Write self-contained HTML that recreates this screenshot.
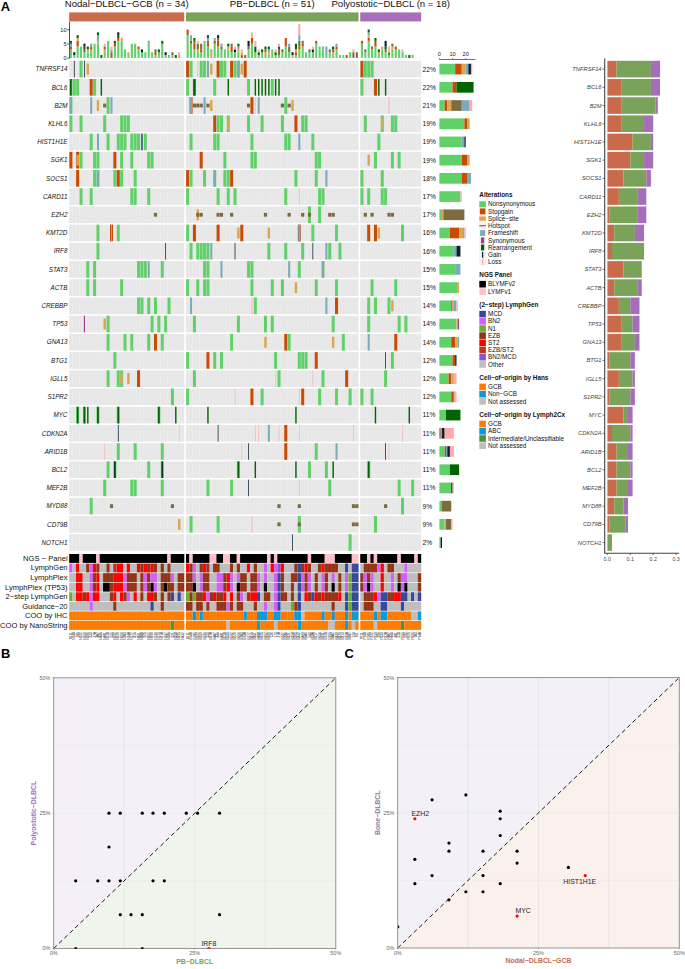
<!DOCTYPE html>
<html><head><meta charset="utf-8"><title>Figure</title>
<style>html,body{margin:0;padding:0;background:#fff}svg{display:block}</style></head>
<body>
<svg width="685" height="969" viewBox="0 0 685 969" font-family="Liberation Sans, sans-serif">
<rect width="685" height="969" fill="#fff"/>
<text x="0.8" y="10.6" font-size="12.9" font-weight="bold" fill="#000">A</text>
<text x="1.0" y="658.3" font-size="12.9" font-weight="bold" fill="#000">B</text>
<text x="344.4" y="658.3" font-size="12.9" font-weight="bold" fill="#000">C</text>
<rect x="69.20" y="12.4" width="115.06" height="9" fill="#c96a4b"/>
<rect x="72.43" y="12.4" width="0.3" height="9" fill="#fff" opacity="0.12"/>
<rect x="75.82" y="12.4" width="0.3" height="9" fill="#fff" opacity="0.12"/>
<rect x="79.20" y="12.4" width="0.3" height="9" fill="#fff" opacity="0.12"/>
<rect x="82.59" y="12.4" width="0.3" height="9" fill="#fff" opacity="0.12"/>
<rect x="85.97" y="12.4" width="0.3" height="9" fill="#fff" opacity="0.12"/>
<rect x="89.35" y="12.4" width="0.3" height="9" fill="#fff" opacity="0.12"/>
<rect x="92.74" y="12.4" width="0.3" height="9" fill="#fff" opacity="0.12"/>
<rect x="96.12" y="12.4" width="0.3" height="9" fill="#fff" opacity="0.12"/>
<rect x="99.51" y="12.4" width="0.3" height="9" fill="#fff" opacity="0.12"/>
<rect x="102.89" y="12.4" width="0.3" height="9" fill="#fff" opacity="0.12"/>
<rect x="106.27" y="12.4" width="0.3" height="9" fill="#fff" opacity="0.12"/>
<rect x="109.66" y="12.4" width="0.3" height="9" fill="#fff" opacity="0.12"/>
<rect x="113.04" y="12.4" width="0.3" height="9" fill="#fff" opacity="0.12"/>
<rect x="116.43" y="12.4" width="0.3" height="9" fill="#fff" opacity="0.12"/>
<rect x="119.81" y="12.4" width="0.3" height="9" fill="#fff" opacity="0.12"/>
<rect x="123.19" y="12.4" width="0.3" height="9" fill="#fff" opacity="0.12"/>
<rect x="126.58" y="12.4" width="0.3" height="9" fill="#fff" opacity="0.12"/>
<rect x="129.96" y="12.4" width="0.3" height="9" fill="#fff" opacity="0.12"/>
<rect x="133.35" y="12.4" width="0.3" height="9" fill="#fff" opacity="0.12"/>
<rect x="136.73" y="12.4" width="0.3" height="9" fill="#fff" opacity="0.12"/>
<rect x="140.11" y="12.4" width="0.3" height="9" fill="#fff" opacity="0.12"/>
<rect x="143.50" y="12.4" width="0.3" height="9" fill="#fff" opacity="0.12"/>
<rect x="146.88" y="12.4" width="0.3" height="9" fill="#fff" opacity="0.12"/>
<rect x="150.27" y="12.4" width="0.3" height="9" fill="#fff" opacity="0.12"/>
<rect x="153.65" y="12.4" width="0.3" height="9" fill="#fff" opacity="0.12"/>
<rect x="157.03" y="12.4" width="0.3" height="9" fill="#fff" opacity="0.12"/>
<rect x="160.42" y="12.4" width="0.3" height="9" fill="#fff" opacity="0.12"/>
<rect x="163.80" y="12.4" width="0.3" height="9" fill="#fff" opacity="0.12"/>
<rect x="167.19" y="12.4" width="0.3" height="9" fill="#fff" opacity="0.12"/>
<rect x="170.57" y="12.4" width="0.3" height="9" fill="#fff" opacity="0.12"/>
<rect x="173.95" y="12.4" width="0.3" height="9" fill="#fff" opacity="0.12"/>
<rect x="177.34" y="12.4" width="0.3" height="9" fill="#fff" opacity="0.12"/>
<rect x="180.72" y="12.4" width="0.3" height="9" fill="#fff" opacity="0.12"/>
<text x="126.73" y="7.0" font-size="9.6" text-anchor="middle" fill="#111">Nodal−DLBCL−GCB (n = 34)</text>
<rect x="185.96" y="12.4" width="172.58" height="9" fill="#78a358"/>
<rect x="189.19" y="12.4" width="0.3" height="9" fill="#fff" opacity="0.12"/>
<rect x="192.57" y="12.4" width="0.3" height="9" fill="#fff" opacity="0.12"/>
<rect x="195.96" y="12.4" width="0.3" height="9" fill="#fff" opacity="0.12"/>
<rect x="199.34" y="12.4" width="0.3" height="9" fill="#fff" opacity="0.12"/>
<rect x="202.73" y="12.4" width="0.3" height="9" fill="#fff" opacity="0.12"/>
<rect x="206.11" y="12.4" width="0.3" height="9" fill="#fff" opacity="0.12"/>
<rect x="209.49" y="12.4" width="0.3" height="9" fill="#fff" opacity="0.12"/>
<rect x="212.88" y="12.4" width="0.3" height="9" fill="#fff" opacity="0.12"/>
<rect x="216.26" y="12.4" width="0.3" height="9" fill="#fff" opacity="0.12"/>
<rect x="219.65" y="12.4" width="0.3" height="9" fill="#fff" opacity="0.12"/>
<rect x="223.03" y="12.4" width="0.3" height="9" fill="#fff" opacity="0.12"/>
<rect x="226.41" y="12.4" width="0.3" height="9" fill="#fff" opacity="0.12"/>
<rect x="229.80" y="12.4" width="0.3" height="9" fill="#fff" opacity="0.12"/>
<rect x="233.18" y="12.4" width="0.3" height="9" fill="#fff" opacity="0.12"/>
<rect x="236.57" y="12.4" width="0.3" height="9" fill="#fff" opacity="0.12"/>
<rect x="239.95" y="12.4" width="0.3" height="9" fill="#fff" opacity="0.12"/>
<rect x="243.33" y="12.4" width="0.3" height="9" fill="#fff" opacity="0.12"/>
<rect x="246.72" y="12.4" width="0.3" height="9" fill="#fff" opacity="0.12"/>
<rect x="250.10" y="12.4" width="0.3" height="9" fill="#fff" opacity="0.12"/>
<rect x="253.49" y="12.4" width="0.3" height="9" fill="#fff" opacity="0.12"/>
<rect x="256.87" y="12.4" width="0.3" height="9" fill="#fff" opacity="0.12"/>
<rect x="260.25" y="12.4" width="0.3" height="9" fill="#fff" opacity="0.12"/>
<rect x="263.64" y="12.4" width="0.3" height="9" fill="#fff" opacity="0.12"/>
<rect x="267.02" y="12.4" width="0.3" height="9" fill="#fff" opacity="0.12"/>
<rect x="270.41" y="12.4" width="0.3" height="9" fill="#fff" opacity="0.12"/>
<rect x="273.79" y="12.4" width="0.3" height="9" fill="#fff" opacity="0.12"/>
<rect x="277.17" y="12.4" width="0.3" height="9" fill="#fff" opacity="0.12"/>
<rect x="280.56" y="12.4" width="0.3" height="9" fill="#fff" opacity="0.12"/>
<rect x="283.94" y="12.4" width="0.3" height="9" fill="#fff" opacity="0.12"/>
<rect x="287.33" y="12.4" width="0.3" height="9" fill="#fff" opacity="0.12"/>
<rect x="290.71" y="12.4" width="0.3" height="9" fill="#fff" opacity="0.12"/>
<rect x="294.09" y="12.4" width="0.3" height="9" fill="#fff" opacity="0.12"/>
<rect x="297.48" y="12.4" width="0.3" height="9" fill="#fff" opacity="0.12"/>
<rect x="300.86" y="12.4" width="0.3" height="9" fill="#fff" opacity="0.12"/>
<rect x="304.25" y="12.4" width="0.3" height="9" fill="#fff" opacity="0.12"/>
<rect x="307.63" y="12.4" width="0.3" height="9" fill="#fff" opacity="0.12"/>
<rect x="311.01" y="12.4" width="0.3" height="9" fill="#fff" opacity="0.12"/>
<rect x="314.40" y="12.4" width="0.3" height="9" fill="#fff" opacity="0.12"/>
<rect x="317.78" y="12.4" width="0.3" height="9" fill="#fff" opacity="0.12"/>
<rect x="321.17" y="12.4" width="0.3" height="9" fill="#fff" opacity="0.12"/>
<rect x="324.55" y="12.4" width="0.3" height="9" fill="#fff" opacity="0.12"/>
<rect x="327.93" y="12.4" width="0.3" height="9" fill="#fff" opacity="0.12"/>
<rect x="331.32" y="12.4" width="0.3" height="9" fill="#fff" opacity="0.12"/>
<rect x="334.70" y="12.4" width="0.3" height="9" fill="#fff" opacity="0.12"/>
<rect x="338.09" y="12.4" width="0.3" height="9" fill="#fff" opacity="0.12"/>
<rect x="341.47" y="12.4" width="0.3" height="9" fill="#fff" opacity="0.12"/>
<rect x="344.85" y="12.4" width="0.3" height="9" fill="#fff" opacity="0.12"/>
<rect x="348.24" y="12.4" width="0.3" height="9" fill="#fff" opacity="0.12"/>
<rect x="351.62" y="12.4" width="0.3" height="9" fill="#fff" opacity="0.12"/>
<rect x="355.01" y="12.4" width="0.3" height="9" fill="#fff" opacity="0.12"/>
<text x="272.25" y="7.0" font-size="9.6" text-anchor="middle" fill="#111">PB−DLBCL (n = 51)</text>
<rect x="360.24" y="12.4" width="60.91" height="9" fill="#a66db9"/>
<rect x="363.47" y="12.4" width="0.3" height="9" fill="#fff" opacity="0.12"/>
<rect x="366.86" y="12.4" width="0.3" height="9" fill="#fff" opacity="0.12"/>
<rect x="370.24" y="12.4" width="0.3" height="9" fill="#fff" opacity="0.12"/>
<rect x="373.63" y="12.4" width="0.3" height="9" fill="#fff" opacity="0.12"/>
<rect x="377.01" y="12.4" width="0.3" height="9" fill="#fff" opacity="0.12"/>
<rect x="380.39" y="12.4" width="0.3" height="9" fill="#fff" opacity="0.12"/>
<rect x="383.78" y="12.4" width="0.3" height="9" fill="#fff" opacity="0.12"/>
<rect x="387.16" y="12.4" width="0.3" height="9" fill="#fff" opacity="0.12"/>
<rect x="390.55" y="12.4" width="0.3" height="9" fill="#fff" opacity="0.12"/>
<rect x="393.93" y="12.4" width="0.3" height="9" fill="#fff" opacity="0.12"/>
<rect x="397.31" y="12.4" width="0.3" height="9" fill="#fff" opacity="0.12"/>
<rect x="400.70" y="12.4" width="0.3" height="9" fill="#fff" opacity="0.12"/>
<rect x="404.08" y="12.4" width="0.3" height="9" fill="#fff" opacity="0.12"/>
<rect x="407.47" y="12.4" width="0.3" height="9" fill="#fff" opacity="0.12"/>
<rect x="410.85" y="12.4" width="0.3" height="9" fill="#fff" opacity="0.12"/>
<rect x="414.23" y="12.4" width="0.3" height="9" fill="#fff" opacity="0.12"/>
<rect x="417.62" y="12.4" width="0.3" height="9" fill="#fff" opacity="0.12"/>
<text x="390.70" y="7.0" font-size="9.6" text-anchor="middle" fill="#111">Polyostotic−DLBCL (n = 18)</text>
<path d="M69.5 21.6V58.3" stroke="#222" stroke-width="0.8" fill="none"/>
<path d="M67.3 58.10H69.5" stroke="#222" stroke-width="0.8"/>
<text x="66.5" y="60.10" font-size="5.6" text-anchor="end" fill="#222">0</text>
<path d="M67.3 43.90H69.5" stroke="#222" stroke-width="0.8"/>
<text x="66.5" y="45.90" font-size="5.6" text-anchor="end" fill="#222">5</text>
<path d="M67.3 29.70H69.5" stroke="#222" stroke-width="0.8"/>
<text x="66.5" y="31.70" font-size="5.6" text-anchor="end" fill="#222">10</text>
<rect x="69.84" y="49.38" width="2.10" height="8.52" fill="#60d068"/>
<rect x="69.84" y="46.54" width="2.10" height="2.84" fill="#c84a03"/>
<rect x="69.84" y="43.70" width="2.10" height="2.84" fill="#7aa9bb"/>
<rect x="69.84" y="40.86" width="2.10" height="2.84" fill="#006400"/>
<rect x="73.23" y="55.06" width="2.10" height="2.84" fill="#60d068"/>
<rect x="73.23" y="52.22" width="2.10" height="2.84" fill="#08202f"/>
<rect x="76.61" y="46.54" width="2.10" height="11.36" fill="#60d068"/>
<rect x="76.61" y="40.86" width="2.10" height="5.68" fill="#c84a03"/>
<rect x="76.61" y="38.02" width="2.10" height="2.84" fill="#dba652"/>
<rect x="76.61" y="35.18" width="2.10" height="2.84" fill="#006400"/>
<rect x="79.99" y="46.54" width="2.10" height="11.36" fill="#60d068"/>
<rect x="83.38" y="52.22" width="2.10" height="5.68" fill="#60d068"/>
<rect x="83.38" y="49.38" width="2.10" height="2.84" fill="#a03c96"/>
<rect x="83.38" y="46.54" width="2.10" height="2.84" fill="#006400"/>
<rect x="83.38" y="43.70" width="2.10" height="2.84" fill="#08202f"/>
<rect x="86.76" y="52.22" width="2.10" height="5.68" fill="#60d068"/>
<rect x="86.76" y="49.38" width="2.10" height="2.84" fill="#dba652"/>
<rect x="86.76" y="46.54" width="2.10" height="2.84" fill="#006400"/>
<rect x="90.15" y="49.38" width="2.10" height="8.52" fill="#60d068"/>
<rect x="90.15" y="46.54" width="2.10" height="2.84" fill="#c84a03"/>
<rect x="90.15" y="43.70" width="2.10" height="2.84" fill="#7aa9bb"/>
<rect x="93.53" y="43.70" width="2.10" height="14.20" fill="#60d068"/>
<rect x="96.91" y="43.70" width="2.10" height="14.20" fill="#60d068"/>
<rect x="96.91" y="40.86" width="2.10" height="2.84" fill="#dba652"/>
<rect x="96.91" y="35.18" width="2.10" height="5.68" fill="#7aa9bb"/>
<rect x="96.91" y="32.34" width="2.10" height="2.84" fill="#006400"/>
<rect x="100.30" y="55.06" width="2.10" height="2.84" fill="#006400"/>
<rect x="103.68" y="52.22" width="2.10" height="5.68" fill="#60d068"/>
<rect x="103.68" y="49.38" width="2.10" height="2.84" fill="#dba652"/>
<rect x="103.68" y="46.54" width="2.10" height="2.84" fill="#7d6b3d"/>
<rect x="103.68" y="43.70" width="2.10" height="2.84" fill="#ffaaaa"/>
<rect x="107.07" y="40.86" width="2.10" height="17.04" fill="#60d068"/>
<rect x="110.45" y="55.06" width="2.10" height="2.84" fill="#c84a03"/>
<rect x="110.45" y="52.22" width="2.10" height="2.84" fill="#7d6b3d"/>
<rect x="110.45" y="49.38" width="2.10" height="2.84" fill="#7aa9bb"/>
<rect x="110.45" y="46.54" width="2.10" height="2.84" fill="#ffaaaa"/>
<rect x="113.83" y="46.54" width="2.10" height="11.36" fill="#60d068"/>
<rect x="113.83" y="43.70" width="2.10" height="2.84" fill="#c84a03"/>
<rect x="113.83" y="40.86" width="2.10" height="2.84" fill="#006400"/>
<rect x="117.22" y="40.86" width="2.10" height="17.04" fill="#60d068"/>
<rect x="117.22" y="38.02" width="2.10" height="2.84" fill="#c84a03"/>
<rect x="117.22" y="35.18" width="2.10" height="2.84" fill="#006400"/>
<rect x="117.22" y="32.34" width="2.10" height="2.84" fill="#08202f"/>
<rect x="120.60" y="40.86" width="2.10" height="17.04" fill="#60d068"/>
<rect x="120.60" y="38.02" width="2.10" height="2.84" fill="#dba652"/>
<rect x="123.99" y="49.38" width="2.10" height="8.52" fill="#60d068"/>
<rect x="127.37" y="55.06" width="2.10" height="2.84" fill="#60d068"/>
<rect x="127.37" y="52.22" width="2.10" height="2.84" fill="#dba652"/>
<rect x="130.75" y="43.70" width="2.10" height="14.20" fill="#60d068"/>
<rect x="134.14" y="43.70" width="2.10" height="14.20" fill="#60d068"/>
<rect x="137.52" y="49.38" width="2.10" height="8.52" fill="#60d068"/>
<rect x="137.52" y="46.54" width="2.10" height="2.84" fill="#c84a03"/>
<rect x="140.91" y="52.22" width="2.10" height="5.68" fill="#60d068"/>
<rect x="140.91" y="49.38" width="2.10" height="2.84" fill="#08202f"/>
<rect x="144.29" y="52.22" width="2.10" height="5.68" fill="#60d068"/>
<rect x="147.67" y="43.70" width="2.10" height="14.20" fill="#60d068"/>
<rect x="147.67" y="40.86" width="2.10" height="2.84" fill="#7aa9bb"/>
<rect x="151.06" y="52.22" width="2.10" height="5.68" fill="#60d068"/>
<rect x="154.44" y="55.06" width="2.10" height="2.84" fill="#60d068"/>
<rect x="154.44" y="52.22" width="2.10" height="2.84" fill="#c84a03"/>
<rect x="154.44" y="49.38" width="2.10" height="2.84" fill="#7d6b3d"/>
<rect x="157.83" y="52.22" width="2.10" height="5.68" fill="#60d068"/>
<rect x="157.83" y="49.38" width="2.10" height="2.84" fill="#006400"/>
<rect x="161.21" y="43.70" width="2.10" height="14.20" fill="#60d068"/>
<rect x="161.21" y="40.86" width="2.10" height="2.84" fill="#006400"/>
<rect x="164.59" y="55.06" width="2.10" height="2.84" fill="#60d068"/>
<rect x="164.59" y="52.22" width="2.10" height="2.84" fill="#08202f"/>
<rect x="167.98" y="55.06" width="2.10" height="2.84" fill="#60d068"/>
<rect x="171.36" y="55.06" width="2.10" height="2.84" fill="#60d068"/>
<rect x="171.36" y="52.22" width="2.10" height="2.84" fill="#7d6b3d"/>
<rect x="174.75" y="55.06" width="2.10" height="2.84" fill="#006400"/>
<rect x="178.13" y="55.06" width="2.10" height="2.84" fill="#dba652"/>
<rect x="178.13" y="52.22" width="2.10" height="2.84" fill="#ffaaaa"/>
<rect x="181.51" y="57.55" width="2.10" height="0.35" fill="#ddd"/>
<rect x="186.60" y="35.18" width="2.10" height="22.72" fill="#60d068"/>
<rect x="186.60" y="29.50" width="2.10" height="5.68" fill="#c84a03"/>
<rect x="189.98" y="43.70" width="2.10" height="14.20" fill="#60d068"/>
<rect x="189.98" y="40.86" width="2.10" height="2.84" fill="#c84a03"/>
<rect x="189.98" y="35.18" width="2.10" height="5.68" fill="#7aa9bb"/>
<rect x="193.37" y="49.38" width="2.10" height="8.52" fill="#60d068"/>
<rect x="193.37" y="43.70" width="2.10" height="5.68" fill="#c84a03"/>
<rect x="193.37" y="40.86" width="2.10" height="2.84" fill="#7d6b3d"/>
<rect x="193.37" y="38.02" width="2.10" height="2.84" fill="#006400"/>
<rect x="196.75" y="52.22" width="2.10" height="5.68" fill="#60d068"/>
<rect x="196.75" y="49.38" width="2.10" height="2.84" fill="#dba652"/>
<rect x="196.75" y="43.70" width="2.10" height="5.68" fill="#7d6b3d"/>
<rect x="196.75" y="40.86" width="2.10" height="2.84" fill="#ffaaaa"/>
<rect x="200.13" y="52.22" width="2.10" height="5.68" fill="#60d068"/>
<rect x="200.13" y="49.38" width="2.10" height="2.84" fill="#c84a03"/>
<rect x="200.13" y="43.70" width="2.10" height="5.68" fill="#7d6b3d"/>
<rect x="203.52" y="43.70" width="2.10" height="14.20" fill="#60d068"/>
<rect x="203.52" y="40.86" width="2.10" height="2.84" fill="#7aa9bb"/>
<rect x="206.90" y="46.54" width="2.10" height="11.36" fill="#60d068"/>
<rect x="206.90" y="43.70" width="2.10" height="2.84" fill="#c84a03"/>
<rect x="206.90" y="40.86" width="2.10" height="2.84" fill="#7d6b3d"/>
<rect x="206.90" y="38.02" width="2.10" height="2.84" fill="#7aa9bb"/>
<rect x="206.90" y="35.18" width="2.10" height="2.84" fill="#006400"/>
<rect x="210.29" y="52.22" width="2.10" height="5.68" fill="#dba652"/>
<rect x="210.29" y="49.38" width="2.10" height="2.84" fill="#7aa9bb"/>
<rect x="213.67" y="43.70" width="2.10" height="14.20" fill="#60d068"/>
<rect x="213.67" y="40.86" width="2.10" height="2.84" fill="#c84a03"/>
<rect x="213.67" y="38.02" width="2.10" height="2.84" fill="#7aa9bb"/>
<rect x="217.05" y="46.54" width="2.10" height="11.36" fill="#60d068"/>
<rect x="217.05" y="40.86" width="2.10" height="5.68" fill="#c84a03"/>
<rect x="217.05" y="38.02" width="2.10" height="2.84" fill="#7d6b3d"/>
<rect x="217.05" y="35.18" width="2.10" height="2.84" fill="#08202f"/>
<rect x="220.44" y="49.38" width="2.10" height="8.52" fill="#60d068"/>
<rect x="220.44" y="46.54" width="2.10" height="2.84" fill="#7d6b3d"/>
<rect x="220.44" y="43.70" width="2.10" height="2.84" fill="#7aa9bb"/>
<rect x="223.82" y="49.38" width="2.10" height="8.52" fill="#60d068"/>
<rect x="227.21" y="49.38" width="2.10" height="8.52" fill="#60d068"/>
<rect x="227.21" y="46.54" width="2.10" height="2.84" fill="#dba652"/>
<rect x="227.21" y="43.70" width="2.10" height="2.84" fill="#006400"/>
<rect x="230.59" y="52.22" width="2.10" height="5.68" fill="#60d068"/>
<rect x="230.59" y="46.54" width="2.10" height="5.68" fill="#c84a03"/>
<rect x="230.59" y="43.70" width="2.10" height="2.84" fill="#7d6b3d"/>
<rect x="233.97" y="52.22" width="2.10" height="5.68" fill="#60d068"/>
<rect x="233.97" y="49.38" width="2.10" height="2.84" fill="#08202f"/>
<rect x="233.97" y="46.54" width="2.10" height="2.84" fill="#ffaaaa"/>
<rect x="237.36" y="52.22" width="2.10" height="5.68" fill="#60d068"/>
<rect x="237.36" y="49.38" width="2.10" height="2.84" fill="#dba652"/>
<rect x="237.36" y="46.54" width="2.10" height="2.84" fill="#7aa9bb"/>
<rect x="237.36" y="43.70" width="2.10" height="2.84" fill="#006400"/>
<rect x="240.74" y="55.06" width="2.10" height="2.84" fill="#c84a03"/>
<rect x="240.74" y="52.22" width="2.10" height="2.84" fill="#dba652"/>
<rect x="240.74" y="49.38" width="2.10" height="2.84" fill="#ffaaaa"/>
<rect x="244.13" y="55.06" width="2.10" height="2.84" fill="#c84a03"/>
<rect x="247.51" y="49.38" width="2.10" height="8.52" fill="#60d068"/>
<rect x="247.51" y="46.54" width="2.10" height="2.84" fill="#7d6b3d"/>
<rect x="247.51" y="40.86" width="2.10" height="5.68" fill="#08202f"/>
<rect x="250.89" y="43.70" width="2.10" height="14.20" fill="#60d068"/>
<rect x="250.89" y="38.02" width="2.10" height="5.68" fill="#c84a03"/>
<rect x="250.89" y="32.34" width="2.10" height="5.68" fill="#ffaaaa"/>
<rect x="254.28" y="52.22" width="2.10" height="5.68" fill="#60d068"/>
<rect x="254.28" y="46.54" width="2.10" height="5.68" fill="#006400"/>
<rect x="254.28" y="40.86" width="2.10" height="5.68" fill="#ffaaaa"/>
<rect x="257.66" y="55.06" width="2.10" height="2.84" fill="#7aa9bb"/>
<rect x="257.66" y="52.22" width="2.10" height="2.84" fill="#006400"/>
<rect x="257.66" y="49.38" width="2.10" height="2.84" fill="#ffaaaa"/>
<rect x="261.05" y="52.22" width="2.10" height="5.68" fill="#60d068"/>
<rect x="261.05" y="49.38" width="2.10" height="2.84" fill="#006400"/>
<rect x="264.43" y="55.06" width="2.10" height="2.84" fill="#60d068"/>
<rect x="264.43" y="52.22" width="2.10" height="2.84" fill="#dba652"/>
<rect x="264.43" y="49.38" width="2.10" height="2.84" fill="#7d6b3d"/>
<rect x="264.43" y="46.54" width="2.10" height="2.84" fill="#006400"/>
<rect x="267.81" y="55.06" width="2.10" height="2.84" fill="#60d068"/>
<rect x="267.81" y="52.22" width="2.10" height="2.84" fill="#dba652"/>
<rect x="267.81" y="49.38" width="2.10" height="2.84" fill="#7aa9bb"/>
<rect x="267.81" y="46.54" width="2.10" height="2.84" fill="#006400"/>
<rect x="271.20" y="49.38" width="2.10" height="8.52" fill="#60d068"/>
<rect x="274.58" y="55.06" width="2.10" height="2.84" fill="#60d068"/>
<rect x="274.58" y="52.22" width="2.10" height="2.84" fill="#006400"/>
<rect x="274.58" y="49.38" width="2.10" height="2.84" fill="#ffaaaa"/>
<rect x="277.97" y="55.06" width="2.10" height="2.84" fill="#60d068"/>
<rect x="277.97" y="49.38" width="2.10" height="5.68" fill="#7d6b3d"/>
<rect x="277.97" y="46.54" width="2.10" height="2.84" fill="#006400"/>
<rect x="277.97" y="43.70" width="2.10" height="2.84" fill="#ffaaaa"/>
<rect x="281.35" y="52.22" width="2.10" height="5.68" fill="#60d068"/>
<rect x="281.35" y="49.38" width="2.10" height="2.84" fill="#7d6b3d"/>
<rect x="284.73" y="46.54" width="2.10" height="11.36" fill="#60d068"/>
<rect x="284.73" y="38.02" width="2.10" height="8.52" fill="#c84a03"/>
<rect x="288.12" y="52.22" width="2.10" height="5.68" fill="#60d068"/>
<rect x="288.12" y="46.54" width="2.10" height="5.68" fill="#7d6b3d"/>
<rect x="288.12" y="43.70" width="2.10" height="2.84" fill="#7aa9bb"/>
<rect x="291.50" y="55.06" width="2.10" height="2.84" fill="#dba652"/>
<rect x="291.50" y="52.22" width="2.10" height="2.84" fill="#08202f"/>
<rect x="294.89" y="55.06" width="2.10" height="2.84" fill="#60d068"/>
<rect x="294.89" y="52.22" width="2.10" height="2.84" fill="#c84a03"/>
<rect x="294.89" y="49.38" width="2.10" height="2.84" fill="#dba652"/>
<rect x="294.89" y="43.70" width="2.10" height="5.68" fill="#006400"/>
<rect x="298.27" y="49.38" width="2.10" height="8.52" fill="#60d068"/>
<rect x="298.27" y="46.54" width="2.10" height="2.84" fill="#c84a03"/>
<rect x="298.27" y="40.86" width="2.10" height="5.68" fill="#7d6b3d"/>
<rect x="298.27" y="35.18" width="2.10" height="5.68" fill="#7aa9bb"/>
<rect x="298.27" y="23.82" width="2.10" height="11.36" fill="#ffaaaa"/>
<rect x="301.65" y="46.54" width="2.10" height="11.36" fill="#60d068"/>
<rect x="301.65" y="43.70" width="2.10" height="2.84" fill="#c84a03"/>
<rect x="301.65" y="40.86" width="2.10" height="2.84" fill="#7d6b3d"/>
<rect x="305.04" y="52.22" width="2.10" height="5.68" fill="#60d068"/>
<rect x="308.42" y="52.22" width="2.10" height="5.68" fill="#60d068"/>
<rect x="308.42" y="49.38" width="2.10" height="2.84" fill="#7d6b3d"/>
<rect x="311.81" y="52.22" width="2.10" height="5.68" fill="#60d068"/>
<rect x="311.81" y="49.38" width="2.10" height="2.84" fill="#08202f"/>
<rect x="311.81" y="46.54" width="2.10" height="2.84" fill="#ffaaaa"/>
<rect x="315.19" y="43.70" width="2.10" height="14.20" fill="#60d068"/>
<rect x="315.19" y="40.86" width="2.10" height="2.84" fill="#c84a03"/>
<rect x="318.57" y="46.54" width="2.10" height="11.36" fill="#60d068"/>
<rect x="321.96" y="49.38" width="2.10" height="8.52" fill="#60d068"/>
<rect x="321.96" y="46.54" width="2.10" height="2.84" fill="#7aa9bb"/>
<rect x="325.34" y="55.06" width="2.10" height="2.84" fill="#60d068"/>
<rect x="325.34" y="46.54" width="2.10" height="8.52" fill="#7aa9bb"/>
<rect x="328.73" y="52.22" width="2.10" height="5.68" fill="#60d068"/>
<rect x="328.73" y="49.38" width="2.10" height="2.84" fill="#7d6b3d"/>
<rect x="332.11" y="55.06" width="2.10" height="2.84" fill="#60d068"/>
<rect x="332.11" y="52.22" width="2.10" height="2.84" fill="#dba652"/>
<rect x="332.11" y="49.38" width="2.10" height="2.84" fill="#7d6b3d"/>
<rect x="332.11" y="46.54" width="2.10" height="2.84" fill="#006400"/>
<rect x="335.49" y="49.38" width="2.10" height="8.52" fill="#60d068"/>
<rect x="335.49" y="46.54" width="2.10" height="2.84" fill="#c84a03"/>
<rect x="335.49" y="43.70" width="2.10" height="2.84" fill="#7aa9bb"/>
<rect x="338.88" y="55.06" width="2.10" height="2.84" fill="#60d068"/>
<rect x="342.26" y="55.06" width="2.10" height="2.84" fill="#60d068"/>
<rect x="345.65" y="55.06" width="2.10" height="2.84" fill="#c84a03"/>
<rect x="349.03" y="52.22" width="2.10" height="5.68" fill="#60d068"/>
<rect x="352.41" y="52.22" width="2.10" height="5.68" fill="#7d6b3d"/>
<rect x="352.41" y="49.38" width="2.10" height="2.84" fill="#ffaaaa"/>
<rect x="355.80" y="52.22" width="2.10" height="5.68" fill="#7d6b3d"/>
<rect x="360.88" y="43.70" width="2.10" height="14.20" fill="#60d068"/>
<rect x="360.88" y="40.86" width="2.10" height="2.84" fill="#c84a03"/>
<rect x="364.27" y="52.22" width="2.10" height="5.68" fill="#60d068"/>
<rect x="364.27" y="49.38" width="2.10" height="2.84" fill="#7d6b3d"/>
<rect x="367.65" y="40.86" width="2.10" height="17.04" fill="#60d068"/>
<rect x="367.65" y="38.02" width="2.10" height="2.84" fill="#c84a03"/>
<rect x="367.65" y="35.18" width="2.10" height="2.84" fill="#dba652"/>
<rect x="367.65" y="32.34" width="2.10" height="2.84" fill="#7aa9bb"/>
<rect x="367.65" y="29.50" width="2.10" height="2.84" fill="#006400"/>
<rect x="371.03" y="49.38" width="2.10" height="8.52" fill="#60d068"/>
<rect x="371.03" y="46.54" width="2.10" height="2.84" fill="#7d6b3d"/>
<rect x="374.42" y="46.54" width="2.10" height="11.36" fill="#60d068"/>
<rect x="374.42" y="40.86" width="2.10" height="5.68" fill="#c84a03"/>
<rect x="374.42" y="38.02" width="2.10" height="2.84" fill="#006400"/>
<rect x="377.80" y="55.06" width="2.10" height="2.84" fill="#60d068"/>
<rect x="377.80" y="52.22" width="2.10" height="2.84" fill="#dba652"/>
<rect x="377.80" y="49.38" width="2.10" height="2.84" fill="#006400"/>
<rect x="381.19" y="49.38" width="2.10" height="8.52" fill="#60d068"/>
<rect x="381.19" y="46.54" width="2.10" height="2.84" fill="#dba652"/>
<rect x="384.57" y="52.22" width="2.10" height="5.68" fill="#60d068"/>
<rect x="384.57" y="49.38" width="2.10" height="2.84" fill="#7d6b3d"/>
<rect x="384.57" y="46.54" width="2.10" height="2.84" fill="#006400"/>
<rect x="384.57" y="40.86" width="2.10" height="5.68" fill="#08202f"/>
<rect x="387.95" y="55.06" width="2.10" height="2.84" fill="#60d068"/>
<rect x="387.95" y="52.22" width="2.10" height="2.84" fill="#7d6b3d"/>
<rect x="387.95" y="46.54" width="2.10" height="5.68" fill="#ffaaaa"/>
<rect x="391.34" y="49.38" width="2.10" height="8.52" fill="#60d068"/>
<rect x="391.34" y="46.54" width="2.10" height="2.84" fill="#dba652"/>
<rect x="391.34" y="43.70" width="2.10" height="2.84" fill="#7d6b3d"/>
<rect x="394.72" y="49.38" width="2.10" height="8.52" fill="#60d068"/>
<rect x="394.72" y="46.54" width="2.10" height="2.84" fill="#c84a03"/>
<rect x="398.11" y="49.38" width="2.10" height="8.52" fill="#60d068"/>
<rect x="401.49" y="52.22" width="2.10" height="5.68" fill="#60d068"/>
<rect x="401.49" y="49.38" width="2.10" height="2.84" fill="#ffaaaa"/>
<rect x="404.87" y="55.06" width="2.10" height="2.84" fill="#60d068"/>
<rect x="408.26" y="55.06" width="2.10" height="2.84" fill="#006400"/>
<rect x="411.64" y="55.06" width="2.10" height="2.84" fill="#60d068"/>
<rect x="415.03" y="57.55" width="2.10" height="0.35" fill="#ddd"/>
<rect x="418.41" y="57.55" width="2.10" height="0.35" fill="#ddd"/>
<rect x="69.20" y="60.80" width="115.06" height="16.6" fill="#e7e7e7"/>
<path d="M72.58 60.80v16.6M75.97 60.80v16.6M79.35 60.80v16.6M82.74 60.80v16.6M86.12 60.80v16.6M89.50 60.80v16.6M92.89 60.80v16.6M96.27 60.80v16.6M99.66 60.80v16.6M103.04 60.80v16.6M106.42 60.80v16.6M109.81 60.80v16.6M113.19 60.80v16.6M116.58 60.80v16.6M119.96 60.80v16.6M123.34 60.80v16.6M126.73 60.80v16.6M130.11 60.80v16.6M133.50 60.80v16.6M136.88 60.80v16.6M140.26 60.80v16.6M143.65 60.80v16.6M147.03 60.80v16.6M150.42 60.80v16.6M153.80 60.80v16.6M157.18 60.80v16.6M160.57 60.80v16.6M163.95 60.80v16.6M167.34 60.80v16.6M170.72 60.80v16.6M174.10 60.80v16.6M177.49 60.80v16.6M180.87 60.80v16.6" stroke="#f4f4f4" stroke-width="0.35" fill="none"/>
<rect x="73.90" y="60.80" width="0.74" height="16.6" fill="#08202f"/>
<rect x="79.53" y="60.80" width="3.02" height="16.6" fill="#60d068"/>
<rect x="84.06" y="60.80" width="0.74" height="16.6" fill="#08202f"/>
<rect x="86.57" y="63.62" width="2.48" height="10.96" fill="#dba652"/>
<rect x="185.96" y="60.80" width="172.58" height="16.6" fill="#e7e7e7"/>
<path d="M189.34 60.80v16.6M192.72 60.80v16.6M196.11 60.80v16.6M199.49 60.80v16.6M202.88 60.80v16.6M206.26 60.80v16.6M209.64 60.80v16.6M213.03 60.80v16.6M216.41 60.80v16.6M219.80 60.80v16.6M223.18 60.80v16.6M226.56 60.80v16.6M229.95 60.80v16.6M233.33 60.80v16.6M236.72 60.80v16.6M240.10 60.80v16.6M243.48 60.80v16.6M246.87 60.80v16.6M250.25 60.80v16.6M253.64 60.80v16.6M257.02 60.80v16.6M260.40 60.80v16.6M263.79 60.80v16.6M267.17 60.80v16.6M270.56 60.80v16.6M273.94 60.80v16.6M277.32 60.80v16.6M280.71 60.80v16.6M284.09 60.80v16.6M287.48 60.80v16.6M290.86 60.80v16.6M294.24 60.80v16.6M297.63 60.80v16.6M301.01 60.80v16.6M304.40 60.80v16.6M307.78 60.80v16.6M311.16 60.80v16.6M314.55 60.80v16.6M317.93 60.80v16.6M321.32 60.80v16.6M324.70 60.80v16.6M328.08 60.80v16.6M331.47 60.80v16.6M334.85 60.80v16.6M338.24 60.80v16.6M341.62 60.80v16.6M345.00 60.80v16.6M348.39 60.80v16.6M351.77 60.80v16.6M355.16 60.80v16.6" stroke="#f4f4f4" stroke-width="0.35" fill="none"/>
<rect x="186.14" y="60.80" width="3.02" height="16.6" fill="#c84a03"/>
<rect x="189.52" y="60.80" width="3.02" height="16.6" fill="#60d068"/>
<rect x="197.50" y="60.80" width="0.61" height="16.6" fill="#ffaaaa"/>
<rect x="199.67" y="60.80" width="3.02" height="16.6" fill="#60d068"/>
<rect x="203.06" y="60.80" width="3.02" height="16.6" fill="#60d068"/>
<rect x="206.94" y="60.80" width="2.03" height="16.6" fill="#7aa9bb"/>
<rect x="210.09" y="63.62" width="2.48" height="10.96" fill="#dba652"/>
<rect x="216.59" y="60.80" width="3.02" height="16.6" fill="#c84a03"/>
<rect x="219.98" y="60.80" width="3.02" height="16.6" fill="#60d068"/>
<rect x="223.36" y="60.80" width="3.02" height="16.6" fill="#60d068"/>
<rect x="230.13" y="60.80" width="3.02" height="16.6" fill="#c84a03"/>
<rect x="233.51" y="60.80" width="3.02" height="16.6" fill="#60d068"/>
<rect x="236.90" y="60.80" width="3.02" height="16.6" fill="#60d068"/><rect x="237.39" y="60.80" width="2.03" height="16.6" fill="#7aa9bb"/>
<rect x="240.55" y="63.62" width="2.48" height="10.96" fill="#dba652"/>
<rect x="243.66" y="60.80" width="3.02" height="16.6" fill="#c84a03"/>
<rect x="360.24" y="60.80" width="60.91" height="16.6" fill="#e7e7e7"/>
<path d="M363.62 60.80v16.6M367.01 60.80v16.6M370.39 60.80v16.6M373.78 60.80v16.6M377.16 60.80v16.6M380.54 60.80v16.6M383.93 60.80v16.6M387.31 60.80v16.6M390.70 60.80v16.6M394.08 60.80v16.6M397.46 60.80v16.6M400.85 60.80v16.6M404.23 60.80v16.6M407.62 60.80v16.6M411.00 60.80v16.6M414.38 60.80v16.6M417.77 60.80v16.6" stroke="#f4f4f4" stroke-width="0.35" fill="none"/>
<rect x="360.42" y="60.80" width="3.02" height="16.6" fill="#c84a03"/>
<rect x="363.80" y="60.80" width="3.02" height="16.6" fill="#60d068"/>
<rect x="367.19" y="60.80" width="3.02" height="16.6" fill="#60d068"/>
<rect x="370.57" y="60.80" width="3.02" height="16.6" fill="#60d068"/>
<text x="67.4" y="71.30" font-size="6.3" font-style="italic" text-anchor="end" fill="#111">TNFRSF14</text>
<text x="422.6" y="71.50" font-size="6.7" fill="#111">22%</text>
<rect x="69.20" y="79.01" width="115.06" height="16.6" fill="#e7e7e7"/>
<path d="M72.58 79.01v16.6M75.97 79.01v16.6M79.35 79.01v16.6M82.74 79.01v16.6M86.12 79.01v16.6M89.50 79.01v16.6M92.89 79.01v16.6M96.27 79.01v16.6M99.66 79.01v16.6M103.04 79.01v16.6M106.42 79.01v16.6M109.81 79.01v16.6M113.19 79.01v16.6M116.58 79.01v16.6M119.96 79.01v16.6M123.34 79.01v16.6M126.73 79.01v16.6M130.11 79.01v16.6M133.50 79.01v16.6M136.88 79.01v16.6M140.26 79.01v16.6M143.65 79.01v16.6M147.03 79.01v16.6M150.42 79.01v16.6M153.80 79.01v16.6M157.18 79.01v16.6M160.57 79.01v16.6M163.95 79.01v16.6M167.34 79.01v16.6M170.72 79.01v16.6M174.10 79.01v16.6M177.49 79.01v16.6M180.87 79.01v16.6" stroke="#f4f4f4" stroke-width="0.35" fill="none"/>
<rect x="69.38" y="79.01" width="3.02" height="16.6" fill="#60d068"/><rect x="70.05" y="79.01" width="1.69" height="16.6" fill="#006400"/>
<rect x="72.76" y="79.01" width="3.02" height="16.6" fill="#60d068"/>
<rect x="76.15" y="79.01" width="3.02" height="16.6" fill="#60d068"/>
<rect x="89.68" y="79.01" width="3.02" height="16.6" fill="#c84a03"/>
<rect x="93.07" y="79.01" width="3.02" height="16.6" fill="#60d068"/>
<rect x="100.64" y="79.01" width="1.42" height="16.6" fill="#006400"/>
<rect x="185.96" y="79.01" width="172.58" height="16.6" fill="#e7e7e7"/>
<path d="M189.34 79.01v16.6M192.72 79.01v16.6M196.11 79.01v16.6M199.49 79.01v16.6M202.88 79.01v16.6M206.26 79.01v16.6M209.64 79.01v16.6M213.03 79.01v16.6M216.41 79.01v16.6M219.80 79.01v16.6M223.18 79.01v16.6M226.56 79.01v16.6M229.95 79.01v16.6M233.33 79.01v16.6M236.72 79.01v16.6M240.10 79.01v16.6M243.48 79.01v16.6M246.87 79.01v16.6M250.25 79.01v16.6M253.64 79.01v16.6M257.02 79.01v16.6M260.40 79.01v16.6M263.79 79.01v16.6M267.17 79.01v16.6M270.56 79.01v16.6M273.94 79.01v16.6M277.32 79.01v16.6M280.71 79.01v16.6M284.09 79.01v16.6M287.48 79.01v16.6M290.86 79.01v16.6M294.24 79.01v16.6M297.63 79.01v16.6M301.01 79.01v16.6M304.40 79.01v16.6M307.78 79.01v16.6M311.16 79.01v16.6M314.55 79.01v16.6M317.93 79.01v16.6M321.32 79.01v16.6M324.70 79.01v16.6M328.08 79.01v16.6M331.47 79.01v16.6M334.85 79.01v16.6M338.24 79.01v16.6M341.62 79.01v16.6M345.00 79.01v16.6M348.39 79.01v16.6M351.77 79.01v16.6M355.16 79.01v16.6" stroke="#f4f4f4" stroke-width="0.35" fill="none"/>
<rect x="186.14" y="79.01" width="3.02" height="16.6" fill="#60d068"/>
<rect x="192.90" y="79.01" width="3.02" height="16.6" fill="#c84a03"/><rect x="193.57" y="79.01" width="1.69" height="16.6" fill="#006400"/>
<rect x="213.21" y="79.01" width="3.02" height="16.6" fill="#60d068"/>
<rect x="227.55" y="79.01" width="1.42" height="16.6" fill="#006400"/>
<rect x="247.05" y="79.01" width="3.02" height="16.6" fill="#60d068"/>
<rect x="254.62" y="79.01" width="1.42" height="16.6" fill="#006400"/>
<rect x="258.00" y="79.01" width="1.42" height="16.6" fill="#006400"/>
<rect x="261.39" y="79.01" width="1.42" height="16.6" fill="#006400"/>
<rect x="264.77" y="79.01" width="1.42" height="16.6" fill="#006400"/>
<rect x="268.15" y="79.01" width="1.42" height="16.6" fill="#006400"/>
<rect x="270.74" y="79.01" width="3.02" height="16.6" fill="#60d068"/>
<rect x="274.92" y="79.01" width="1.42" height="16.6" fill="#006400"/>
<rect x="278.31" y="79.01" width="1.42" height="16.6" fill="#006400"/>
<rect x="360.24" y="79.01" width="60.91" height="16.6" fill="#e7e7e7"/>
<path d="M363.62 79.01v16.6M367.01 79.01v16.6M370.39 79.01v16.6M373.78 79.01v16.6M377.16 79.01v16.6M380.54 79.01v16.6M383.93 79.01v16.6M387.31 79.01v16.6M390.70 79.01v16.6M394.08 79.01v16.6M397.46 79.01v16.6M400.85 79.01v16.6M404.23 79.01v16.6M407.62 79.01v16.6M411.00 79.01v16.6M414.38 79.01v16.6M417.77 79.01v16.6" stroke="#f4f4f4" stroke-width="0.35" fill="none"/>
<rect x="360.42" y="79.01" width="3.02" height="16.6" fill="#60d068"/>
<rect x="373.96" y="79.01" width="3.02" height="16.6" fill="#c84a03"/>
<rect x="378.14" y="79.01" width="1.42" height="16.6" fill="#006400"/>
<rect x="384.91" y="79.01" width="1.42" height="16.6" fill="#006400"/>
<text x="67.4" y="89.51" font-size="6.3" font-style="italic" text-anchor="end" fill="#111">BCL6</text>
<text x="422.6" y="89.71" font-size="6.7" fill="#111">22%</text>
<rect x="69.20" y="97.22" width="115.06" height="16.6" fill="#e7e7e7"/>
<path d="M72.58 97.22v16.6M75.97 97.22v16.6M79.35 97.22v16.6M82.74 97.22v16.6M86.12 97.22v16.6M89.50 97.22v16.6M92.89 97.22v16.6M96.27 97.22v16.6M99.66 97.22v16.6M103.04 97.22v16.6M106.42 97.22v16.6M109.81 97.22v16.6M113.19 97.22v16.6M116.58 97.22v16.6M119.96 97.22v16.6M123.34 97.22v16.6M126.73 97.22v16.6M130.11 97.22v16.6M133.50 97.22v16.6M136.88 97.22v16.6M140.26 97.22v16.6M143.65 97.22v16.6M147.03 97.22v16.6M150.42 97.22v16.6M153.80 97.22v16.6M157.18 97.22v16.6M160.57 97.22v16.6M163.95 97.22v16.6M167.34 97.22v16.6M170.72 97.22v16.6M174.10 97.22v16.6M177.49 97.22v16.6M180.87 97.22v16.6" stroke="#f4f4f4" stroke-width="0.35" fill="none"/>
<rect x="69.38" y="97.22" width="3.02" height="16.6" fill="#60d068"/><rect x="69.88" y="97.22" width="2.03" height="16.6" fill="#7aa9bb"/>
<rect x="90.18" y="97.22" width="2.03" height="16.6" fill="#7aa9bb"/>
<rect x="96.72" y="100.04" width="2.48" height="10.96" fill="#dba652"/>
<rect x="103.12" y="103.61" width="3.22" height="3.82" fill="#7d6b3d"/>
<rect x="106.60" y="97.22" width="3.02" height="16.6" fill="#60d068"/>
<rect x="110.48" y="97.22" width="2.03" height="16.6" fill="#7aa9bb"/>
<rect x="185.96" y="97.22" width="172.58" height="16.6" fill="#e7e7e7"/>
<path d="M189.34 97.22v16.6M192.72 97.22v16.6M196.11 97.22v16.6M199.49 97.22v16.6M202.88 97.22v16.6M206.26 97.22v16.6M209.64 97.22v16.6M213.03 97.22v16.6M216.41 97.22v16.6M219.80 97.22v16.6M223.18 97.22v16.6M226.56 97.22v16.6M229.95 97.22v16.6M233.33 97.22v16.6M236.72 97.22v16.6M240.10 97.22v16.6M243.48 97.22v16.6M246.87 97.22v16.6M250.25 97.22v16.6M253.64 97.22v16.6M257.02 97.22v16.6M260.40 97.22v16.6M263.79 97.22v16.6M267.17 97.22v16.6M270.56 97.22v16.6M273.94 97.22v16.6M277.32 97.22v16.6M280.71 97.22v16.6M284.09 97.22v16.6M287.48 97.22v16.6M290.86 97.22v16.6M294.24 97.22v16.6M297.63 97.22v16.6M301.01 97.22v16.6M304.40 97.22v16.6M307.78 97.22v16.6M311.16 97.22v16.6M314.55 97.22v16.6M317.93 97.22v16.6M321.32 97.22v16.6M324.70 97.22v16.6M328.08 97.22v16.6M331.47 97.22v16.6M334.85 97.22v16.6M338.24 97.22v16.6M341.62 97.22v16.6M345.00 97.22v16.6M348.39 97.22v16.6M351.77 97.22v16.6M355.16 97.22v16.6" stroke="#f4f4f4" stroke-width="0.35" fill="none"/>
<rect x="189.52" y="97.22" width="3.02" height="16.6" fill="#c84a03"/><rect x="190.02" y="97.22" width="2.03" height="16.6" fill="#7aa9bb"/>
<rect x="192.80" y="103.61" width="3.22" height="3.82" fill="#7d6b3d"/>
<rect x="196.19" y="103.61" width="3.22" height="3.82" fill="#7d6b3d"/>
<rect x="199.57" y="103.61" width="3.22" height="3.82" fill="#7d6b3d"/>
<rect x="203.55" y="97.22" width="2.03" height="16.6" fill="#7aa9bb"/>
<rect x="206.34" y="103.61" width="3.22" height="3.82" fill="#7d6b3d"/>
<rect x="210.09" y="100.04" width="2.48" height="10.96" fill="#dba652"/>
<rect x="246.95" y="103.61" width="3.22" height="3.82" fill="#7d6b3d"/>
<rect x="250.43" y="97.22" width="3.02" height="16.6" fill="#c84a03"/>
<rect x="255.02" y="97.22" width="0.61" height="16.6" fill="#ffaaaa"/>
<rect x="257.70" y="97.22" width="2.03" height="16.6" fill="#7aa9bb"/>
<rect x="280.79" y="103.61" width="3.22" height="3.82" fill="#7d6b3d"/>
<rect x="284.27" y="97.22" width="3.02" height="16.6" fill="#60d068"/>
<rect x="287.56" y="103.61" width="3.22" height="3.82" fill="#7d6b3d"/>
<rect x="291.31" y="100.04" width="2.48" height="10.96" fill="#dba652"/>
<rect x="360.24" y="97.22" width="60.91" height="16.6" fill="#e7e7e7"/>
<path d="M363.62 97.22v16.6M367.01 97.22v16.6M370.39 97.22v16.6M373.78 97.22v16.6M377.16 97.22v16.6M380.54 97.22v16.6M383.93 97.22v16.6M387.31 97.22v16.6M390.70 97.22v16.6M394.08 97.22v16.6M397.46 97.22v16.6M400.85 97.22v16.6M404.23 97.22v16.6M407.62 97.22v16.6M411.00 97.22v16.6M414.38 97.22v16.6M417.77 97.22v16.6" stroke="#f4f4f4" stroke-width="0.35" fill="none"/>
<rect x="388.16" y="97.22" width="1.69" height="16.6" fill="#f6c6c6"/>
<text x="67.4" y="107.72" font-size="6.3" font-style="italic" text-anchor="end" fill="#111">B2M</text>
<text x="422.6" y="107.92" font-size="6.7" fill="#111">21%</text>
<rect x="69.20" y="115.43" width="115.06" height="16.6" fill="#e7e7e7"/>
<path d="M72.58 115.43v16.6M75.97 115.43v16.6M79.35 115.43v16.6M82.74 115.43v16.6M86.12 115.43v16.6M89.50 115.43v16.6M92.89 115.43v16.6M96.27 115.43v16.6M99.66 115.43v16.6M103.04 115.43v16.6M106.42 115.43v16.6M109.81 115.43v16.6M113.19 115.43v16.6M116.58 115.43v16.6M119.96 115.43v16.6M123.34 115.43v16.6M126.73 115.43v16.6M130.11 115.43v16.6M133.50 115.43v16.6M136.88 115.43v16.6M140.26 115.43v16.6M143.65 115.43v16.6M147.03 115.43v16.6M150.42 115.43v16.6M153.80 115.43v16.6M157.18 115.43v16.6M160.57 115.43v16.6M163.95 115.43v16.6M167.34 115.43v16.6M170.72 115.43v16.6M174.10 115.43v16.6M177.49 115.43v16.6M180.87 115.43v16.6" stroke="#f4f4f4" stroke-width="0.35" fill="none"/>
<rect x="69.38" y="115.43" width="3.02" height="16.6" fill="#60d068"/>
<rect x="79.53" y="115.43" width="3.02" height="16.6" fill="#60d068"/>
<rect x="103.22" y="115.43" width="3.02" height="16.6" fill="#60d068"/>
<rect x="120.14" y="115.43" width="3.02" height="16.6" fill="#60d068"/>
<rect x="123.52" y="115.43" width="3.02" height="16.6" fill="#60d068"/>
<rect x="126.91" y="115.43" width="3.02" height="16.6" fill="#60d068"/>
<rect x="185.96" y="115.43" width="172.58" height="16.6" fill="#e7e7e7"/>
<path d="M189.34 115.43v16.6M192.72 115.43v16.6M196.11 115.43v16.6M199.49 115.43v16.6M202.88 115.43v16.6M206.26 115.43v16.6M209.64 115.43v16.6M213.03 115.43v16.6M216.41 115.43v16.6M219.80 115.43v16.6M223.18 115.43v16.6M226.56 115.43v16.6M229.95 115.43v16.6M233.33 115.43v16.6M236.72 115.43v16.6M240.10 115.43v16.6M243.48 115.43v16.6M246.87 115.43v16.6M250.25 115.43v16.6M253.64 115.43v16.6M257.02 115.43v16.6M260.40 115.43v16.6M263.79 115.43v16.6M267.17 115.43v16.6M270.56 115.43v16.6M273.94 115.43v16.6M277.32 115.43v16.6M280.71 115.43v16.6M284.09 115.43v16.6M287.48 115.43v16.6M290.86 115.43v16.6M294.24 115.43v16.6M297.63 115.43v16.6M301.01 115.43v16.6M304.40 115.43v16.6M307.78 115.43v16.6M311.16 115.43v16.6M314.55 115.43v16.6M317.93 115.43v16.6M321.32 115.43v16.6M324.70 115.43v16.6M328.08 115.43v16.6M331.47 115.43v16.6M334.85 115.43v16.6M338.24 115.43v16.6M341.62 115.43v16.6M345.00 115.43v16.6M348.39 115.43v16.6M351.77 115.43v16.6M355.16 115.43v16.6" stroke="#f4f4f4" stroke-width="0.35" fill="none"/>
<rect x="213.21" y="115.43" width="3.02" height="16.6" fill="#c84a03"/>
<rect x="216.59" y="115.43" width="3.02" height="16.6" fill="#60d068"/>
<rect x="219.98" y="115.43" width="3.02" height="16.6" fill="#60d068"/>
<rect x="226.74" y="115.43" width="3.02" height="16.6" fill="#60d068"/><rect x="227.01" y="118.25" width="2.48" height="10.96" fill="#dba652"/>
<rect x="247.05" y="115.43" width="3.02" height="16.6" fill="#60d068"/>
<rect x="260.58" y="115.43" width="3.02" height="16.6" fill="#60d068"/>
<rect x="280.89" y="115.43" width="3.02" height="16.6" fill="#60d068"/>
<rect x="294.42" y="115.43" width="3.02" height="16.6" fill="#c84a03"/>
<rect x="301.19" y="115.43" width="3.02" height="16.6" fill="#60d068"/>
<rect x="304.58" y="115.43" width="3.02" height="16.6" fill="#60d068"/>
<rect x="360.24" y="115.43" width="60.91" height="16.6" fill="#e7e7e7"/>
<path d="M363.62 115.43v16.6M367.01 115.43v16.6M370.39 115.43v16.6M373.78 115.43v16.6M377.16 115.43v16.6M380.54 115.43v16.6M383.93 115.43v16.6M387.31 115.43v16.6M390.70 115.43v16.6M394.08 115.43v16.6M397.46 115.43v16.6M400.85 115.43v16.6M404.23 115.43v16.6M407.62 115.43v16.6M411.00 115.43v16.6M414.38 115.43v16.6M417.77 115.43v16.6" stroke="#f4f4f4" stroke-width="0.35" fill="none"/>
<rect x="363.80" y="115.43" width="3.02" height="16.6" fill="#60d068"/>
<rect x="380.72" y="115.43" width="3.02" height="16.6" fill="#60d068"/><rect x="380.99" y="118.25" width="2.48" height="10.96" fill="#dba652"/>
<rect x="390.88" y="115.43" width="3.02" height="16.6" fill="#60d068"/>
<rect x="394.26" y="115.43" width="3.02" height="16.6" fill="#60d068"/>
<text x="67.4" y="125.93" font-size="6.3" font-style="italic" text-anchor="end" fill="#111">KLHL6</text>
<text x="422.6" y="126.13" font-size="6.7" fill="#111">19%</text>
<rect x="69.20" y="133.64" width="115.06" height="16.6" fill="#e7e7e7"/>
<path d="M72.58 133.64v16.6M75.97 133.64v16.6M79.35 133.64v16.6M82.74 133.64v16.6M86.12 133.64v16.6M89.50 133.64v16.6M92.89 133.64v16.6M96.27 133.64v16.6M99.66 133.64v16.6M103.04 133.64v16.6M106.42 133.64v16.6M109.81 133.64v16.6M113.19 133.64v16.6M116.58 133.64v16.6M119.96 133.64v16.6M123.34 133.64v16.6M126.73 133.64v16.6M130.11 133.64v16.6M133.50 133.64v16.6M136.88 133.64v16.6M140.26 133.64v16.6M143.65 133.64v16.6M147.03 133.64v16.6M150.42 133.64v16.6M153.80 133.64v16.6M157.18 133.64v16.6M160.57 133.64v16.6M163.95 133.64v16.6M167.34 133.64v16.6M170.72 133.64v16.6M174.10 133.64v16.6M177.49 133.64v16.6M180.87 133.64v16.6" stroke="#f4f4f4" stroke-width="0.35" fill="none"/>
<rect x="89.68" y="133.64" width="3.02" height="16.6" fill="#60d068"/>
<rect x="96.95" y="133.64" width="2.03" height="16.6" fill="#7aa9bb"/>
<rect x="106.60" y="133.64" width="3.02" height="16.6" fill="#60d068"/>
<rect x="116.76" y="133.64" width="3.02" height="16.6" fill="#60d068"/>
<rect x="120.14" y="133.64" width="3.02" height="16.6" fill="#60d068"/>
<rect x="123.52" y="133.64" width="3.02" height="16.6" fill="#60d068"/>
<rect x="130.29" y="133.64" width="3.02" height="16.6" fill="#60d068"/>
<rect x="133.68" y="133.64" width="3.02" height="16.6" fill="#60d068"/>
<rect x="137.06" y="133.64" width="3.02" height="16.6" fill="#60d068"/>
<rect x="140.94" y="133.64" width="2.03" height="16.6" fill="#7aa9bb"/><rect x="141.58" y="133.64" width="0.74" height="16.6" fill="#08202f"/>
<rect x="143.83" y="133.64" width="3.02" height="16.6" fill="#60d068"/>
<rect x="185.96" y="133.64" width="172.58" height="16.6" fill="#e7e7e7"/>
<path d="M189.34 133.64v16.6M192.72 133.64v16.6M196.11 133.64v16.6M199.49 133.64v16.6M202.88 133.64v16.6M206.26 133.64v16.6M209.64 133.64v16.6M213.03 133.64v16.6M216.41 133.64v16.6M219.80 133.64v16.6M223.18 133.64v16.6M226.56 133.64v16.6M229.95 133.64v16.6M233.33 133.64v16.6M236.72 133.64v16.6M240.10 133.64v16.6M243.48 133.64v16.6M246.87 133.64v16.6M250.25 133.64v16.6M253.64 133.64v16.6M257.02 133.64v16.6M260.40 133.64v16.6M263.79 133.64v16.6M267.17 133.64v16.6M270.56 133.64v16.6M273.94 133.64v16.6M277.32 133.64v16.6M280.71 133.64v16.6M284.09 133.64v16.6M287.48 133.64v16.6M290.86 133.64v16.6M294.24 133.64v16.6M297.63 133.64v16.6M301.01 133.64v16.6M304.40 133.64v16.6M307.78 133.64v16.6M311.16 133.64v16.6M314.55 133.64v16.6M317.93 133.64v16.6M321.32 133.64v16.6M324.70 133.64v16.6M328.08 133.64v16.6M331.47 133.64v16.6M334.85 133.64v16.6M338.24 133.64v16.6M341.62 133.64v16.6M345.00 133.64v16.6M348.39 133.64v16.6M351.77 133.64v16.6M355.16 133.64v16.6" stroke="#f4f4f4" stroke-width="0.35" fill="none"/>
<rect x="189.52" y="133.64" width="3.02" height="16.6" fill="#60d068"/>
<rect x="213.21" y="133.64" width="3.02" height="16.6" fill="#60d068"/>
<rect x="216.59" y="133.64" width="3.02" height="16.6" fill="#60d068"/>
<rect x="250.43" y="133.64" width="3.02" height="16.6" fill="#60d068"/>
<rect x="284.27" y="133.64" width="3.02" height="16.6" fill="#60d068"/>
<rect x="287.66" y="133.64" width="3.02" height="16.6" fill="#60d068"/>
<rect x="298.30" y="133.64" width="2.03" height="16.6" fill="#7aa9bb"/>
<rect x="311.34" y="133.64" width="3.02" height="16.6" fill="#60d068"/>
<rect x="360.24" y="133.64" width="60.91" height="16.6" fill="#e7e7e7"/>
<path d="M363.62 133.64v16.6M367.01 133.64v16.6M370.39 133.64v16.6M373.78 133.64v16.6M377.16 133.64v16.6M380.54 133.64v16.6M383.93 133.64v16.6M387.31 133.64v16.6M390.70 133.64v16.6M394.08 133.64v16.6M397.46 133.64v16.6M400.85 133.64v16.6M404.23 133.64v16.6M407.62 133.64v16.6M411.00 133.64v16.6M414.38 133.64v16.6M417.77 133.64v16.6" stroke="#f4f4f4" stroke-width="0.35" fill="none"/>
<rect x="377.34" y="133.64" width="3.02" height="16.6" fill="#60d068"/>
<text x="67.4" y="144.14" font-size="6.3" font-style="italic" text-anchor="end" fill="#111">HIST1H1E</text>
<text x="422.6" y="144.34" font-size="6.7" fill="#111">19%</text>
<rect x="69.20" y="151.85" width="115.06" height="16.6" fill="#e7e7e7"/>
<path d="M72.58 151.85v16.6M75.97 151.85v16.6M79.35 151.85v16.6M82.74 151.85v16.6M86.12 151.85v16.6M89.50 151.85v16.6M92.89 151.85v16.6M96.27 151.85v16.6M99.66 151.85v16.6M103.04 151.85v16.6M106.42 151.85v16.6M109.81 151.85v16.6M113.19 151.85v16.6M116.58 151.85v16.6M119.96 151.85v16.6M123.34 151.85v16.6M126.73 151.85v16.6M130.11 151.85v16.6M133.50 151.85v16.6M136.88 151.85v16.6M140.26 151.85v16.6M143.65 151.85v16.6M147.03 151.85v16.6M150.42 151.85v16.6M153.80 151.85v16.6M157.18 151.85v16.6M160.57 151.85v16.6M163.95 151.85v16.6M167.34 151.85v16.6M170.72 151.85v16.6M174.10 151.85v16.6M177.49 151.85v16.6M180.87 151.85v16.6" stroke="#f4f4f4" stroke-width="0.35" fill="none"/>
<rect x="69.38" y="151.85" width="3.02" height="16.6" fill="#c84a03"/>
<rect x="76.15" y="151.85" width="3.02" height="16.6" fill="#c84a03"/><rect x="76.42" y="154.67" width="2.48" height="10.96" fill="#dba652"/>
<rect x="79.53" y="151.85" width="3.02" height="16.6" fill="#60d068"/>
<rect x="93.07" y="151.85" width="3.02" height="16.6" fill="#60d068"/>
<rect x="96.45" y="151.85" width="3.02" height="16.6" fill="#60d068"/>
<rect x="113.37" y="151.85" width="3.02" height="16.6" fill="#c84a03"/>
<rect x="120.14" y="151.85" width="3.02" height="16.6" fill="#60d068"/>
<rect x="130.29" y="151.85" width="3.02" height="16.6" fill="#60d068"/>
<rect x="147.21" y="151.85" width="3.02" height="16.6" fill="#60d068"/>
<rect x="150.60" y="151.85" width="3.02" height="16.6" fill="#60d068"/>
<rect x="185.96" y="151.85" width="172.58" height="16.6" fill="#e7e7e7"/>
<path d="M189.34 151.85v16.6M192.72 151.85v16.6M196.11 151.85v16.6M199.49 151.85v16.6M202.88 151.85v16.6M206.26 151.85v16.6M209.64 151.85v16.6M213.03 151.85v16.6M216.41 151.85v16.6M219.80 151.85v16.6M223.18 151.85v16.6M226.56 151.85v16.6M229.95 151.85v16.6M233.33 151.85v16.6M236.72 151.85v16.6M240.10 151.85v16.6M243.48 151.85v16.6M246.87 151.85v16.6M250.25 151.85v16.6M253.64 151.85v16.6M257.02 151.85v16.6M260.40 151.85v16.6M263.79 151.85v16.6M267.17 151.85v16.6M270.56 151.85v16.6M273.94 151.85v16.6M277.32 151.85v16.6M280.71 151.85v16.6M284.09 151.85v16.6M287.48 151.85v16.6M290.86 151.85v16.6M294.24 151.85v16.6M297.63 151.85v16.6M301.01 151.85v16.6M304.40 151.85v16.6M307.78 151.85v16.6M311.16 151.85v16.6M314.55 151.85v16.6M317.93 151.85v16.6M321.32 151.85v16.6M324.70 151.85v16.6M328.08 151.85v16.6M331.47 151.85v16.6M334.85 151.85v16.6M338.24 151.85v16.6M341.62 151.85v16.6M345.00 151.85v16.6M348.39 151.85v16.6M351.77 151.85v16.6M355.16 151.85v16.6" stroke="#f4f4f4" stroke-width="0.35" fill="none"/>
<rect x="199.67" y="151.85" width="3.02" height="16.6" fill="#c84a03"/>
<rect x="223.36" y="151.85" width="3.02" height="16.6" fill="#60d068"/>
<rect x="250.43" y="151.85" width="3.02" height="16.6" fill="#60d068"/>
<rect x="253.82" y="151.85" width="3.02" height="16.6" fill="#60d068"/>
<rect x="314.73" y="151.85" width="3.02" height="16.6" fill="#60d068"/>
<rect x="318.11" y="151.85" width="3.02" height="16.6" fill="#60d068"/>
<rect x="360.24" y="151.85" width="60.91" height="16.6" fill="#e7e7e7"/>
<path d="M363.62 151.85v16.6M367.01 151.85v16.6M370.39 151.85v16.6M373.78 151.85v16.6M377.16 151.85v16.6M380.54 151.85v16.6M383.93 151.85v16.6M387.31 151.85v16.6M390.70 151.85v16.6M394.08 151.85v16.6M397.46 151.85v16.6M400.85 151.85v16.6M404.23 151.85v16.6M407.62 151.85v16.6M411.00 151.85v16.6M414.38 151.85v16.6M417.77 151.85v16.6" stroke="#f4f4f4" stroke-width="0.35" fill="none"/>
<rect x="367.46" y="154.67" width="2.48" height="10.96" fill="#dba652"/>
<rect x="373.96" y="151.85" width="3.02" height="16.6" fill="#60d068"/>
<rect x="390.88" y="151.85" width="3.02" height="16.6" fill="#60d068"/>
<rect x="397.64" y="151.85" width="3.02" height="16.6" fill="#60d068"/>
<text x="67.4" y="162.35" font-size="6.3" font-style="italic" text-anchor="end" fill="#111">SGK1</text>
<text x="422.6" y="162.55" font-size="6.7" fill="#111">19%</text>
<rect x="69.20" y="170.06" width="115.06" height="16.6" fill="#e7e7e7"/>
<path d="M72.58 170.06v16.6M75.97 170.06v16.6M79.35 170.06v16.6M82.74 170.06v16.6M86.12 170.06v16.6M89.50 170.06v16.6M92.89 170.06v16.6M96.27 170.06v16.6M99.66 170.06v16.6M103.04 170.06v16.6M106.42 170.06v16.6M109.81 170.06v16.6M113.19 170.06v16.6M116.58 170.06v16.6M119.96 170.06v16.6M123.34 170.06v16.6M126.73 170.06v16.6M130.11 170.06v16.6M133.50 170.06v16.6M136.88 170.06v16.6M140.26 170.06v16.6M143.65 170.06v16.6M147.03 170.06v16.6M150.42 170.06v16.6M153.80 170.06v16.6M157.18 170.06v16.6M160.57 170.06v16.6M163.95 170.06v16.6M167.34 170.06v16.6M170.72 170.06v16.6M174.10 170.06v16.6M177.49 170.06v16.6M180.87 170.06v16.6" stroke="#f4f4f4" stroke-width="0.35" fill="none"/>
<rect x="76.15" y="170.06" width="3.02" height="16.6" fill="#c84a03"/>
<rect x="93.07" y="170.06" width="3.02" height="16.6" fill="#60d068"/>
<rect x="96.45" y="170.06" width="3.02" height="16.6" fill="#60d068"/><rect x="96.95" y="170.06" width="2.03" height="16.6" fill="#7aa9bb"/>
<rect x="113.37" y="170.06" width="3.02" height="16.6" fill="#60d068"/>
<rect x="116.76" y="170.06" width="3.02" height="16.6" fill="#c84a03"/>
<rect x="120.14" y="170.06" width="3.02" height="16.6" fill="#60d068"/>
<rect x="133.68" y="170.06" width="3.02" height="16.6" fill="#60d068"/>
<rect x="185.96" y="170.06" width="172.58" height="16.6" fill="#e7e7e7"/>
<path d="M189.34 170.06v16.6M192.72 170.06v16.6M196.11 170.06v16.6M199.49 170.06v16.6M202.88 170.06v16.6M206.26 170.06v16.6M209.64 170.06v16.6M213.03 170.06v16.6M216.41 170.06v16.6M219.80 170.06v16.6M223.18 170.06v16.6M226.56 170.06v16.6M229.95 170.06v16.6M233.33 170.06v16.6M236.72 170.06v16.6M240.10 170.06v16.6M243.48 170.06v16.6M246.87 170.06v16.6M250.25 170.06v16.6M253.64 170.06v16.6M257.02 170.06v16.6M260.40 170.06v16.6M263.79 170.06v16.6M267.17 170.06v16.6M270.56 170.06v16.6M273.94 170.06v16.6M277.32 170.06v16.6M280.71 170.06v16.6M284.09 170.06v16.6M287.48 170.06v16.6M290.86 170.06v16.6M294.24 170.06v16.6M297.63 170.06v16.6M301.01 170.06v16.6M304.40 170.06v16.6M307.78 170.06v16.6M311.16 170.06v16.6M314.55 170.06v16.6M317.93 170.06v16.6M321.32 170.06v16.6M324.70 170.06v16.6M328.08 170.06v16.6M331.47 170.06v16.6M334.85 170.06v16.6M338.24 170.06v16.6M341.62 170.06v16.6M345.00 170.06v16.6M348.39 170.06v16.6M351.77 170.06v16.6M355.16 170.06v16.6" stroke="#f4f4f4" stroke-width="0.35" fill="none"/>
<rect x="186.14" y="170.06" width="3.02" height="16.6" fill="#c84a03"/>
<rect x="189.52" y="170.06" width="3.02" height="16.6" fill="#60d068"/>
<rect x="203.06" y="170.06" width="3.02" height="16.6" fill="#60d068"/>
<rect x="213.21" y="170.06" width="3.02" height="16.6" fill="#60d068"/><rect x="213.70" y="170.06" width="2.03" height="16.6" fill="#7aa9bb"/>
<rect x="223.36" y="170.06" width="3.02" height="16.6" fill="#60d068"/>
<rect x="226.74" y="170.06" width="3.02" height="16.6" fill="#60d068"/>
<rect x="230.13" y="170.06" width="3.02" height="16.6" fill="#c84a03"/>
<rect x="294.42" y="170.06" width="3.02" height="16.6" fill="#60d068"/>
<rect x="314.73" y="170.06" width="3.02" height="16.6" fill="#60d068"/>
<rect x="325.38" y="170.06" width="2.03" height="16.6" fill="#7aa9bb"/>
<rect x="360.24" y="170.06" width="60.91" height="16.6" fill="#e7e7e7"/>
<path d="M363.62 170.06v16.6M367.01 170.06v16.6M370.39 170.06v16.6M373.78 170.06v16.6M377.16 170.06v16.6M380.54 170.06v16.6M383.93 170.06v16.6M387.31 170.06v16.6M390.70 170.06v16.6M394.08 170.06v16.6M397.46 170.06v16.6M400.85 170.06v16.6M404.23 170.06v16.6M407.62 170.06v16.6M411.00 170.06v16.6M414.38 170.06v16.6M417.77 170.06v16.6" stroke="#f4f4f4" stroke-width="0.35" fill="none"/>
<rect x="360.42" y="170.06" width="3.02" height="16.6" fill="#60d068"/>
<rect x="380.72" y="170.06" width="3.02" height="16.6" fill="#60d068"/>
<text x="67.4" y="180.56" font-size="6.3" font-style="italic" text-anchor="end" fill="#111">SOCS1</text>
<text x="422.6" y="180.76" font-size="6.7" fill="#111">18%</text>
<rect x="69.20" y="188.27" width="115.06" height="16.6" fill="#e7e7e7"/>
<path d="M72.58 188.27v16.6M75.97 188.27v16.6M79.35 188.27v16.6M82.74 188.27v16.6M86.12 188.27v16.6M89.50 188.27v16.6M92.89 188.27v16.6M96.27 188.27v16.6M99.66 188.27v16.6M103.04 188.27v16.6M106.42 188.27v16.6M109.81 188.27v16.6M113.19 188.27v16.6M116.58 188.27v16.6M119.96 188.27v16.6M123.34 188.27v16.6M126.73 188.27v16.6M130.11 188.27v16.6M133.50 188.27v16.6M136.88 188.27v16.6M140.26 188.27v16.6M143.65 188.27v16.6M147.03 188.27v16.6M150.42 188.27v16.6M153.80 188.27v16.6M157.18 188.27v16.6M160.57 188.27v16.6M163.95 188.27v16.6M167.34 188.27v16.6M170.72 188.27v16.6M174.10 188.27v16.6M177.49 188.27v16.6M180.87 188.27v16.6" stroke="#f4f4f4" stroke-width="0.35" fill="none"/>
<rect x="79.53" y="188.27" width="3.02" height="16.6" fill="#60d068"/>
<rect x="89.68" y="188.27" width="3.02" height="16.6" fill="#60d068"/>
<rect x="130.29" y="188.27" width="3.02" height="16.6" fill="#60d068"/>
<rect x="133.68" y="188.27" width="3.02" height="16.6" fill="#60d068"/>
<rect x="147.21" y="188.27" width="3.02" height="16.6" fill="#60d068"/>
<rect x="185.96" y="188.27" width="172.58" height="16.6" fill="#e7e7e7"/>
<path d="M189.34 188.27v16.6M192.72 188.27v16.6M196.11 188.27v16.6M199.49 188.27v16.6M202.88 188.27v16.6M206.26 188.27v16.6M209.64 188.27v16.6M213.03 188.27v16.6M216.41 188.27v16.6M219.80 188.27v16.6M223.18 188.27v16.6M226.56 188.27v16.6M229.95 188.27v16.6M233.33 188.27v16.6M236.72 188.27v16.6M240.10 188.27v16.6M243.48 188.27v16.6M246.87 188.27v16.6M250.25 188.27v16.6M253.64 188.27v16.6M257.02 188.27v16.6M260.40 188.27v16.6M263.79 188.27v16.6M267.17 188.27v16.6M270.56 188.27v16.6M273.94 188.27v16.6M277.32 188.27v16.6M280.71 188.27v16.6M284.09 188.27v16.6M287.48 188.27v16.6M290.86 188.27v16.6M294.24 188.27v16.6M297.63 188.27v16.6M301.01 188.27v16.6M304.40 188.27v16.6M307.78 188.27v16.6M311.16 188.27v16.6M314.55 188.27v16.6M317.93 188.27v16.6M321.32 188.27v16.6M324.70 188.27v16.6M328.08 188.27v16.6M331.47 188.27v16.6M334.85 188.27v16.6M338.24 188.27v16.6M341.62 188.27v16.6M345.00 188.27v16.6M348.39 188.27v16.6M351.77 188.27v16.6M355.16 188.27v16.6" stroke="#f4f4f4" stroke-width="0.35" fill="none"/>
<rect x="186.14" y="188.27" width="3.02" height="16.6" fill="#60d068"/>
<rect x="216.59" y="188.27" width="3.02" height="16.6" fill="#60d068"/>
<rect x="226.74" y="188.27" width="3.02" height="16.6" fill="#60d068"/>
<rect x="233.51" y="188.27" width="3.02" height="16.6" fill="#60d068"/>
<rect x="284.27" y="188.27" width="3.02" height="16.6" fill="#60d068"/>
<rect x="299.02" y="188.27" width="0.61" height="16.6" fill="#ffaaaa"/>
<rect x="318.11" y="188.27" width="3.02" height="16.6" fill="#60d068"/>
<rect x="321.50" y="188.27" width="3.02" height="16.6" fill="#60d068"/>
<rect x="360.24" y="188.27" width="60.91" height="16.6" fill="#e7e7e7"/>
<path d="M363.62 188.27v16.6M367.01 188.27v16.6M370.39 188.27v16.6M373.78 188.27v16.6M377.16 188.27v16.6M380.54 188.27v16.6M383.93 188.27v16.6M387.31 188.27v16.6M390.70 188.27v16.6M394.08 188.27v16.6M397.46 188.27v16.6M400.85 188.27v16.6M404.23 188.27v16.6M407.62 188.27v16.6M411.00 188.27v16.6M414.38 188.27v16.6M417.77 188.27v16.6" stroke="#f4f4f4" stroke-width="0.35" fill="none"/>
<rect x="360.42" y="188.27" width="3.02" height="16.6" fill="#60d068"/>
<rect x="367.19" y="188.27" width="3.02" height="16.6" fill="#60d068"/>
<rect x="380.72" y="188.27" width="3.02" height="16.6" fill="#60d068"/>
<rect x="384.11" y="188.27" width="3.02" height="16.6" fill="#60d068"/>
<text x="67.4" y="198.77" font-size="6.3" font-style="italic" text-anchor="end" fill="#111">CARD11</text>
<text x="422.6" y="198.97" font-size="6.7" fill="#111">17%</text>
<rect x="69.20" y="206.48" width="115.06" height="16.6" fill="#e7e7e7"/>
<path d="M72.58 206.48v16.6M75.97 206.48v16.6M79.35 206.48v16.6M82.74 206.48v16.6M86.12 206.48v16.6M89.50 206.48v16.6M92.89 206.48v16.6M96.27 206.48v16.6M99.66 206.48v16.6M103.04 206.48v16.6M106.42 206.48v16.6M109.81 206.48v16.6M113.19 206.48v16.6M116.58 206.48v16.6M119.96 206.48v16.6M123.34 206.48v16.6M126.73 206.48v16.6M130.11 206.48v16.6M133.50 206.48v16.6M136.88 206.48v16.6M140.26 206.48v16.6M143.65 206.48v16.6M147.03 206.48v16.6M150.42 206.48v16.6M153.80 206.48v16.6M157.18 206.48v16.6M160.57 206.48v16.6M163.95 206.48v16.6M167.34 206.48v16.6M170.72 206.48v16.6M174.10 206.48v16.6M177.49 206.48v16.6M180.87 206.48v16.6" stroke="#f4f4f4" stroke-width="0.35" fill="none"/>
<rect x="153.88" y="212.87" width="3.22" height="3.82" fill="#7d6b3d"/>
<rect x="185.96" y="206.48" width="172.58" height="16.6" fill="#e7e7e7"/>
<path d="M189.34 206.48v16.6M192.72 206.48v16.6M196.11 206.48v16.6M199.49 206.48v16.6M202.88 206.48v16.6M206.26 206.48v16.6M209.64 206.48v16.6M213.03 206.48v16.6M216.41 206.48v16.6M219.80 206.48v16.6M223.18 206.48v16.6M226.56 206.48v16.6M229.95 206.48v16.6M233.33 206.48v16.6M236.72 206.48v16.6M240.10 206.48v16.6M243.48 206.48v16.6M246.87 206.48v16.6M250.25 206.48v16.6M253.64 206.48v16.6M257.02 206.48v16.6M260.40 206.48v16.6M263.79 206.48v16.6M267.17 206.48v16.6M270.56 206.48v16.6M273.94 206.48v16.6M277.32 206.48v16.6M280.71 206.48v16.6M284.09 206.48v16.6M287.48 206.48v16.6M290.86 206.48v16.6M294.24 206.48v16.6M297.63 206.48v16.6M301.01 206.48v16.6M304.40 206.48v16.6M307.78 206.48v16.6M311.16 206.48v16.6M314.55 206.48v16.6M317.93 206.48v16.6M321.32 206.48v16.6M324.70 206.48v16.6M328.08 206.48v16.6M331.47 206.48v16.6M334.85 206.48v16.6M338.24 206.48v16.6M341.62 206.48v16.6M345.00 206.48v16.6M348.39 206.48v16.6M351.77 206.48v16.6M355.16 206.48v16.6" stroke="#f4f4f4" stroke-width="0.35" fill="none"/>
<rect x="196.56" y="209.30" width="2.48" height="10.96" fill="#dba652"/><rect x="196.19" y="212.87" width="3.22" height="3.82" fill="#7d6b3d"/>
<rect x="199.57" y="212.87" width="3.22" height="3.82" fill="#7d6b3d"/>
<rect x="216.49" y="212.87" width="3.22" height="3.82" fill="#7d6b3d"/>
<rect x="219.88" y="212.87" width="3.22" height="3.82" fill="#7d6b3d"/>
<rect x="230.03" y="212.87" width="3.22" height="3.82" fill="#7d6b3d"/>
<rect x="263.87" y="212.87" width="3.22" height="3.82" fill="#7d6b3d"/>
<rect x="287.56" y="212.87" width="3.22" height="3.82" fill="#7d6b3d"/>
<rect x="301.09" y="212.87" width="3.22" height="3.82" fill="#7d6b3d"/>
<rect x="307.96" y="206.48" width="3.02" height="16.6" fill="#60d068"/><rect x="307.86" y="212.87" width="3.22" height="3.82" fill="#7d6b3d"/>
<rect x="318.11" y="206.48" width="3.02" height="16.6" fill="#60d068"/>
<rect x="328.16" y="212.87" width="3.22" height="3.82" fill="#7d6b3d"/>
<rect x="331.55" y="212.87" width="3.22" height="3.82" fill="#7d6b3d"/>
<rect x="360.24" y="206.48" width="60.91" height="16.6" fill="#e7e7e7"/>
<path d="M363.62 206.48v16.6M367.01 206.48v16.6M370.39 206.48v16.6M373.78 206.48v16.6M377.16 206.48v16.6M380.54 206.48v16.6M383.93 206.48v16.6M387.31 206.48v16.6M390.70 206.48v16.6M394.08 206.48v16.6M397.46 206.48v16.6M400.85 206.48v16.6M404.23 206.48v16.6M407.62 206.48v16.6M411.00 206.48v16.6M414.38 206.48v16.6M417.77 206.48v16.6" stroke="#f4f4f4" stroke-width="0.35" fill="none"/>
<rect x="363.70" y="212.87" width="3.22" height="3.82" fill="#7d6b3d"/>
<rect x="370.47" y="212.87" width="3.22" height="3.82" fill="#7d6b3d"/>
<rect x="387.39" y="212.87" width="3.22" height="3.82" fill="#7d6b3d"/>
<rect x="390.78" y="212.87" width="3.22" height="3.82" fill="#7d6b3d"/>
<text x="67.4" y="216.98" font-size="6.3" font-style="italic" text-anchor="end" fill="#111">EZH2</text>
<text x="422.6" y="217.18" font-size="6.7" fill="#111">17%</text>
<rect x="69.20" y="224.69" width="115.06" height="16.6" fill="#e7e7e7"/>
<path d="M72.58 224.69v16.6M75.97 224.69v16.6M79.35 224.69v16.6M82.74 224.69v16.6M86.12 224.69v16.6M89.50 224.69v16.6M92.89 224.69v16.6M96.27 224.69v16.6M99.66 224.69v16.6M103.04 224.69v16.6M106.42 224.69v16.6M109.81 224.69v16.6M113.19 224.69v16.6M116.58 224.69v16.6M119.96 224.69v16.6M123.34 224.69v16.6M126.73 224.69v16.6M130.11 224.69v16.6M133.50 224.69v16.6M136.88 224.69v16.6M140.26 224.69v16.6M143.65 224.69v16.6M147.03 224.69v16.6M150.42 224.69v16.6M153.80 224.69v16.6M157.18 224.69v16.6M160.57 224.69v16.6M163.95 224.69v16.6M167.34 224.69v16.6M170.72 224.69v16.6M174.10 224.69v16.6M177.49 224.69v16.6M180.87 224.69v16.6" stroke="#f4f4f4" stroke-width="0.35" fill="none"/>
<rect x="96.45" y="224.69" width="3.02" height="16.6" fill="#60d068"/>
<rect x="109.99" y="224.69" width="3.02" height="16.6" fill="#c84a03"/><rect x="111.20" y="224.69" width="0.61" height="16.6" fill="#ffaaaa"/>
<rect x="116.76" y="224.69" width="3.02" height="16.6" fill="#60d068"/>
<rect x="185.96" y="224.69" width="172.58" height="16.6" fill="#e7e7e7"/>
<path d="M189.34 224.69v16.6M192.72 224.69v16.6M196.11 224.69v16.6M199.49 224.69v16.6M202.88 224.69v16.6M206.26 224.69v16.6M209.64 224.69v16.6M213.03 224.69v16.6M216.41 224.69v16.6M219.80 224.69v16.6M223.18 224.69v16.6M226.56 224.69v16.6M229.95 224.69v16.6M233.33 224.69v16.6M236.72 224.69v16.6M240.10 224.69v16.6M243.48 224.69v16.6M246.87 224.69v16.6M250.25 224.69v16.6M253.64 224.69v16.6M257.02 224.69v16.6M260.40 224.69v16.6M263.79 224.69v16.6M267.17 224.69v16.6M270.56 224.69v16.6M273.94 224.69v16.6M277.32 224.69v16.6M280.71 224.69v16.6M284.09 224.69v16.6M287.48 224.69v16.6M290.86 224.69v16.6M294.24 224.69v16.6M297.63 224.69v16.6M301.01 224.69v16.6M304.40 224.69v16.6M307.78 224.69v16.6M311.16 224.69v16.6M314.55 224.69v16.6M317.93 224.69v16.6M321.32 224.69v16.6M324.70 224.69v16.6M328.08 224.69v16.6M331.47 224.69v16.6M334.85 224.69v16.6M338.24 224.69v16.6M341.62 224.69v16.6M345.00 224.69v16.6M348.39 224.69v16.6M351.77 224.69v16.6M355.16 224.69v16.6" stroke="#f4f4f4" stroke-width="0.35" fill="none"/>
<rect x="186.14" y="224.69" width="3.02" height="16.6" fill="#60d068"/>
<rect x="192.90" y="224.69" width="3.02" height="16.6" fill="#c84a03"/>
<rect x="216.59" y="224.69" width="3.02" height="16.6" fill="#c84a03"/>
<rect x="237.17" y="227.51" width="2.48" height="10.96" fill="#dba652"/>
<rect x="240.28" y="224.69" width="3.02" height="16.6" fill="#c84a03"/>
<rect x="267.62" y="227.51" width="2.48" height="10.96" fill="#dba652"/>
<rect x="297.81" y="224.69" width="3.02" height="16.6" fill="#c84a03"/><rect x="298.30" y="224.69" width="2.03" height="16.6" fill="#7aa9bb"/>
<rect x="311.34" y="224.69" width="3.02" height="16.6" fill="#60d068"/>
<rect x="335.03" y="224.69" width="3.02" height="16.6" fill="#60d068"/>
<rect x="360.24" y="224.69" width="60.91" height="16.6" fill="#e7e7e7"/>
<path d="M363.62 224.69v16.6M367.01 224.69v16.6M370.39 224.69v16.6M373.78 224.69v16.6M377.16 224.69v16.6M380.54 224.69v16.6M383.93 224.69v16.6M387.31 224.69v16.6M390.70 224.69v16.6M394.08 224.69v16.6M397.46 224.69v16.6M400.85 224.69v16.6M404.23 224.69v16.6M407.62 224.69v16.6M411.00 224.69v16.6M414.38 224.69v16.6M417.77 224.69v16.6" stroke="#f4f4f4" stroke-width="0.35" fill="none"/>
<rect x="367.19" y="224.69" width="3.02" height="16.6" fill="#c84a03"/>
<rect x="373.96" y="224.69" width="3.02" height="16.6" fill="#c84a03"/>
<rect x="377.61" y="227.51" width="2.48" height="10.96" fill="#dba652"/>
<rect x="401.03" y="224.69" width="3.02" height="16.6" fill="#60d068"/>
<text x="67.4" y="235.19" font-size="6.3" font-style="italic" text-anchor="end" fill="#111">KMT2D</text>
<text x="422.6" y="235.39" font-size="6.7" fill="#111">16%</text>
<rect x="69.20" y="242.90" width="115.06" height="16.6" fill="#e7e7e7"/>
<path d="M72.58 242.90v16.6M75.97 242.90v16.6M79.35 242.90v16.6M82.74 242.90v16.6M86.12 242.90v16.6M89.50 242.90v16.6M92.89 242.90v16.6M96.27 242.90v16.6M99.66 242.90v16.6M103.04 242.90v16.6M106.42 242.90v16.6M109.81 242.90v16.6M113.19 242.90v16.6M116.58 242.90v16.6M119.96 242.90v16.6M123.34 242.90v16.6M126.73 242.90v16.6M130.11 242.90v16.6M133.50 242.90v16.6M136.88 242.90v16.6M140.26 242.90v16.6M143.65 242.90v16.6M147.03 242.90v16.6M150.42 242.90v16.6M153.80 242.90v16.6M157.18 242.90v16.6M160.57 242.90v16.6M163.95 242.90v16.6M167.34 242.90v16.6M170.72 242.90v16.6M174.10 242.90v16.6M177.49 242.90v16.6M180.87 242.90v16.6" stroke="#f4f4f4" stroke-width="0.35" fill="none"/>
<rect x="96.45" y="242.90" width="3.02" height="16.6" fill="#60d068"/>
<rect x="165.27" y="242.90" width="0.74" height="16.6" fill="#08202f"/>
<rect x="185.96" y="242.90" width="172.58" height="16.6" fill="#e7e7e7"/>
<path d="M189.34 242.90v16.6M192.72 242.90v16.6M196.11 242.90v16.6M199.49 242.90v16.6M202.88 242.90v16.6M206.26 242.90v16.6M209.64 242.90v16.6M213.03 242.90v16.6M216.41 242.90v16.6M219.80 242.90v16.6M223.18 242.90v16.6M226.56 242.90v16.6M229.95 242.90v16.6M233.33 242.90v16.6M236.72 242.90v16.6M240.10 242.90v16.6M243.48 242.90v16.6M246.87 242.90v16.6M250.25 242.90v16.6M253.64 242.90v16.6M257.02 242.90v16.6M260.40 242.90v16.6M263.79 242.90v16.6M267.17 242.90v16.6M270.56 242.90v16.6M273.94 242.90v16.6M277.32 242.90v16.6M280.71 242.90v16.6M284.09 242.90v16.6M287.48 242.90v16.6M290.86 242.90v16.6M294.24 242.90v16.6M297.63 242.90v16.6M301.01 242.90v16.6M304.40 242.90v16.6M307.78 242.90v16.6M311.16 242.90v16.6M314.55 242.90v16.6M317.93 242.90v16.6M321.32 242.90v16.6M324.70 242.90v16.6M328.08 242.90v16.6M331.47 242.90v16.6M334.85 242.90v16.6M338.24 242.90v16.6M341.62 242.90v16.6M345.00 242.90v16.6M348.39 242.90v16.6M351.77 242.90v16.6M355.16 242.90v16.6" stroke="#f4f4f4" stroke-width="0.35" fill="none"/>
<rect x="189.52" y="242.90" width="3.02" height="16.6" fill="#60d068"/>
<rect x="196.29" y="242.90" width="3.02" height="16.6" fill="#60d068"/>
<rect x="199.67" y="242.90" width="3.02" height="16.6" fill="#60d068"/>
<rect x="203.06" y="242.90" width="3.02" height="16.6" fill="#60d068"/>
<rect x="206.44" y="242.90" width="3.02" height="16.6" fill="#60d068"/>
<rect x="210.32" y="242.90" width="2.03" height="16.6" fill="#7aa9bb"/>
<rect x="234.65" y="242.90" width="0.74" height="16.6" fill="#08202f"/>
<rect x="267.35" y="242.90" width="3.02" height="16.6" fill="#60d068"/>
<rect x="284.27" y="242.90" width="3.02" height="16.6" fill="#60d068"/>
<rect x="301.19" y="242.90" width="3.02" height="16.6" fill="#60d068"/>
<rect x="312.48" y="242.90" width="0.74" height="16.6" fill="#08202f"/>
<rect x="325.38" y="242.90" width="2.03" height="16.6" fill="#7aa9bb"/>
<rect x="328.26" y="242.90" width="3.02" height="16.6" fill="#60d068"/>
<rect x="338.42" y="242.90" width="3.02" height="16.6" fill="#60d068"/>
<rect x="360.24" y="242.90" width="60.91" height="16.6" fill="#e7e7e7"/>
<path d="M363.62 242.90v16.6M367.01 242.90v16.6M370.39 242.90v16.6M373.78 242.90v16.6M377.16 242.90v16.6M380.54 242.90v16.6M383.93 242.90v16.6M387.31 242.90v16.6M390.70 242.90v16.6M394.08 242.90v16.6M397.46 242.90v16.6M400.85 242.90v16.6M404.23 242.90v16.6M407.62 242.90v16.6M411.00 242.90v16.6M414.38 242.90v16.6M417.77 242.90v16.6" stroke="#f4f4f4" stroke-width="0.35" fill="none"/>
<text x="67.4" y="253.40" font-size="6.3" font-style="italic" text-anchor="end" fill="#111">IRF8</text>
<text x="422.6" y="253.60" font-size="6.7" fill="#111">16%</text>
<rect x="69.20" y="261.11" width="115.06" height="16.6" fill="#e7e7e7"/>
<path d="M72.58 261.11v16.6M75.97 261.11v16.6M79.35 261.11v16.6M82.74 261.11v16.6M86.12 261.11v16.6M89.50 261.11v16.6M92.89 261.11v16.6M96.27 261.11v16.6M99.66 261.11v16.6M103.04 261.11v16.6M106.42 261.11v16.6M109.81 261.11v16.6M113.19 261.11v16.6M116.58 261.11v16.6M119.96 261.11v16.6M123.34 261.11v16.6M126.73 261.11v16.6M130.11 261.11v16.6M133.50 261.11v16.6M136.88 261.11v16.6M140.26 261.11v16.6M143.65 261.11v16.6M147.03 261.11v16.6M150.42 261.11v16.6M153.80 261.11v16.6M157.18 261.11v16.6M160.57 261.11v16.6M163.95 261.11v16.6M167.34 261.11v16.6M170.72 261.11v16.6M174.10 261.11v16.6M177.49 261.11v16.6M180.87 261.11v16.6" stroke="#f4f4f4" stroke-width="0.35" fill="none"/>
<rect x="86.30" y="261.11" width="3.02" height="16.6" fill="#60d068"/>
<rect x="93.07" y="261.11" width="3.02" height="16.6" fill="#60d068"/>
<rect x="137.06" y="261.11" width="3.02" height="16.6" fill="#60d068"/>
<rect x="140.44" y="261.11" width="3.02" height="16.6" fill="#60d068"/>
<rect x="143.83" y="261.11" width="3.02" height="16.6" fill="#60d068"/>
<rect x="147.71" y="261.11" width="2.03" height="16.6" fill="#7aa9bb"/>
<rect x="160.75" y="261.11" width="3.02" height="16.6" fill="#60d068"/>
<rect x="185.96" y="261.11" width="172.58" height="16.6" fill="#e7e7e7"/>
<path d="M189.34 261.11v16.6M192.72 261.11v16.6M196.11 261.11v16.6M199.49 261.11v16.6M202.88 261.11v16.6M206.26 261.11v16.6M209.64 261.11v16.6M213.03 261.11v16.6M216.41 261.11v16.6M219.80 261.11v16.6M223.18 261.11v16.6M226.56 261.11v16.6M229.95 261.11v16.6M233.33 261.11v16.6M236.72 261.11v16.6M240.10 261.11v16.6M243.48 261.11v16.6M246.87 261.11v16.6M250.25 261.11v16.6M253.64 261.11v16.6M257.02 261.11v16.6M260.40 261.11v16.6M263.79 261.11v16.6M267.17 261.11v16.6M270.56 261.11v16.6M273.94 261.11v16.6M277.32 261.11v16.6M280.71 261.11v16.6M284.09 261.11v16.6M287.48 261.11v16.6M290.86 261.11v16.6M294.24 261.11v16.6M297.63 261.11v16.6M301.01 261.11v16.6M304.40 261.11v16.6M307.78 261.11v16.6M311.16 261.11v16.6M314.55 261.11v16.6M317.93 261.11v16.6M321.32 261.11v16.6M324.70 261.11v16.6M328.08 261.11v16.6M331.47 261.11v16.6M334.85 261.11v16.6M338.24 261.11v16.6M341.62 261.11v16.6M345.00 261.11v16.6M348.39 261.11v16.6M351.77 261.11v16.6M355.16 261.11v16.6" stroke="#f4f4f4" stroke-width="0.35" fill="none"/>
<rect x="203.06" y="261.11" width="3.02" height="16.6" fill="#60d068"/>
<rect x="206.44" y="261.11" width="3.02" height="16.6" fill="#60d068"/>
<rect x="220.47" y="261.11" width="2.03" height="16.6" fill="#7aa9bb"/>
<rect x="247.05" y="261.11" width="3.02" height="16.6" fill="#60d068"/>
<rect x="250.43" y="261.11" width="3.02" height="16.6" fill="#60d068"/>
<rect x="288.15" y="261.11" width="2.03" height="16.6" fill="#7aa9bb"/>
<rect x="297.81" y="261.11" width="3.02" height="16.6" fill="#60d068"/>
<rect x="321.50" y="261.11" width="3.02" height="16.6" fill="#60d068"/><rect x="321.99" y="261.11" width="2.03" height="16.6" fill="#7aa9bb"/>
<rect x="360.24" y="261.11" width="60.91" height="16.6" fill="#e7e7e7"/>
<path d="M363.62 261.11v16.6M367.01 261.11v16.6M370.39 261.11v16.6M373.78 261.11v16.6M377.16 261.11v16.6M380.54 261.11v16.6M383.93 261.11v16.6M387.31 261.11v16.6M390.70 261.11v16.6M394.08 261.11v16.6M397.46 261.11v16.6M400.85 261.11v16.6M404.23 261.11v16.6M407.62 261.11v16.6M411.00 261.11v16.6M414.38 261.11v16.6M417.77 261.11v16.6" stroke="#f4f4f4" stroke-width="0.35" fill="none"/>
<text x="67.4" y="271.61" font-size="6.3" font-style="italic" text-anchor="end" fill="#111">STAT3</text>
<text x="422.6" y="271.81" font-size="6.7" fill="#111">15%</text>
<rect x="69.20" y="279.32" width="115.06" height="16.6" fill="#e7e7e7"/>
<path d="M72.58 279.32v16.6M75.97 279.32v16.6M79.35 279.32v16.6M82.74 279.32v16.6M86.12 279.32v16.6M89.50 279.32v16.6M92.89 279.32v16.6M96.27 279.32v16.6M99.66 279.32v16.6M103.04 279.32v16.6M106.42 279.32v16.6M109.81 279.32v16.6M113.19 279.32v16.6M116.58 279.32v16.6M119.96 279.32v16.6M123.34 279.32v16.6M126.73 279.32v16.6M130.11 279.32v16.6M133.50 279.32v16.6M136.88 279.32v16.6M140.26 279.32v16.6M143.65 279.32v16.6M147.03 279.32v16.6M150.42 279.32v16.6M153.80 279.32v16.6M157.18 279.32v16.6M160.57 279.32v16.6M163.95 279.32v16.6M167.34 279.32v16.6M170.72 279.32v16.6M174.10 279.32v16.6M177.49 279.32v16.6M180.87 279.32v16.6" stroke="#f4f4f4" stroke-width="0.35" fill="none"/>
<rect x="86.30" y="279.32" width="3.02" height="16.6" fill="#60d068"/>
<rect x="93.07" y="279.32" width="3.02" height="16.6" fill="#60d068"/>
<rect x="120.14" y="279.32" width="3.02" height="16.6" fill="#60d068"/>
<rect x="185.96" y="279.32" width="172.58" height="16.6" fill="#e7e7e7"/>
<path d="M189.34 279.32v16.6M192.72 279.32v16.6M196.11 279.32v16.6M199.49 279.32v16.6M202.88 279.32v16.6M206.26 279.32v16.6M209.64 279.32v16.6M213.03 279.32v16.6M216.41 279.32v16.6M219.80 279.32v16.6M223.18 279.32v16.6M226.56 279.32v16.6M229.95 279.32v16.6M233.33 279.32v16.6M236.72 279.32v16.6M240.10 279.32v16.6M243.48 279.32v16.6M246.87 279.32v16.6M250.25 279.32v16.6M253.64 279.32v16.6M257.02 279.32v16.6M260.40 279.32v16.6M263.79 279.32v16.6M267.17 279.32v16.6M270.56 279.32v16.6M273.94 279.32v16.6M277.32 279.32v16.6M280.71 279.32v16.6M284.09 279.32v16.6M287.48 279.32v16.6M290.86 279.32v16.6M294.24 279.32v16.6M297.63 279.32v16.6M301.01 279.32v16.6M304.40 279.32v16.6M307.78 279.32v16.6M311.16 279.32v16.6M314.55 279.32v16.6M317.93 279.32v16.6M321.32 279.32v16.6M324.70 279.32v16.6M328.08 279.32v16.6M331.47 279.32v16.6M334.85 279.32v16.6M338.24 279.32v16.6M341.62 279.32v16.6M345.00 279.32v16.6M348.39 279.32v16.6M351.77 279.32v16.6M355.16 279.32v16.6" stroke="#f4f4f4" stroke-width="0.35" fill="none"/>
<rect x="186.14" y="279.32" width="3.02" height="16.6" fill="#60d068"/>
<rect x="196.29" y="279.32" width="3.02" height="16.6" fill="#60d068"/>
<rect x="203.06" y="279.32" width="3.02" height="16.6" fill="#60d068"/>
<rect x="206.44" y="279.32" width="3.02" height="16.6" fill="#60d068"/>
<rect x="250.43" y="279.32" width="3.02" height="16.6" fill="#60d068"/>
<rect x="270.74" y="279.32" width="3.02" height="16.6" fill="#60d068"/>
<rect x="280.89" y="279.32" width="3.02" height="16.6" fill="#60d068"/>
<rect x="294.69" y="282.14" width="2.48" height="10.96" fill="#dba652"/>
<rect x="314.73" y="279.32" width="3.02" height="16.6" fill="#60d068"/>
<rect x="335.03" y="279.32" width="3.02" height="16.6" fill="#60d068"/>
<rect x="360.24" y="279.32" width="60.91" height="16.6" fill="#e7e7e7"/>
<path d="M363.62 279.32v16.6M367.01 279.32v16.6M370.39 279.32v16.6M373.78 279.32v16.6M377.16 279.32v16.6M380.54 279.32v16.6M383.93 279.32v16.6M387.31 279.32v16.6M390.70 279.32v16.6M394.08 279.32v16.6M397.46 279.32v16.6M400.85 279.32v16.6M404.23 279.32v16.6M407.62 279.32v16.6M411.00 279.32v16.6M414.38 279.32v16.6M417.77 279.32v16.6" stroke="#f4f4f4" stroke-width="0.35" fill="none"/>
<rect x="370.57" y="279.32" width="3.02" height="16.6" fill="#60d068"/>
<rect x="394.26" y="279.32" width="3.02" height="16.6" fill="#60d068"/>
<text x="67.4" y="289.82" font-size="6.3" font-style="italic" text-anchor="end" fill="#111">ACTB</text>
<text x="422.6" y="290.02" font-size="6.7" fill="#111">15%</text>
<rect x="69.20" y="297.53" width="115.06" height="16.6" fill="#e7e7e7"/>
<path d="M72.58 297.53v16.6M75.97 297.53v16.6M79.35 297.53v16.6M82.74 297.53v16.6M86.12 297.53v16.6M89.50 297.53v16.6M92.89 297.53v16.6M96.27 297.53v16.6M99.66 297.53v16.6M103.04 297.53v16.6M106.42 297.53v16.6M109.81 297.53v16.6M113.19 297.53v16.6M116.58 297.53v16.6M119.96 297.53v16.6M123.34 297.53v16.6M126.73 297.53v16.6M130.11 297.53v16.6M133.50 297.53v16.6M136.88 297.53v16.6M140.26 297.53v16.6M143.65 297.53v16.6M147.03 297.53v16.6M150.42 297.53v16.6M153.80 297.53v16.6M157.18 297.53v16.6M160.57 297.53v16.6M163.95 297.53v16.6M167.34 297.53v16.6M170.72 297.53v16.6M174.10 297.53v16.6M177.49 297.53v16.6M180.87 297.53v16.6" stroke="#f4f4f4" stroke-width="0.35" fill="none"/>
<rect x="137.06" y="297.53" width="3.02" height="16.6" fill="#60d068"/>
<rect x="140.44" y="297.53" width="3.02" height="16.6" fill="#60d068"/>
<rect x="147.21" y="297.53" width="3.02" height="16.6" fill="#60d068"/>
<rect x="153.98" y="297.53" width="3.02" height="16.6" fill="#60d068"/>
<rect x="167.52" y="297.53" width="3.02" height="16.6" fill="#60d068"/>
<rect x="185.96" y="297.53" width="172.58" height="16.6" fill="#e7e7e7"/>
<path d="M189.34 297.53v16.6M192.72 297.53v16.6M196.11 297.53v16.6M199.49 297.53v16.6M202.88 297.53v16.6M206.26 297.53v16.6M209.64 297.53v16.6M213.03 297.53v16.6M216.41 297.53v16.6M219.80 297.53v16.6M223.18 297.53v16.6M226.56 297.53v16.6M229.95 297.53v16.6M233.33 297.53v16.6M236.72 297.53v16.6M240.10 297.53v16.6M243.48 297.53v16.6M246.87 297.53v16.6M250.25 297.53v16.6M253.64 297.53v16.6M257.02 297.53v16.6M260.40 297.53v16.6M263.79 297.53v16.6M267.17 297.53v16.6M270.56 297.53v16.6M273.94 297.53v16.6M277.32 297.53v16.6M280.71 297.53v16.6M284.09 297.53v16.6M287.48 297.53v16.6M290.86 297.53v16.6M294.24 297.53v16.6M297.63 297.53v16.6M301.01 297.53v16.6M304.40 297.53v16.6M307.78 297.53v16.6M311.16 297.53v16.6M314.55 297.53v16.6M317.93 297.53v16.6M321.32 297.53v16.6M324.70 297.53v16.6M328.08 297.53v16.6M331.47 297.53v16.6M334.85 297.53v16.6M338.24 297.53v16.6M341.62 297.53v16.6M345.00 297.53v16.6M348.39 297.53v16.6M351.77 297.53v16.6M355.16 297.53v16.6" stroke="#f4f4f4" stroke-width="0.35" fill="none"/>
<rect x="190.02" y="297.53" width="2.03" height="16.6" fill="#7aa9bb"/>
<rect x="251.10" y="297.53" width="1.69" height="16.6" fill="#f6c6c6"/>
<rect x="253.82" y="297.53" width="3.02" height="16.6" fill="#60d068"/>
<rect x="325.38" y="297.53" width="2.03" height="16.6" fill="#7aa9bb"/>
<rect x="335.03" y="297.53" width="3.02" height="16.6" fill="#c84a03"/>
<rect x="360.24" y="297.53" width="60.91" height="16.6" fill="#e7e7e7"/>
<path d="M363.62 297.53v16.6M367.01 297.53v16.6M370.39 297.53v16.6M373.78 297.53v16.6M377.16 297.53v16.6M380.54 297.53v16.6M383.93 297.53v16.6M387.31 297.53v16.6M390.70 297.53v16.6M394.08 297.53v16.6M397.46 297.53v16.6M400.85 297.53v16.6M404.23 297.53v16.6M407.62 297.53v16.6M411.00 297.53v16.6M414.38 297.53v16.6M417.77 297.53v16.6" stroke="#f4f4f4" stroke-width="0.35" fill="none"/>
<rect x="367.19" y="297.53" width="3.02" height="16.6" fill="#60d068"/>
<rect x="373.96" y="297.53" width="3.02" height="16.6" fill="#60d068"/>
<rect x="387.49" y="297.53" width="3.02" height="16.6" fill="#60d068"/>
<rect x="391.15" y="300.35" width="2.48" height="10.96" fill="#dba652"/>
<text x="67.4" y="308.03" font-size="6.3" font-style="italic" text-anchor="end" fill="#111">CREBBP</text>
<text x="422.6" y="308.23" font-size="6.7" fill="#111">14%</text>
<rect x="69.20" y="315.74" width="115.06" height="16.6" fill="#e7e7e7"/>
<path d="M72.58 315.74v16.6M75.97 315.74v16.6M79.35 315.74v16.6M82.74 315.74v16.6M86.12 315.74v16.6M89.50 315.74v16.6M92.89 315.74v16.6M96.27 315.74v16.6M99.66 315.74v16.6M103.04 315.74v16.6M106.42 315.74v16.6M109.81 315.74v16.6M113.19 315.74v16.6M116.58 315.74v16.6M119.96 315.74v16.6M123.34 315.74v16.6M126.73 315.74v16.6M130.11 315.74v16.6M133.50 315.74v16.6M136.88 315.74v16.6M140.26 315.74v16.6M143.65 315.74v16.6M147.03 315.74v16.6M150.42 315.74v16.6M153.80 315.74v16.6M157.18 315.74v16.6M160.57 315.74v16.6M163.95 315.74v16.6M167.34 315.74v16.6M170.72 315.74v16.6M174.10 315.74v16.6M177.49 315.74v16.6M180.87 315.74v16.6" stroke="#f4f4f4" stroke-width="0.35" fill="none"/>
<rect x="83.85" y="315.74" width="1.15" height="16.6" fill="#a03c96"/>
<rect x="103.49" y="318.56" width="2.48" height="10.96" fill="#dba652"/>
<rect x="106.60" y="315.74" width="3.02" height="16.6" fill="#60d068"/>
<rect x="150.60" y="315.74" width="3.02" height="16.6" fill="#60d068"/>
<rect x="157.36" y="315.74" width="3.02" height="16.6" fill="#60d068"/>
<rect x="164.13" y="315.74" width="3.02" height="16.6" fill="#60d068"/>
<rect x="185.96" y="315.74" width="172.58" height="16.6" fill="#e7e7e7"/>
<path d="M189.34 315.74v16.6M192.72 315.74v16.6M196.11 315.74v16.6M199.49 315.74v16.6M202.88 315.74v16.6M206.26 315.74v16.6M209.64 315.74v16.6M213.03 315.74v16.6M216.41 315.74v16.6M219.80 315.74v16.6M223.18 315.74v16.6M226.56 315.74v16.6M229.95 315.74v16.6M233.33 315.74v16.6M236.72 315.74v16.6M240.10 315.74v16.6M243.48 315.74v16.6M246.87 315.74v16.6M250.25 315.74v16.6M253.64 315.74v16.6M257.02 315.74v16.6M260.40 315.74v16.6M263.79 315.74v16.6M267.17 315.74v16.6M270.56 315.74v16.6M273.94 315.74v16.6M277.32 315.74v16.6M280.71 315.74v16.6M284.09 315.74v16.6M287.48 315.74v16.6M290.86 315.74v16.6M294.24 315.74v16.6M297.63 315.74v16.6M301.01 315.74v16.6M304.40 315.74v16.6M307.78 315.74v16.6M311.16 315.74v16.6M314.55 315.74v16.6M317.93 315.74v16.6M321.32 315.74v16.6M324.70 315.74v16.6M328.08 315.74v16.6M331.47 315.74v16.6M334.85 315.74v16.6M338.24 315.74v16.6M341.62 315.74v16.6M345.00 315.74v16.6M348.39 315.74v16.6M351.77 315.74v16.6M355.16 315.74v16.6" stroke="#f4f4f4" stroke-width="0.35" fill="none"/>
<rect x="192.90" y="315.74" width="3.02" height="16.6" fill="#60d068"/>
<rect x="236.90" y="315.74" width="3.02" height="16.6" fill="#60d068"/>
<rect x="263.97" y="315.74" width="3.02" height="16.6" fill="#60d068"/>
<rect x="270.74" y="315.74" width="3.02" height="16.6" fill="#60d068"/>
<rect x="331.65" y="315.74" width="3.02" height="16.6" fill="#60d068"/>
<rect x="360.24" y="315.74" width="60.91" height="16.6" fill="#e7e7e7"/>
<path d="M363.62 315.74v16.6M367.01 315.74v16.6M370.39 315.74v16.6M373.78 315.74v16.6M377.16 315.74v16.6M380.54 315.74v16.6M383.93 315.74v16.6M387.31 315.74v16.6M390.70 315.74v16.6M394.08 315.74v16.6M397.46 315.74v16.6M400.85 315.74v16.6M404.23 315.74v16.6M407.62 315.74v16.6M411.00 315.74v16.6M414.38 315.74v16.6M417.77 315.74v16.6" stroke="#f4f4f4" stroke-width="0.35" fill="none"/>
<rect x="367.19" y="315.74" width="3.02" height="16.6" fill="#60d068"/>
<rect x="397.64" y="315.74" width="3.02" height="16.6" fill="#60d068"/>
<rect x="404.41" y="315.74" width="3.02" height="16.6" fill="#60d068"/>
<text x="67.4" y="326.24" font-size="6.3" font-style="italic" text-anchor="end" fill="#111">TP53</text>
<text x="422.6" y="326.44" font-size="6.7" fill="#111">14%</text>
<rect x="69.20" y="333.95" width="115.06" height="16.6" fill="#e7e7e7"/>
<path d="M72.58 333.95v16.6M75.97 333.95v16.6M79.35 333.95v16.6M82.74 333.95v16.6M86.12 333.95v16.6M89.50 333.95v16.6M92.89 333.95v16.6M96.27 333.95v16.6M99.66 333.95v16.6M103.04 333.95v16.6M106.42 333.95v16.6M109.81 333.95v16.6M113.19 333.95v16.6M116.58 333.95v16.6M119.96 333.95v16.6M123.34 333.95v16.6M126.73 333.95v16.6M130.11 333.95v16.6M133.50 333.95v16.6M136.88 333.95v16.6M140.26 333.95v16.6M143.65 333.95v16.6M147.03 333.95v16.6M150.42 333.95v16.6M153.80 333.95v16.6M157.18 333.95v16.6M160.57 333.95v16.6M163.95 333.95v16.6M167.34 333.95v16.6M170.72 333.95v16.6M174.10 333.95v16.6M177.49 333.95v16.6M180.87 333.95v16.6" stroke="#f4f4f4" stroke-width="0.35" fill="none"/>
<rect x="106.60" y="333.95" width="3.02" height="16.6" fill="#60d068"/>
<rect x="123.52" y="333.95" width="3.02" height="16.6" fill="#60d068"/>
<rect x="130.29" y="333.95" width="3.02" height="16.6" fill="#60d068"/>
<rect x="147.21" y="333.95" width="3.02" height="16.6" fill="#60d068"/>
<rect x="153.98" y="333.95" width="3.02" height="16.6" fill="#c84a03"/>
<rect x="160.75" y="333.95" width="3.02" height="16.6" fill="#60d068"/>
<rect x="185.96" y="333.95" width="172.58" height="16.6" fill="#e7e7e7"/>
<path d="M189.34 333.95v16.6M192.72 333.95v16.6M196.11 333.95v16.6M199.49 333.95v16.6M202.88 333.95v16.6M206.26 333.95v16.6M209.64 333.95v16.6M213.03 333.95v16.6M216.41 333.95v16.6M219.80 333.95v16.6M223.18 333.95v16.6M226.56 333.95v16.6M229.95 333.95v16.6M233.33 333.95v16.6M236.72 333.95v16.6M240.10 333.95v16.6M243.48 333.95v16.6M246.87 333.95v16.6M250.25 333.95v16.6M253.64 333.95v16.6M257.02 333.95v16.6M260.40 333.95v16.6M263.79 333.95v16.6M267.17 333.95v16.6M270.56 333.95v16.6M273.94 333.95v16.6M277.32 333.95v16.6M280.71 333.95v16.6M284.09 333.95v16.6M287.48 333.95v16.6M290.86 333.95v16.6M294.24 333.95v16.6M297.63 333.95v16.6M301.01 333.95v16.6M304.40 333.95v16.6M307.78 333.95v16.6M311.16 333.95v16.6M314.55 333.95v16.6M317.93 333.95v16.6M321.32 333.95v16.6M324.70 333.95v16.6M328.08 333.95v16.6M331.47 333.95v16.6M334.85 333.95v16.6M338.24 333.95v16.6M341.62 333.95v16.6M345.00 333.95v16.6M348.39 333.95v16.6M351.77 333.95v16.6M355.16 333.95v16.6" stroke="#f4f4f4" stroke-width="0.35" fill="none"/>
<rect x="230.13" y="333.95" width="3.02" height="16.6" fill="#60d068"/>
<rect x="264.24" y="336.77" width="2.48" height="10.96" fill="#dba652"/>
<rect x="284.27" y="333.95" width="3.02" height="16.6" fill="#c84a03"/>
<rect x="287.66" y="333.95" width="3.02" height="16.6" fill="#60d068"/>
<rect x="331.92" y="336.77" width="2.48" height="10.96" fill="#dba652"/>
<rect x="341.80" y="333.95" width="3.02" height="16.6" fill="#60d068"/>
<rect x="360.24" y="333.95" width="60.91" height="16.6" fill="#e7e7e7"/>
<path d="M363.62 333.95v16.6M367.01 333.95v16.6M370.39 333.95v16.6M373.78 333.95v16.6M377.16 333.95v16.6M380.54 333.95v16.6M383.93 333.95v16.6M387.31 333.95v16.6M390.70 333.95v16.6M394.08 333.95v16.6M397.46 333.95v16.6M400.85 333.95v16.6M404.23 333.95v16.6M407.62 333.95v16.6M411.00 333.95v16.6M414.38 333.95v16.6M417.77 333.95v16.6" stroke="#f4f4f4" stroke-width="0.35" fill="none"/>
<rect x="367.68" y="333.95" width="2.03" height="16.6" fill="#7aa9bb"/>
<rect x="394.26" y="333.95" width="3.02" height="16.6" fill="#c84a03"/>
<text x="67.4" y="344.45" font-size="6.3" font-style="italic" text-anchor="end" fill="#111">GNA13</text>
<text x="422.6" y="344.65" font-size="6.7" fill="#111">14%</text>
<rect x="69.20" y="352.16" width="115.06" height="16.6" fill="#e7e7e7"/>
<path d="M72.58 352.16v16.6M75.97 352.16v16.6M79.35 352.16v16.6M82.74 352.16v16.6M86.12 352.16v16.6M89.50 352.16v16.6M92.89 352.16v16.6M96.27 352.16v16.6M99.66 352.16v16.6M103.04 352.16v16.6M106.42 352.16v16.6M109.81 352.16v16.6M113.19 352.16v16.6M116.58 352.16v16.6M119.96 352.16v16.6M123.34 352.16v16.6M126.73 352.16v16.6M130.11 352.16v16.6M133.50 352.16v16.6M136.88 352.16v16.6M140.26 352.16v16.6M143.65 352.16v16.6M147.03 352.16v16.6M150.42 352.16v16.6M153.80 352.16v16.6M157.18 352.16v16.6M160.57 352.16v16.6M163.95 352.16v16.6M167.34 352.16v16.6M170.72 352.16v16.6M174.10 352.16v16.6M177.49 352.16v16.6M180.87 352.16v16.6" stroke="#f4f4f4" stroke-width="0.35" fill="none"/>
<rect x="113.37" y="352.16" width="3.02" height="16.6" fill="#60d068"/>
<rect x="185.96" y="352.16" width="172.58" height="16.6" fill="#e7e7e7"/>
<path d="M189.34 352.16v16.6M192.72 352.16v16.6M196.11 352.16v16.6M199.49 352.16v16.6M202.88 352.16v16.6M206.26 352.16v16.6M209.64 352.16v16.6M213.03 352.16v16.6M216.41 352.16v16.6M219.80 352.16v16.6M223.18 352.16v16.6M226.56 352.16v16.6M229.95 352.16v16.6M233.33 352.16v16.6M236.72 352.16v16.6M240.10 352.16v16.6M243.48 352.16v16.6M246.87 352.16v16.6M250.25 352.16v16.6M253.64 352.16v16.6M257.02 352.16v16.6M260.40 352.16v16.6M263.79 352.16v16.6M267.17 352.16v16.6M270.56 352.16v16.6M273.94 352.16v16.6M277.32 352.16v16.6M280.71 352.16v16.6M284.09 352.16v16.6M287.48 352.16v16.6M290.86 352.16v16.6M294.24 352.16v16.6M297.63 352.16v16.6M301.01 352.16v16.6M304.40 352.16v16.6M307.78 352.16v16.6M311.16 352.16v16.6M314.55 352.16v16.6M317.93 352.16v16.6M321.32 352.16v16.6M324.70 352.16v16.6M328.08 352.16v16.6M331.47 352.16v16.6M334.85 352.16v16.6M338.24 352.16v16.6M341.62 352.16v16.6M345.00 352.16v16.6M348.39 352.16v16.6M351.77 352.16v16.6M355.16 352.16v16.6" stroke="#f4f4f4" stroke-width="0.35" fill="none"/>
<rect x="186.14" y="352.16" width="3.02" height="16.6" fill="#60d068"/>
<rect x="206.44" y="352.16" width="3.02" height="16.6" fill="#c84a03"/>
<rect x="213.21" y="352.16" width="3.02" height="16.6" fill="#60d068"/>
<rect x="219.98" y="352.16" width="3.02" height="16.6" fill="#60d068"/>
<rect x="274.12" y="352.16" width="3.02" height="16.6" fill="#60d068"/>
<rect x="297.81" y="352.16" width="3.02" height="16.6" fill="#60d068"/>
<rect x="301.19" y="352.16" width="3.02" height="16.6" fill="#60d068"/>
<rect x="304.58" y="352.16" width="3.02" height="16.6" fill="#60d068"/>
<rect x="314.73" y="352.16" width="3.02" height="16.6" fill="#c84a03"/>
<rect x="360.24" y="352.16" width="60.91" height="16.6" fill="#e7e7e7"/>
<path d="M363.62 352.16v16.6M367.01 352.16v16.6M370.39 352.16v16.6M373.78 352.16v16.6M377.16 352.16v16.6M380.54 352.16v16.6M383.93 352.16v16.6M387.31 352.16v16.6M390.70 352.16v16.6M394.08 352.16v16.6M397.46 352.16v16.6M400.85 352.16v16.6M404.23 352.16v16.6M407.62 352.16v16.6M411.00 352.16v16.6M414.38 352.16v16.6M417.77 352.16v16.6" stroke="#f4f4f4" stroke-width="0.35" fill="none"/>
<rect x="385.25" y="352.16" width="0.74" height="16.6" fill="#08202f"/>
<rect x="390.88" y="352.16" width="3.02" height="16.6" fill="#60d068"/>
<text x="67.4" y="362.66" font-size="6.3" font-style="italic" text-anchor="end" fill="#111">BTG1</text>
<text x="422.6" y="362.86" font-size="6.7" fill="#111">12%</text>
<rect x="69.20" y="370.37" width="115.06" height="16.6" fill="#e7e7e7"/>
<path d="M72.58 370.37v16.6M75.97 370.37v16.6M79.35 370.37v16.6M82.74 370.37v16.6M86.12 370.37v16.6M89.50 370.37v16.6M92.89 370.37v16.6M96.27 370.37v16.6M99.66 370.37v16.6M103.04 370.37v16.6M106.42 370.37v16.6M109.81 370.37v16.6M113.19 370.37v16.6M116.58 370.37v16.6M119.96 370.37v16.6M123.34 370.37v16.6M126.73 370.37v16.6M130.11 370.37v16.6M133.50 370.37v16.6M136.88 370.37v16.6M140.26 370.37v16.6M143.65 370.37v16.6M147.03 370.37v16.6M150.42 370.37v16.6M153.80 370.37v16.6M157.18 370.37v16.6M160.57 370.37v16.6M163.95 370.37v16.6M167.34 370.37v16.6M170.72 370.37v16.6M174.10 370.37v16.6M177.49 370.37v16.6M180.87 370.37v16.6" stroke="#f4f4f4" stroke-width="0.35" fill="none"/>
<rect x="106.60" y="370.37" width="3.02" height="16.6" fill="#60d068"/>
<rect x="116.76" y="370.37" width="3.02" height="16.6" fill="#60d068"/>
<rect x="120.14" y="370.37" width="3.02" height="16.6" fill="#60d068"/><rect x="120.41" y="373.19" width="2.48" height="10.96" fill="#dba652"/>
<rect x="127.18" y="373.19" width="2.48" height="10.96" fill="#dba652"/>
<rect x="137.06" y="370.37" width="3.02" height="16.6" fill="#c84a03"/>
<rect x="185.96" y="370.37" width="172.58" height="16.6" fill="#e7e7e7"/>
<path d="M189.34 370.37v16.6M192.72 370.37v16.6M196.11 370.37v16.6M199.49 370.37v16.6M202.88 370.37v16.6M206.26 370.37v16.6M209.64 370.37v16.6M213.03 370.37v16.6M216.41 370.37v16.6M219.80 370.37v16.6M223.18 370.37v16.6M226.56 370.37v16.6M229.95 370.37v16.6M233.33 370.37v16.6M236.72 370.37v16.6M240.10 370.37v16.6M243.48 370.37v16.6M246.87 370.37v16.6M250.25 370.37v16.6M253.64 370.37v16.6M257.02 370.37v16.6M260.40 370.37v16.6M263.79 370.37v16.6M267.17 370.37v16.6M270.56 370.37v16.6M273.94 370.37v16.6M277.32 370.37v16.6M280.71 370.37v16.6M284.09 370.37v16.6M287.48 370.37v16.6M290.86 370.37v16.6M294.24 370.37v16.6M297.63 370.37v16.6M301.01 370.37v16.6M304.40 370.37v16.6M307.78 370.37v16.6M311.16 370.37v16.6M314.55 370.37v16.6M317.93 370.37v16.6M321.32 370.37v16.6M324.70 370.37v16.6M328.08 370.37v16.6M331.47 370.37v16.6M334.85 370.37v16.6M338.24 370.37v16.6M341.62 370.37v16.6M345.00 370.37v16.6M348.39 370.37v16.6M351.77 370.37v16.6M355.16 370.37v16.6" stroke="#f4f4f4" stroke-width="0.35" fill="none"/>
<rect x="192.90" y="370.37" width="3.02" height="16.6" fill="#60d068"/>
<rect x="275.33" y="370.37" width="0.61" height="16.6" fill="#ffaaaa"/>
<rect x="277.50" y="370.37" width="3.02" height="16.6" fill="#60d068"/>
<rect x="312.55" y="370.37" width="0.61" height="16.6" fill="#ffaaaa"/>
<rect x="321.50" y="370.37" width="3.02" height="16.6" fill="#60d068"/>
<rect x="345.18" y="370.37" width="3.02" height="16.6" fill="#c84a03"/>
<rect x="360.24" y="370.37" width="60.91" height="16.6" fill="#e7e7e7"/>
<path d="M363.62 370.37v16.6M367.01 370.37v16.6M370.39 370.37v16.6M373.78 370.37v16.6M377.16 370.37v16.6M380.54 370.37v16.6M383.93 370.37v16.6M387.31 370.37v16.6M390.70 370.37v16.6M394.08 370.37v16.6M397.46 370.37v16.6M400.85 370.37v16.6M404.23 370.37v16.6M407.62 370.37v16.6M411.00 370.37v16.6M414.38 370.37v16.6M417.77 370.37v16.6" stroke="#f4f4f4" stroke-width="0.35" fill="none"/>
<rect x="384.11" y="370.37" width="3.02" height="16.6" fill="#60d068"/>
<text x="67.4" y="380.87" font-size="6.3" font-style="italic" text-anchor="end" fill="#111">IGLL5</text>
<text x="422.6" y="381.07" font-size="6.7" fill="#111">12%</text>
<rect x="69.20" y="388.58" width="115.06" height="16.6" fill="#e7e7e7"/>
<path d="M72.58 388.58v16.6M75.97 388.58v16.6M79.35 388.58v16.6M82.74 388.58v16.6M86.12 388.58v16.6M89.50 388.58v16.6M92.89 388.58v16.6M96.27 388.58v16.6M99.66 388.58v16.6M103.04 388.58v16.6M106.42 388.58v16.6M109.81 388.58v16.6M113.19 388.58v16.6M116.58 388.58v16.6M119.96 388.58v16.6M123.34 388.58v16.6M126.73 388.58v16.6M130.11 388.58v16.6M133.50 388.58v16.6M136.88 388.58v16.6M140.26 388.58v16.6M143.65 388.58v16.6M147.03 388.58v16.6M150.42 388.58v16.6M153.80 388.58v16.6M157.18 388.58v16.6M160.57 388.58v16.6M163.95 388.58v16.6M167.34 388.58v16.6M170.72 388.58v16.6M174.10 388.58v16.6M177.49 388.58v16.6M180.87 388.58v16.6" stroke="#f4f4f4" stroke-width="0.35" fill="none"/>
<rect x="170.90" y="388.58" width="3.02" height="16.6" fill="#60d068"/>
<rect x="185.96" y="388.58" width="172.58" height="16.6" fill="#e7e7e7"/>
<path d="M189.34 388.58v16.6M192.72 388.58v16.6M196.11 388.58v16.6M199.49 388.58v16.6M202.88 388.58v16.6M206.26 388.58v16.6M209.64 388.58v16.6M213.03 388.58v16.6M216.41 388.58v16.6M219.80 388.58v16.6M223.18 388.58v16.6M226.56 388.58v16.6M229.95 388.58v16.6M233.33 388.58v16.6M236.72 388.58v16.6M240.10 388.58v16.6M243.48 388.58v16.6M246.87 388.58v16.6M250.25 388.58v16.6M253.64 388.58v16.6M257.02 388.58v16.6M260.40 388.58v16.6M263.79 388.58v16.6M267.17 388.58v16.6M270.56 388.58v16.6M273.94 388.58v16.6M277.32 388.58v16.6M280.71 388.58v16.6M284.09 388.58v16.6M287.48 388.58v16.6M290.86 388.58v16.6M294.24 388.58v16.6M297.63 388.58v16.6M301.01 388.58v16.6M304.40 388.58v16.6M307.78 388.58v16.6M311.16 388.58v16.6M314.55 388.58v16.6M317.93 388.58v16.6M321.32 388.58v16.6M324.70 388.58v16.6M328.08 388.58v16.6M331.47 388.58v16.6M334.85 388.58v16.6M338.24 388.58v16.6M341.62 388.58v16.6M345.00 388.58v16.6M348.39 388.58v16.6M351.77 388.58v16.6M355.16 388.58v16.6" stroke="#f4f4f4" stroke-width="0.35" fill="none"/>
<rect x="186.14" y="388.58" width="3.02" height="16.6" fill="#60d068"/>
<rect x="234.72" y="388.58" width="0.61" height="16.6" fill="#ffaaaa"/>
<rect x="250.43" y="388.58" width="3.02" height="16.6" fill="#c84a03"/>
<rect x="260.58" y="388.58" width="3.02" height="16.6" fill="#60d068"/>
<rect x="299.02" y="388.58" width="0.61" height="16.6" fill="#ffaaaa"/>
<rect x="301.19" y="388.58" width="3.02" height="16.6" fill="#c84a03"/>
<rect x="318.11" y="388.58" width="3.02" height="16.6" fill="#60d068"/>
<rect x="335.03" y="388.58" width="3.02" height="16.6" fill="#60d068"/>
<rect x="348.57" y="388.58" width="3.02" height="16.6" fill="#60d068"/>
<rect x="360.24" y="388.58" width="60.91" height="16.6" fill="#e7e7e7"/>
<path d="M363.62 388.58v16.6M367.01 388.58v16.6M370.39 388.58v16.6M373.78 388.58v16.6M377.16 388.58v16.6M380.54 388.58v16.6M383.93 388.58v16.6M387.31 388.58v16.6M390.70 388.58v16.6M394.08 388.58v16.6M397.46 388.58v16.6M400.85 388.58v16.6M404.23 388.58v16.6M407.62 388.58v16.6M411.00 388.58v16.6M414.38 388.58v16.6M417.77 388.58v16.6" stroke="#f4f4f4" stroke-width="0.35" fill="none"/>
<rect x="360.42" y="388.58" width="3.02" height="16.6" fill="#60d068"/>
<rect x="370.57" y="388.58" width="3.02" height="16.6" fill="#60d068"/>
<text x="67.4" y="399.08" font-size="6.3" font-style="italic" text-anchor="end" fill="#111">S1PR2</text>
<text x="422.6" y="399.28" font-size="6.7" fill="#111">12%</text>
<rect x="69.20" y="406.79" width="115.06" height="16.6" fill="#e7e7e7"/>
<path d="M72.58 406.79v16.6M75.97 406.79v16.6M79.35 406.79v16.6M82.74 406.79v16.6M86.12 406.79v16.6M89.50 406.79v16.6M92.89 406.79v16.6M96.27 406.79v16.6M99.66 406.79v16.6M103.04 406.79v16.6M106.42 406.79v16.6M109.81 406.79v16.6M113.19 406.79v16.6M116.58 406.79v16.6M119.96 406.79v16.6M123.34 406.79v16.6M126.73 406.79v16.6M130.11 406.79v16.6M133.50 406.79v16.6M136.88 406.79v16.6M140.26 406.79v16.6M143.65 406.79v16.6M147.03 406.79v16.6M150.42 406.79v16.6M153.80 406.79v16.6M157.18 406.79v16.6M160.57 406.79v16.6M163.95 406.79v16.6M167.34 406.79v16.6M170.72 406.79v16.6M174.10 406.79v16.6M177.49 406.79v16.6M180.87 406.79v16.6" stroke="#f4f4f4" stroke-width="0.35" fill="none"/>
<rect x="76.15" y="406.79" width="3.02" height="16.6" fill="#60d068"/><rect x="76.81" y="406.79" width="1.69" height="16.6" fill="#006400"/>
<rect x="82.92" y="406.79" width="3.02" height="16.6" fill="#60d068"/><rect x="83.58" y="406.79" width="1.69" height="16.6" fill="#006400"/>
<rect x="87.10" y="406.79" width="1.42" height="16.6" fill="#006400"/>
<rect x="96.45" y="406.79" width="3.02" height="16.6" fill="#60d068"/><rect x="97.12" y="406.79" width="1.69" height="16.6" fill="#006400"/>
<rect x="116.76" y="406.79" width="3.02" height="16.6" fill="#60d068"/><rect x="117.42" y="406.79" width="1.69" height="16.6" fill="#006400"/>
<rect x="157.36" y="406.79" width="3.02" height="16.6" fill="#60d068"/><rect x="158.03" y="406.79" width="1.69" height="16.6" fill="#006400"/>
<rect x="175.09" y="406.79" width="1.42" height="16.6" fill="#006400"/>
<rect x="185.96" y="406.79" width="172.58" height="16.6" fill="#e7e7e7"/>
<path d="M189.34 406.79v16.6M192.72 406.79v16.6M196.11 406.79v16.6M199.49 406.79v16.6M202.88 406.79v16.6M206.26 406.79v16.6M209.64 406.79v16.6M213.03 406.79v16.6M216.41 406.79v16.6M219.80 406.79v16.6M223.18 406.79v16.6M226.56 406.79v16.6M229.95 406.79v16.6M233.33 406.79v16.6M236.72 406.79v16.6M240.10 406.79v16.6M243.48 406.79v16.6M246.87 406.79v16.6M250.25 406.79v16.6M253.64 406.79v16.6M257.02 406.79v16.6M260.40 406.79v16.6M263.79 406.79v16.6M267.17 406.79v16.6M270.56 406.79v16.6M273.94 406.79v16.6M277.32 406.79v16.6M280.71 406.79v16.6M284.09 406.79v16.6M287.48 406.79v16.6M290.86 406.79v16.6M294.24 406.79v16.6M297.63 406.79v16.6M301.01 406.79v16.6M304.40 406.79v16.6M307.78 406.79v16.6M311.16 406.79v16.6M314.55 406.79v16.6M317.93 406.79v16.6M321.32 406.79v16.6M324.70 406.79v16.6M328.08 406.79v16.6M331.47 406.79v16.6M334.85 406.79v16.6M338.24 406.79v16.6M341.62 406.79v16.6M345.00 406.79v16.6M348.39 406.79v16.6M351.77 406.79v16.6M355.16 406.79v16.6" stroke="#f4f4f4" stroke-width="0.35" fill="none"/>
<rect x="207.24" y="406.79" width="1.42" height="16.6" fill="#006400"/>
<rect x="295.23" y="406.79" width="1.42" height="16.6" fill="#006400"/>
<rect x="360.24" y="406.79" width="60.91" height="16.6" fill="#e7e7e7"/>
<path d="M363.62 406.79v16.6M367.01 406.79v16.6M370.39 406.79v16.6M373.78 406.79v16.6M377.16 406.79v16.6M380.54 406.79v16.6M383.93 406.79v16.6M387.31 406.79v16.6M390.70 406.79v16.6M394.08 406.79v16.6M397.46 406.79v16.6M400.85 406.79v16.6M404.23 406.79v16.6M407.62 406.79v16.6M411.00 406.79v16.6M414.38 406.79v16.6M417.77 406.79v16.6" stroke="#f4f4f4" stroke-width="0.35" fill="none"/>
<rect x="374.76" y="406.79" width="1.42" height="16.6" fill="#006400"/>
<rect x="408.60" y="406.79" width="1.42" height="16.6" fill="#006400"/>
<text x="67.4" y="417.29" font-size="6.3" font-style="italic" text-anchor="end" fill="#111">MYC</text>
<text x="422.6" y="417.49" font-size="6.7" fill="#111">11%</text>
<rect x="69.20" y="425.00" width="115.06" height="16.6" fill="#e7e7e7"/>
<path d="M72.58 425.00v16.6M75.97 425.00v16.6M79.35 425.00v16.6M82.74 425.00v16.6M86.12 425.00v16.6M89.50 425.00v16.6M92.89 425.00v16.6M96.27 425.00v16.6M99.66 425.00v16.6M103.04 425.00v16.6M106.42 425.00v16.6M109.81 425.00v16.6M113.19 425.00v16.6M116.58 425.00v16.6M119.96 425.00v16.6M123.34 425.00v16.6M126.73 425.00v16.6M130.11 425.00v16.6M133.50 425.00v16.6M136.88 425.00v16.6M140.26 425.00v16.6M143.65 425.00v16.6M147.03 425.00v16.6M150.42 425.00v16.6M153.80 425.00v16.6M157.18 425.00v16.6M160.57 425.00v16.6M163.95 425.00v16.6M167.34 425.00v16.6M170.72 425.00v16.6M174.10 425.00v16.6M177.49 425.00v16.6M180.87 425.00v16.6" stroke="#f4f4f4" stroke-width="0.35" fill="none"/>
<rect x="117.90" y="425.00" width="0.74" height="16.6" fill="#08202f"/>
<rect x="178.88" y="425.00" width="0.61" height="16.6" fill="#ffaaaa"/>
<rect x="185.96" y="425.00" width="172.58" height="16.6" fill="#e7e7e7"/>
<path d="M189.34 425.00v16.6M192.72 425.00v16.6M196.11 425.00v16.6M199.49 425.00v16.6M202.88 425.00v16.6M206.26 425.00v16.6M209.64 425.00v16.6M213.03 425.00v16.6M216.41 425.00v16.6M219.80 425.00v16.6M223.18 425.00v16.6M226.56 425.00v16.6M229.95 425.00v16.6M233.33 425.00v16.6M236.72 425.00v16.6M240.10 425.00v16.6M243.48 425.00v16.6M246.87 425.00v16.6M250.25 425.00v16.6M253.64 425.00v16.6M257.02 425.00v16.6M260.40 425.00v16.6M263.79 425.00v16.6M267.17 425.00v16.6M270.56 425.00v16.6M273.94 425.00v16.6M277.32 425.00v16.6M280.71 425.00v16.6M284.09 425.00v16.6M287.48 425.00v16.6M290.86 425.00v16.6M294.24 425.00v16.6M297.63 425.00v16.6M301.01 425.00v16.6M304.40 425.00v16.6M307.78 425.00v16.6M311.16 425.00v16.6M314.55 425.00v16.6M317.93 425.00v16.6M321.32 425.00v16.6M324.70 425.00v16.6M328.08 425.00v16.6M331.47 425.00v16.6M334.85 425.00v16.6M338.24 425.00v16.6M341.62 425.00v16.6M345.00 425.00v16.6M348.39 425.00v16.6M351.77 425.00v16.6M355.16 425.00v16.6" stroke="#f4f4f4" stroke-width="0.35" fill="none"/>
<rect x="217.73" y="425.00" width="0.74" height="16.6" fill="#08202f"/>
<rect x="255.02" y="425.00" width="0.61" height="16.6" fill="#ffaaaa"/>
<rect x="258.41" y="425.00" width="0.61" height="16.6" fill="#ffaaaa"/>
<rect x="267.85" y="425.00" width="2.03" height="16.6" fill="#7aa9bb"/>
<rect x="278.71" y="425.00" width="0.61" height="16.6" fill="#ffaaaa"/>
<rect x="284.27" y="425.00" width="3.02" height="16.6" fill="#c84a03"/>
<rect x="299.02" y="425.00" width="0.61" height="16.6" fill="#ffaaaa"/>
<rect x="353.16" y="425.00" width="0.61" height="16.6" fill="#ffaaaa"/>
<rect x="360.24" y="425.00" width="60.91" height="16.6" fill="#e7e7e7"/>
<path d="M363.62 425.00v16.6M367.01 425.00v16.6M370.39 425.00v16.6M373.78 425.00v16.6M377.16 425.00v16.6M380.54 425.00v16.6M383.93 425.00v16.6M387.31 425.00v16.6M390.70 425.00v16.6M394.08 425.00v16.6M397.46 425.00v16.6M400.85 425.00v16.6M404.23 425.00v16.6M407.62 425.00v16.6M411.00 425.00v16.6M414.38 425.00v16.6M417.77 425.00v16.6" stroke="#f4f4f4" stroke-width="0.35" fill="none"/>
<rect x="402.24" y="425.00" width="0.61" height="16.6" fill="#ffaaaa"/>
<text x="67.4" y="435.50" font-size="6.3" font-style="italic" text-anchor="end" fill="#111">CDKN2A</text>
<text x="422.6" y="435.70" font-size="6.7" fill="#111">11%</text>
<rect x="69.20" y="443.21" width="115.06" height="16.6" fill="#e7e7e7"/>
<path d="M72.58 443.21v16.6M75.97 443.21v16.6M79.35 443.21v16.6M82.74 443.21v16.6M86.12 443.21v16.6M89.50 443.21v16.6M92.89 443.21v16.6M96.27 443.21v16.6M99.66 443.21v16.6M103.04 443.21v16.6M106.42 443.21v16.6M109.81 443.21v16.6M113.19 443.21v16.6M116.58 443.21v16.6M119.96 443.21v16.6M123.34 443.21v16.6M126.73 443.21v16.6M130.11 443.21v16.6M133.50 443.21v16.6M136.88 443.21v16.6M140.26 443.21v16.6M143.65 443.21v16.6M147.03 443.21v16.6M150.42 443.21v16.6M153.80 443.21v16.6M157.18 443.21v16.6M160.57 443.21v16.6M163.95 443.21v16.6M167.34 443.21v16.6M170.72 443.21v16.6M174.10 443.21v16.6M177.49 443.21v16.6M180.87 443.21v16.6" stroke="#f4f4f4" stroke-width="0.35" fill="none"/>
<rect x="104.43" y="443.21" width="0.61" height="16.6" fill="#ffaaaa"/>
<rect x="116.76" y="443.21" width="3.02" height="16.6" fill="#60d068"/>
<rect x="133.68" y="443.21" width="3.02" height="16.6" fill="#60d068"/>
<rect x="160.75" y="443.21" width="3.02" height="16.6" fill="#60d068"/>
<rect x="185.96" y="443.21" width="172.58" height="16.6" fill="#e7e7e7"/>
<path d="M189.34 443.21v16.6M192.72 443.21v16.6M196.11 443.21v16.6M199.49 443.21v16.6M202.88 443.21v16.6M206.26 443.21v16.6M209.64 443.21v16.6M213.03 443.21v16.6M216.41 443.21v16.6M219.80 443.21v16.6M223.18 443.21v16.6M226.56 443.21v16.6M229.95 443.21v16.6M233.33 443.21v16.6M236.72 443.21v16.6M240.10 443.21v16.6M243.48 443.21v16.6M246.87 443.21v16.6M250.25 443.21v16.6M253.64 443.21v16.6M257.02 443.21v16.6M260.40 443.21v16.6M263.79 443.21v16.6M267.17 443.21v16.6M270.56 443.21v16.6M273.94 443.21v16.6M277.32 443.21v16.6M280.71 443.21v16.6M284.09 443.21v16.6M287.48 443.21v16.6M290.86 443.21v16.6M294.24 443.21v16.6M297.63 443.21v16.6M301.01 443.21v16.6M304.40 443.21v16.6M307.78 443.21v16.6M311.16 443.21v16.6M314.55 443.21v16.6M317.93 443.21v16.6M321.32 443.21v16.6M324.70 443.21v16.6M328.08 443.21v16.6M331.47 443.21v16.6M334.85 443.21v16.6M338.24 443.21v16.6M341.62 443.21v16.6M345.00 443.21v16.6M348.39 443.21v16.6M351.77 443.21v16.6M355.16 443.21v16.6" stroke="#f4f4f4" stroke-width="0.35" fill="none"/>
<rect x="241.49" y="443.21" width="0.61" height="16.6" fill="#ffaaaa"/>
<rect x="248.19" y="443.21" width="0.74" height="16.6" fill="#08202f"/>
<rect x="284.27" y="443.21" width="3.02" height="16.6" fill="#c84a03"/>
<rect x="314.73" y="443.21" width="3.02" height="16.6" fill="#60d068"/>
<rect x="335.53" y="443.21" width="2.03" height="16.6" fill="#7aa9bb"/>
<rect x="360.24" y="443.21" width="60.91" height="16.6" fill="#e7e7e7"/>
<path d="M363.62 443.21v16.6M367.01 443.21v16.6M370.39 443.21v16.6M373.78 443.21v16.6M377.16 443.21v16.6M380.54 443.21v16.6M383.93 443.21v16.6M387.31 443.21v16.6M390.70 443.21v16.6M394.08 443.21v16.6M397.46 443.21v16.6M400.85 443.21v16.6M404.23 443.21v16.6M407.62 443.21v16.6M411.00 443.21v16.6M414.38 443.21v16.6M417.77 443.21v16.6" stroke="#f4f4f4" stroke-width="0.35" fill="none"/>
<rect x="385.25" y="443.21" width="0.74" height="16.6" fill="#08202f"/>
<rect x="388.70" y="443.21" width="0.61" height="16.6" fill="#ffaaaa"/>
<text x="67.4" y="453.71" font-size="6.3" font-style="italic" text-anchor="end" fill="#111">ARID1B</text>
<text x="422.6" y="453.91" font-size="6.7" fill="#111">11%</text>
<rect x="69.20" y="461.42" width="115.06" height="16.6" fill="#e7e7e7"/>
<path d="M72.58 461.42v16.6M75.97 461.42v16.6M79.35 461.42v16.6M82.74 461.42v16.6M86.12 461.42v16.6M89.50 461.42v16.6M92.89 461.42v16.6M96.27 461.42v16.6M99.66 461.42v16.6M103.04 461.42v16.6M106.42 461.42v16.6M109.81 461.42v16.6M113.19 461.42v16.6M116.58 461.42v16.6M119.96 461.42v16.6M123.34 461.42v16.6M126.73 461.42v16.6M130.11 461.42v16.6M133.50 461.42v16.6M136.88 461.42v16.6M140.26 461.42v16.6M143.65 461.42v16.6M147.03 461.42v16.6M150.42 461.42v16.6M153.80 461.42v16.6M157.18 461.42v16.6M160.57 461.42v16.6M163.95 461.42v16.6M167.34 461.42v16.6M170.72 461.42v16.6M174.10 461.42v16.6M177.49 461.42v16.6M180.87 461.42v16.6" stroke="#f4f4f4" stroke-width="0.35" fill="none"/>
<rect x="106.60" y="461.42" width="3.02" height="16.6" fill="#60d068"/>
<rect x="113.37" y="461.42" width="3.02" height="16.6" fill="#60d068"/><rect x="114.04" y="461.42" width="1.69" height="16.6" fill="#006400"/><rect x="114.51" y="461.42" width="0.74" height="16.6" fill="#08202f"/>
<rect x="147.21" y="461.42" width="3.02" height="16.6" fill="#60d068"/>
<rect x="160.75" y="461.42" width="3.02" height="16.6" fill="#60d068"/><rect x="161.41" y="461.42" width="1.69" height="16.6" fill="#006400"/><rect x="161.89" y="461.42" width="0.74" height="16.6" fill="#08202f"/>
<rect x="185.96" y="461.42" width="172.58" height="16.6" fill="#e7e7e7"/>
<path d="M189.34 461.42v16.6M192.72 461.42v16.6M196.11 461.42v16.6M199.49 461.42v16.6M202.88 461.42v16.6M206.26 461.42v16.6M209.64 461.42v16.6M213.03 461.42v16.6M216.41 461.42v16.6M219.80 461.42v16.6M223.18 461.42v16.6M226.56 461.42v16.6M229.95 461.42v16.6M233.33 461.42v16.6M236.72 461.42v16.6M240.10 461.42v16.6M243.48 461.42v16.6M246.87 461.42v16.6M250.25 461.42v16.6M253.64 461.42v16.6M257.02 461.42v16.6M260.40 461.42v16.6M263.79 461.42v16.6M267.17 461.42v16.6M270.56 461.42v16.6M273.94 461.42v16.6M277.32 461.42v16.6M280.71 461.42v16.6M284.09 461.42v16.6M287.48 461.42v16.6M290.86 461.42v16.6M294.24 461.42v16.6M297.63 461.42v16.6M301.01 461.42v16.6M304.40 461.42v16.6M307.78 461.42v16.6M311.16 461.42v16.6M314.55 461.42v16.6M317.93 461.42v16.6M321.32 461.42v16.6M324.70 461.42v16.6M328.08 461.42v16.6M331.47 461.42v16.6M334.85 461.42v16.6M338.24 461.42v16.6M341.62 461.42v16.6M345.00 461.42v16.6M348.39 461.42v16.6M351.77 461.42v16.6M355.16 461.42v16.6" stroke="#f4f4f4" stroke-width="0.35" fill="none"/>
<rect x="236.90" y="461.42" width="3.02" height="16.6" fill="#60d068"/><rect x="237.56" y="461.42" width="1.69" height="16.6" fill="#006400"/>
<rect x="254.62" y="461.42" width="1.42" height="16.6" fill="#006400"/>
<rect x="295.23" y="461.42" width="1.42" height="16.6" fill="#006400"/>
<rect x="307.96" y="461.42" width="3.02" height="16.6" fill="#60d068"/>
<rect x="324.88" y="461.42" width="3.02" height="16.6" fill="#60d068"/>
<rect x="332.45" y="461.42" width="1.42" height="16.6" fill="#006400"/>
<rect x="360.24" y="461.42" width="60.91" height="16.6" fill="#e7e7e7"/>
<path d="M363.62 461.42v16.6M367.01 461.42v16.6M370.39 461.42v16.6M373.78 461.42v16.6M377.16 461.42v16.6M380.54 461.42v16.6M383.93 461.42v16.6M387.31 461.42v16.6M390.70 461.42v16.6M394.08 461.42v16.6M397.46 461.42v16.6M400.85 461.42v16.6M404.23 461.42v16.6M407.62 461.42v16.6M411.00 461.42v16.6M414.38 461.42v16.6M417.77 461.42v16.6" stroke="#f4f4f4" stroke-width="0.35" fill="none"/>
<rect x="367.19" y="461.42" width="3.02" height="16.6" fill="#60d068"/><rect x="367.85" y="461.42" width="1.69" height="16.6" fill="#006400"/>
<text x="67.4" y="471.92" font-size="6.3" font-style="italic" text-anchor="end" fill="#111">BCL2</text>
<text x="422.6" y="472.12" font-size="6.7" fill="#111">11%</text>
<rect x="69.20" y="479.63" width="115.06" height="16.6" fill="#e7e7e7"/>
<path d="M72.58 479.63v16.6M75.97 479.63v16.6M79.35 479.63v16.6M82.74 479.63v16.6M86.12 479.63v16.6M89.50 479.63v16.6M92.89 479.63v16.6M96.27 479.63v16.6M99.66 479.63v16.6M103.04 479.63v16.6M106.42 479.63v16.6M109.81 479.63v16.6M113.19 479.63v16.6M116.58 479.63v16.6M119.96 479.63v16.6M123.34 479.63v16.6M126.73 479.63v16.6M130.11 479.63v16.6M133.50 479.63v16.6M136.88 479.63v16.6M140.26 479.63v16.6M143.65 479.63v16.6M147.03 479.63v16.6M150.42 479.63v16.6M153.80 479.63v16.6M157.18 479.63v16.6M160.57 479.63v16.6M163.95 479.63v16.6M167.34 479.63v16.6M170.72 479.63v16.6M174.10 479.63v16.6M177.49 479.63v16.6M180.87 479.63v16.6" stroke="#f4f4f4" stroke-width="0.35" fill="none"/>
<rect x="103.22" y="479.63" width="3.02" height="16.6" fill="#60d068"/>
<rect x="130.29" y="479.63" width="3.02" height="16.6" fill="#60d068"/>
<rect x="133.68" y="479.63" width="3.02" height="16.6" fill="#60d068"/>
<rect x="160.75" y="479.63" width="3.02" height="16.6" fill="#60d068"/>
<rect x="185.96" y="479.63" width="172.58" height="16.6" fill="#e7e7e7"/>
<path d="M189.34 479.63v16.6M192.72 479.63v16.6M196.11 479.63v16.6M199.49 479.63v16.6M202.88 479.63v16.6M206.26 479.63v16.6M209.64 479.63v16.6M213.03 479.63v16.6M216.41 479.63v16.6M219.80 479.63v16.6M223.18 479.63v16.6M226.56 479.63v16.6M229.95 479.63v16.6M233.33 479.63v16.6M236.72 479.63v16.6M240.10 479.63v16.6M243.48 479.63v16.6M246.87 479.63v16.6M250.25 479.63v16.6M253.64 479.63v16.6M257.02 479.63v16.6M260.40 479.63v16.6M263.79 479.63v16.6M267.17 479.63v16.6M270.56 479.63v16.6M273.94 479.63v16.6M277.32 479.63v16.6M280.71 479.63v16.6M284.09 479.63v16.6M287.48 479.63v16.6M290.86 479.63v16.6M294.24 479.63v16.6M297.63 479.63v16.6M301.01 479.63v16.6M304.40 479.63v16.6M307.78 479.63v16.6M311.16 479.63v16.6M314.55 479.63v16.6M317.93 479.63v16.6M321.32 479.63v16.6M324.70 479.63v16.6M328.08 479.63v16.6M331.47 479.63v16.6M334.85 479.63v16.6M338.24 479.63v16.6M341.62 479.63v16.6M345.00 479.63v16.6M348.39 479.63v16.6M351.77 479.63v16.6M355.16 479.63v16.6" stroke="#f4f4f4" stroke-width="0.35" fill="none"/>
<rect x="206.44" y="479.63" width="3.02" height="16.6" fill="#60d068"/>
<rect x="230.13" y="479.63" width="3.02" height="16.6" fill="#60d068"/>
<rect x="248.19" y="479.63" width="0.74" height="16.6" fill="#08202f"/>
<rect x="299.02" y="479.63" width="0.61" height="16.6" fill="#ffaaaa"/>
<rect x="328.26" y="479.63" width="3.02" height="16.6" fill="#60d068"/>
<rect x="360.24" y="479.63" width="60.91" height="16.6" fill="#e7e7e7"/>
<path d="M363.62 479.63v16.6M367.01 479.63v16.6M370.39 479.63v16.6M373.78 479.63v16.6M377.16 479.63v16.6M380.54 479.63v16.6M383.93 479.63v16.6M387.31 479.63v16.6M390.70 479.63v16.6M394.08 479.63v16.6M397.46 479.63v16.6M400.85 479.63v16.6M404.23 479.63v16.6M407.62 479.63v16.6M411.00 479.63v16.6M414.38 479.63v16.6M417.77 479.63v16.6" stroke="#f4f4f4" stroke-width="0.35" fill="none"/>
<rect x="397.64" y="479.63" width="3.02" height="16.6" fill="#60d068"/>
<rect x="411.18" y="479.63" width="3.02" height="16.6" fill="#60d068"/>
<text x="67.4" y="490.13" font-size="6.3" font-style="italic" text-anchor="end" fill="#111">MEF2B</text>
<text x="422.6" y="490.33" font-size="6.7" fill="#111">11%</text>
<rect x="69.20" y="497.84" width="115.06" height="16.6" fill="#e7e7e7"/>
<path d="M72.58 497.84v16.6M75.97 497.84v16.6M79.35 497.84v16.6M82.74 497.84v16.6M86.12 497.84v16.6M89.50 497.84v16.6M92.89 497.84v16.6M96.27 497.84v16.6M99.66 497.84v16.6M103.04 497.84v16.6M106.42 497.84v16.6M109.81 497.84v16.6M113.19 497.84v16.6M116.58 497.84v16.6M119.96 497.84v16.6M123.34 497.84v16.6M126.73 497.84v16.6M130.11 497.84v16.6M133.50 497.84v16.6M136.88 497.84v16.6M140.26 497.84v16.6M143.65 497.84v16.6M147.03 497.84v16.6M150.42 497.84v16.6M153.80 497.84v16.6M157.18 497.84v16.6M160.57 497.84v16.6M163.95 497.84v16.6M167.34 497.84v16.6M170.72 497.84v16.6M174.10 497.84v16.6M177.49 497.84v16.6M180.87 497.84v16.6" stroke="#f4f4f4" stroke-width="0.35" fill="none"/>
<rect x="89.68" y="497.84" width="3.02" height="16.6" fill="#60d068"/>
<rect x="109.89" y="504.23" width="3.22" height="3.82" fill="#7d6b3d"/>
<rect x="170.80" y="504.23" width="3.22" height="3.82" fill="#7d6b3d"/>
<rect x="185.96" y="497.84" width="172.58" height="16.6" fill="#e7e7e7"/>
<path d="M189.34 497.84v16.6M192.72 497.84v16.6M196.11 497.84v16.6M199.49 497.84v16.6M202.88 497.84v16.6M206.26 497.84v16.6M209.64 497.84v16.6M213.03 497.84v16.6M216.41 497.84v16.6M219.80 497.84v16.6M223.18 497.84v16.6M226.56 497.84v16.6M229.95 497.84v16.6M233.33 497.84v16.6M236.72 497.84v16.6M240.10 497.84v16.6M243.48 497.84v16.6M246.87 497.84v16.6M250.25 497.84v16.6M253.64 497.84v16.6M257.02 497.84v16.6M260.40 497.84v16.6M263.79 497.84v16.6M267.17 497.84v16.6M270.56 497.84v16.6M273.94 497.84v16.6M277.32 497.84v16.6M280.71 497.84v16.6M284.09 497.84v16.6M287.48 497.84v16.6M290.86 497.84v16.6M294.24 497.84v16.6M297.63 497.84v16.6M301.01 497.84v16.6M304.40 497.84v16.6M307.78 497.84v16.6M311.16 497.84v16.6M314.55 497.84v16.6M317.93 497.84v16.6M321.32 497.84v16.6M324.70 497.84v16.6M328.08 497.84v16.6M331.47 497.84v16.6M334.85 497.84v16.6M338.24 497.84v16.6M341.62 497.84v16.6M345.00 497.84v16.6M348.39 497.84v16.6M351.77 497.84v16.6M355.16 497.84v16.6" stroke="#f4f4f4" stroke-width="0.35" fill="none"/>
<rect x="277.40" y="504.23" width="3.22" height="3.82" fill="#7d6b3d"/>
<rect x="297.71" y="504.23" width="3.22" height="3.82" fill="#7d6b3d"/>
<rect x="351.85" y="504.23" width="3.22" height="3.82" fill="#7d6b3d"/>
<rect x="355.24" y="504.23" width="3.22" height="3.82" fill="#7d6b3d"/>
<rect x="360.24" y="497.84" width="60.91" height="16.6" fill="#e7e7e7"/>
<path d="M363.62 497.84v16.6M367.01 497.84v16.6M370.39 497.84v16.6M373.78 497.84v16.6M377.16 497.84v16.6M380.54 497.84v16.6M383.93 497.84v16.6M387.31 497.84v16.6M390.70 497.84v16.6M394.08 497.84v16.6M397.46 497.84v16.6M400.85 497.84v16.6M404.23 497.84v16.6M407.62 497.84v16.6M411.00 497.84v16.6M414.38 497.84v16.6M417.77 497.84v16.6" stroke="#f4f4f4" stroke-width="0.35" fill="none"/>
<rect x="384.01" y="504.23" width="3.22" height="3.82" fill="#7d6b3d"/>
<rect x="401.03" y="497.84" width="3.02" height="16.6" fill="#60d068"/>
<text x="67.4" y="508.34" font-size="6.3" font-style="italic" text-anchor="end" fill="#111">MYD88</text>
<text x="422.6" y="508.54" font-size="6.7" fill="#111">9%</text>
<rect x="69.20" y="516.05" width="115.06" height="16.6" fill="#e7e7e7"/>
<path d="M72.58 516.05v16.6M75.97 516.05v16.6M79.35 516.05v16.6M82.74 516.05v16.6M86.12 516.05v16.6M89.50 516.05v16.6M92.89 516.05v16.6M96.27 516.05v16.6M99.66 516.05v16.6M103.04 516.05v16.6M106.42 516.05v16.6M109.81 516.05v16.6M113.19 516.05v16.6M116.58 516.05v16.6M119.96 516.05v16.6M123.34 516.05v16.6M126.73 516.05v16.6M130.11 516.05v16.6M133.50 516.05v16.6M136.88 516.05v16.6M140.26 516.05v16.6M143.65 516.05v16.6M147.03 516.05v16.6M150.42 516.05v16.6M153.80 516.05v16.6M157.18 516.05v16.6M160.57 516.05v16.6M163.95 516.05v16.6M167.34 516.05v16.6M170.72 516.05v16.6M174.10 516.05v16.6M177.49 516.05v16.6M180.87 516.05v16.6" stroke="#f4f4f4" stroke-width="0.35" fill="none"/>
<rect x="177.94" y="518.87" width="2.48" height="10.96" fill="#dba652"/>
<rect x="185.96" y="516.05" width="172.58" height="16.6" fill="#e7e7e7"/>
<path d="M189.34 516.05v16.6M192.72 516.05v16.6M196.11 516.05v16.6M199.49 516.05v16.6M202.88 516.05v16.6M206.26 516.05v16.6M209.64 516.05v16.6M213.03 516.05v16.6M216.41 516.05v16.6M219.80 516.05v16.6M223.18 516.05v16.6M226.56 516.05v16.6M229.95 516.05v16.6M233.33 516.05v16.6M236.72 516.05v16.6M240.10 516.05v16.6M243.48 516.05v16.6M246.87 516.05v16.6M250.25 516.05v16.6M253.64 516.05v16.6M257.02 516.05v16.6M260.40 516.05v16.6M263.79 516.05v16.6M267.17 516.05v16.6M270.56 516.05v16.6M273.94 516.05v16.6M277.32 516.05v16.6M280.71 516.05v16.6M284.09 516.05v16.6M287.48 516.05v16.6M290.86 516.05v16.6M294.24 516.05v16.6M297.63 516.05v16.6M301.01 516.05v16.6M304.40 516.05v16.6M307.78 516.05v16.6M311.16 516.05v16.6M314.55 516.05v16.6M317.93 516.05v16.6M321.32 516.05v16.6M324.70 516.05v16.6M328.08 516.05v16.6M331.47 516.05v16.6M334.85 516.05v16.6M338.24 516.05v16.6M341.62 516.05v16.6M345.00 516.05v16.6M348.39 516.05v16.6M351.77 516.05v16.6M355.16 516.05v16.6" stroke="#f4f4f4" stroke-width="0.35" fill="none"/>
<rect x="189.52" y="516.05" width="3.02" height="16.6" fill="#60d068"/>
<rect x="216.59" y="516.05" width="3.02" height="16.6" fill="#60d068"/>
<rect x="251.10" y="516.05" width="1.69" height="16.6" fill="#f6c6c6"/>
<rect x="277.40" y="522.44" width="3.22" height="3.82" fill="#7d6b3d"/>
<rect x="297.81" y="516.05" width="3.02" height="16.6" fill="#60d068"/><rect x="297.71" y="522.44" width="3.22" height="3.82" fill="#7d6b3d"/>
<rect x="351.85" y="522.44" width="3.22" height="3.82" fill="#7d6b3d"/>
<rect x="355.24" y="522.44" width="3.22" height="3.82" fill="#7d6b3d"/>
<rect x="360.24" y="516.05" width="60.91" height="16.6" fill="#e7e7e7"/>
<path d="M363.62 516.05v16.6M367.01 516.05v16.6M370.39 516.05v16.6M373.78 516.05v16.6M377.16 516.05v16.6M380.54 516.05v16.6M383.93 516.05v16.6M387.31 516.05v16.6M390.70 516.05v16.6M394.08 516.05v16.6M397.46 516.05v16.6M400.85 516.05v16.6M404.23 516.05v16.6M407.62 516.05v16.6M411.00 516.05v16.6M414.38 516.05v16.6M417.77 516.05v16.6" stroke="#f4f4f4" stroke-width="0.35" fill="none"/>
<rect x="373.96" y="516.05" width="3.02" height="16.6" fill="#60d068"/>
<text x="67.4" y="526.55" font-size="6.3" font-style="italic" text-anchor="end" fill="#111">CD79B</text>
<text x="422.6" y="526.75" font-size="6.7" fill="#111">9%</text>
<rect x="69.20" y="534.26" width="115.06" height="16.6" fill="#e7e7e7"/>
<path d="M72.58 534.26v16.6M75.97 534.26v16.6M79.35 534.26v16.6M82.74 534.26v16.6M86.12 534.26v16.6M89.50 534.26v16.6M92.89 534.26v16.6M96.27 534.26v16.6M99.66 534.26v16.6M103.04 534.26v16.6M106.42 534.26v16.6M109.81 534.26v16.6M113.19 534.26v16.6M116.58 534.26v16.6M119.96 534.26v16.6M123.34 534.26v16.6M126.73 534.26v16.6M130.11 534.26v16.6M133.50 534.26v16.6M136.88 534.26v16.6M140.26 534.26v16.6M143.65 534.26v16.6M147.03 534.26v16.6M150.42 534.26v16.6M153.80 534.26v16.6M157.18 534.26v16.6M160.57 534.26v16.6M163.95 534.26v16.6M167.34 534.26v16.6M170.72 534.26v16.6M174.10 534.26v16.6M177.49 534.26v16.6M180.87 534.26v16.6" stroke="#f4f4f4" stroke-width="0.35" fill="none"/>
<rect x="185.96" y="534.26" width="172.58" height="16.6" fill="#e7e7e7"/>
<path d="M189.34 534.26v16.6M192.72 534.26v16.6M196.11 534.26v16.6M199.49 534.26v16.6M202.88 534.26v16.6M206.26 534.26v16.6M209.64 534.26v16.6M213.03 534.26v16.6M216.41 534.26v16.6M219.80 534.26v16.6M223.18 534.26v16.6M226.56 534.26v16.6M229.95 534.26v16.6M233.33 534.26v16.6M236.72 534.26v16.6M240.10 534.26v16.6M243.48 534.26v16.6M246.87 534.26v16.6M250.25 534.26v16.6M253.64 534.26v16.6M257.02 534.26v16.6M260.40 534.26v16.6M263.79 534.26v16.6M267.17 534.26v16.6M270.56 534.26v16.6M273.94 534.26v16.6M277.32 534.26v16.6M280.71 534.26v16.6M284.09 534.26v16.6M287.48 534.26v16.6M290.86 534.26v16.6M294.24 534.26v16.6M297.63 534.26v16.6M301.01 534.26v16.6M304.40 534.26v16.6M307.78 534.26v16.6M311.16 534.26v16.6M314.55 534.26v16.6M317.93 534.26v16.6M321.32 534.26v16.6M324.70 534.26v16.6M328.08 534.26v16.6M331.47 534.26v16.6M334.85 534.26v16.6M338.24 534.26v16.6M341.62 534.26v16.6M345.00 534.26v16.6M348.39 534.26v16.6M351.77 534.26v16.6M355.16 534.26v16.6" stroke="#f4f4f4" stroke-width="0.35" fill="none"/>
<rect x="292.18" y="534.26" width="0.74" height="16.6" fill="#08202f"/>
<rect x="348.57" y="534.26" width="3.02" height="16.6" fill="#60d068"/>
<rect x="360.24" y="534.26" width="60.91" height="16.6" fill="#e7e7e7"/>
<path d="M363.62 534.26v16.6M367.01 534.26v16.6M370.39 534.26v16.6M373.78 534.26v16.6M377.16 534.26v16.6M380.54 534.26v16.6M383.93 534.26v16.6M387.31 534.26v16.6M390.70 534.26v16.6M394.08 534.26v16.6M397.46 534.26v16.6M400.85 534.26v16.6M404.23 534.26v16.6M407.62 534.26v16.6M411.00 534.26v16.6M414.38 534.26v16.6M417.77 534.26v16.6" stroke="#f4f4f4" stroke-width="0.35" fill="none"/>
<text x="67.4" y="544.76" font-size="6.3" font-style="italic" text-anchor="end" fill="#111">NOTCH1</text>
<text x="422.6" y="544.96" font-size="6.7" fill="#111">2%</text>
<path d="M439.4 59.5H475.4" stroke="#333" stroke-width="0.7"/>
<path d="M439.40 59.5v-1.4" stroke="#333" stroke-width="0.6"/>
<text x="439.40" y="56.4" font-size="5.6" text-anchor="middle" fill="#222">0</text>
<path d="M452.55 59.5v-1.4" stroke="#333" stroke-width="0.6"/>
<text x="452.55" y="56.4" font-size="5.6" text-anchor="middle" fill="#222">10</text>
<path d="M465.70 59.5v-1.4" stroke="#333" stroke-width="0.6"/>
<text x="465.70" y="56.4" font-size="5.6" text-anchor="middle" fill="#222">20</text>
<rect x="439.40" y="63.75" width="15.78" height="10.7" fill="#60d068"/>
<rect x="455.18" y="63.75" width="6.57" height="10.7" fill="#c84a03"/>
<rect x="461.75" y="63.75" width="3.94" height="10.7" fill="#dba652"/>
<rect x="465.70" y="63.75" width="2.63" height="10.7" fill="#7aa9bb"/>
<rect x="468.33" y="63.75" width="2.63" height="10.7" fill="#08202f"/>
<rect x="470.96" y="63.75" width="1.31" height="10.7" fill="#ffaaaa"/>
<rect x="439.40" y="81.96" width="13.15" height="10.7" fill="#60d068"/>
<rect x="452.55" y="81.96" width="3.94" height="10.7" fill="#c84a03"/>
<rect x="456.49" y="81.96" width="17.09" height="10.7" fill="#006400"/>
<rect x="439.40" y="100.17" width="5.26" height="10.7" fill="#60d068"/>
<rect x="444.66" y="100.17" width="2.63" height="10.7" fill="#c84a03"/>
<rect x="447.29" y="100.17" width="3.94" height="10.7" fill="#dba652"/>
<rect x="451.23" y="100.17" width="10.52" height="10.7" fill="#7d6b3d"/>
<rect x="461.75" y="100.17" width="7.89" height="10.7" fill="#7aa9bb"/>
<rect x="469.64" y="100.17" width="2.63" height="10.7" fill="#ffaaaa"/>
<rect x="439.40" y="118.38" width="24.98" height="10.7" fill="#60d068"/>
<rect x="464.38" y="118.38" width="2.63" height="10.7" fill="#c84a03"/>
<rect x="467.01" y="118.38" width="2.63" height="10.7" fill="#dba652"/>
<rect x="439.40" y="136.59" width="22.36" height="10.7" fill="#60d068"/>
<rect x="461.75" y="136.59" width="2.63" height="10.7" fill="#7aa9bb"/>
<rect x="464.38" y="136.59" width="1.31" height="10.7" fill="#08202f"/>
<rect x="439.40" y="154.80" width="22.36" height="10.7" fill="#60d068"/>
<rect x="461.75" y="154.80" width="5.26" height="10.7" fill="#c84a03"/>
<rect x="467.01" y="154.80" width="2.63" height="10.7" fill="#dba652"/>
<rect x="439.40" y="173.01" width="22.36" height="10.7" fill="#60d068"/>
<rect x="461.75" y="173.01" width="5.26" height="10.7" fill="#c84a03"/>
<rect x="467.01" y="173.01" width="3.94" height="10.7" fill="#7aa9bb"/>
<rect x="439.40" y="191.22" width="21.04" height="10.7" fill="#60d068"/>
<rect x="460.44" y="191.22" width="1.31" height="10.7" fill="#ffaaaa"/>
<rect x="439.40" y="209.43" width="2.63" height="10.7" fill="#60d068"/>
<rect x="442.03" y="209.43" width="1.31" height="10.7" fill="#dba652"/>
<rect x="443.34" y="209.43" width="21.04" height="10.7" fill="#7d6b3d"/>
<rect x="439.40" y="227.64" width="10.52" height="10.7" fill="#60d068"/>
<rect x="449.92" y="227.64" width="9.21" height="10.7" fill="#c84a03"/>
<rect x="459.12" y="227.64" width="3.94" height="10.7" fill="#dba652"/>
<rect x="463.07" y="227.64" width="1.31" height="10.7" fill="#7aa9bb"/>
<rect x="464.38" y="227.64" width="1.31" height="10.7" fill="#ffaaaa"/>
<rect x="439.40" y="245.85" width="14.46" height="10.7" fill="#60d068"/>
<rect x="453.86" y="245.85" width="2.63" height="10.7" fill="#7aa9bb"/>
<rect x="456.49" y="245.85" width="3.94" height="10.7" fill="#08202f"/>
<rect x="439.40" y="264.06" width="15.78" height="10.7" fill="#60d068"/>
<rect x="455.18" y="264.06" width="5.26" height="10.7" fill="#7aa9bb"/>
<rect x="439.40" y="282.27" width="18.41" height="10.7" fill="#60d068"/>
<rect x="457.81" y="282.27" width="1.31" height="10.7" fill="#dba652"/>
<rect x="439.40" y="300.48" width="11.83" height="10.7" fill="#60d068"/>
<rect x="451.23" y="300.48" width="1.31" height="10.7" fill="#c84a03"/>
<rect x="452.55" y="300.48" width="1.31" height="10.7" fill="#dba652"/>
<rect x="453.86" y="300.48" width="2.63" height="10.7" fill="#7aa9bb"/>
<rect x="456.49" y="300.48" width="1.31" height="10.7" fill="#ffaaaa"/>
<rect x="439.40" y="318.69" width="17.09" height="10.7" fill="#60d068"/>
<rect x="456.50" y="318.69" width="1.31" height="10.7" fill="#dba652"/>
<rect x="457.81" y="318.69" width="1.31" height="10.7" fill="#a03c96"/>
<rect x="439.40" y="336.90" width="11.83" height="10.7" fill="#60d068"/>
<rect x="451.23" y="336.90" width="3.94" height="10.7" fill="#c84a03"/>
<rect x="455.18" y="336.90" width="2.63" height="10.7" fill="#dba652"/>
<rect x="457.81" y="336.90" width="1.31" height="10.7" fill="#7aa9bb"/>
<rect x="439.40" y="355.11" width="13.15" height="10.7" fill="#60d068"/>
<rect x="452.55" y="355.11" width="2.63" height="10.7" fill="#c84a03"/>
<rect x="455.18" y="355.11" width="1.31" height="10.7" fill="#08202f"/>
<rect x="439.40" y="373.32" width="9.21" height="10.7" fill="#60d068"/>
<rect x="448.60" y="373.32" width="2.63" height="10.7" fill="#c84a03"/>
<rect x="451.23" y="373.32" width="2.63" height="10.7" fill="#dba652"/>
<rect x="453.86" y="373.32" width="2.63" height="10.7" fill="#ffaaaa"/>
<rect x="439.40" y="391.53" width="11.83" height="10.7" fill="#60d068"/>
<rect x="451.23" y="391.53" width="2.63" height="10.7" fill="#c84a03"/>
<rect x="453.86" y="391.53" width="2.63" height="10.7" fill="#ffaaaa"/>
<rect x="439.40" y="409.74" width="6.57" height="10.7" fill="#60d068"/>
<rect x="445.97" y="409.74" width="14.46" height="10.7" fill="#006400"/>
<rect x="439.40" y="427.95" width="1.31" height="10.7" fill="#c84a03"/>
<rect x="440.71" y="427.95" width="1.31" height="10.7" fill="#7aa9bb"/>
<rect x="442.03" y="427.95" width="2.63" height="10.7" fill="#08202f"/>
<rect x="444.66" y="427.95" width="9.21" height="10.7" fill="#ffaaaa"/>
<rect x="439.40" y="446.16" width="5.26" height="10.7" fill="#60d068"/>
<rect x="444.66" y="446.16" width="1.31" height="10.7" fill="#c84a03"/>
<rect x="445.97" y="446.16" width="1.31" height="10.7" fill="#7aa9bb"/>
<rect x="447.29" y="446.16" width="2.63" height="10.7" fill="#08202f"/>
<rect x="449.92" y="446.16" width="3.94" height="10.7" fill="#ffaaaa"/>
<rect x="439.40" y="464.37" width="10.52" height="10.7" fill="#60d068"/>
<rect x="449.92" y="464.37" width="9.21" height="10.7" fill="#006400"/>
<rect x="439.40" y="482.58" width="11.83" height="10.7" fill="#60d068"/>
<rect x="451.23" y="482.58" width="1.31" height="10.7" fill="#08202f"/>
<rect x="452.55" y="482.58" width="1.31" height="10.7" fill="#ffaaaa"/>
<rect x="439.40" y="500.79" width="2.63" height="10.7" fill="#60d068"/>
<rect x="442.03" y="500.79" width="9.21" height="10.7" fill="#7d6b3d"/>
<rect x="439.40" y="519.00" width="5.26" height="10.7" fill="#60d068"/>
<rect x="444.66" y="519.00" width="1.31" height="10.7" fill="#dba652"/>
<rect x="445.97" y="519.00" width="5.26" height="10.7" fill="#7d6b3d"/>
<rect x="451.23" y="519.00" width="1.31" height="10.7" fill="#ffaaaa"/>
<rect x="439.40" y="537.21" width="1.31" height="10.7" fill="#60d068"/>
<rect x="440.71" y="537.21" width="1.31" height="10.7" fill="#08202f"/>
<rect x="69.20" y="554.00" width="10.20" height="8.9" fill="#000000"/>
<rect x="79.35" y="554.00" width="3.43" height="8.9" fill="#ffc0cb"/>
<rect x="82.74" y="554.00" width="13.59" height="8.9" fill="#000000"/>
<rect x="96.27" y="554.00" width="3.43" height="8.9" fill="#ffc0cb"/>
<rect x="99.66" y="554.00" width="67.73" height="8.9" fill="#000000"/>
<rect x="167.34" y="554.00" width="3.43" height="8.9" fill="#ffc0cb"/>
<rect x="170.72" y="554.00" width="13.59" height="8.9" fill="#000000"/>
<rect x="185.96" y="554.00" width="3.43" height="8.9" fill="#000000"/>
<rect x="189.34" y="554.00" width="3.43" height="8.9" fill="#ffc0cb"/>
<rect x="192.72" y="554.00" width="16.97" height="8.9" fill="#000000"/>
<rect x="209.64" y="554.00" width="6.82" height="8.9" fill="#ffc0cb"/>
<rect x="216.41" y="554.00" width="6.82" height="8.9" fill="#000000"/>
<rect x="223.18" y="554.00" width="6.82" height="8.9" fill="#ffc0cb"/>
<rect x="229.95" y="554.00" width="6.82" height="8.9" fill="#000000"/>
<rect x="236.72" y="554.00" width="3.43" height="8.9" fill="#ffc0cb"/>
<rect x="240.10" y="554.00" width="27.12" height="8.9" fill="#000000"/>
<rect x="267.17" y="554.00" width="3.43" height="8.9" fill="#ffc0cb"/>
<rect x="270.56" y="554.00" width="3.43" height="8.9" fill="#000000"/>
<rect x="273.94" y="554.00" width="3.43" height="8.9" fill="#ffc0cb"/>
<rect x="277.32" y="554.00" width="30.51" height="8.9" fill="#000000"/>
<rect x="307.78" y="554.00" width="3.43" height="8.9" fill="#ffc0cb"/>
<rect x="311.16" y="554.00" width="13.59" height="8.9" fill="#000000"/>
<rect x="324.70" y="554.00" width="10.20" height="8.9" fill="#ffc0cb"/>
<rect x="334.85" y="554.00" width="16.97" height="8.9" fill="#000000"/>
<rect x="351.77" y="554.00" width="6.82" height="8.9" fill="#ffc0cb"/>
<rect x="360.24" y="554.00" width="6.82" height="8.9" fill="#000000"/>
<rect x="367.01" y="554.00" width="3.43" height="8.9" fill="#ffc0cb"/>
<rect x="370.39" y="554.00" width="3.43" height="8.9" fill="#000000"/>
<rect x="373.78" y="554.00" width="3.43" height="8.9" fill="#ffc0cb"/>
<rect x="377.16" y="554.00" width="20.35" height="8.9" fill="#000000"/>
<rect x="397.46" y="554.00" width="3.43" height="8.9" fill="#ffc0cb"/>
<rect x="400.85" y="554.00" width="13.59" height="8.9" fill="#000000"/>
<rect x="414.38" y="554.00" width="3.43" height="8.9" fill="#ffc0cb"/>
<rect x="417.77" y="554.00" width="3.43" height="8.9" fill="#000000"/>
<text x="67.6" y="560.90" font-size="7.6" text-anchor="end" fill="#111">NGS − Panel</text>
<rect x="69.20" y="563.57" width="3.43" height="8.9" fill="#d15ffa"/>
<rect x="72.58" y="563.57" width="3.43" height="8.9" fill="#bebebe"/>
<rect x="75.97" y="563.57" width="3.43" height="8.9" fill="#ff0000"/>
<rect x="79.35" y="563.57" width="6.82" height="8.9" fill="#bebebe"/>
<rect x="86.12" y="563.57" width="3.43" height="8.9" fill="#943417"/>
<rect x="89.50" y="563.57" width="3.43" height="8.9" fill="#d15ffa"/>
<rect x="92.89" y="563.57" width="3.43" height="8.9" fill="#ff0000"/>
<rect x="96.27" y="563.57" width="3.43" height="8.9" fill="#943417"/>
<rect x="99.66" y="563.57" width="6.82" height="8.9" fill="#bebebe"/>
<rect x="106.42" y="563.57" width="3.43" height="8.9" fill="#943417"/>
<rect x="109.81" y="563.57" width="3.43" height="8.9" fill="#bebebe"/>
<rect x="113.19" y="563.57" width="3.43" height="8.9" fill="#c8301a"/>
<rect x="116.58" y="563.57" width="6.82" height="8.9" fill="#ff0000"/>
<rect x="123.34" y="563.57" width="3.43" height="8.9" fill="#bebebe"/>
<rect x="126.73" y="563.57" width="3.43" height="8.9" fill="#ff0000"/>
<rect x="130.11" y="563.57" width="6.82" height="8.9" fill="#bebebe"/>
<rect x="136.88" y="563.57" width="3.43" height="8.9" fill="#ff0000"/>
<rect x="140.26" y="563.57" width="3.43" height="8.9" fill="#943417"/>
<rect x="143.65" y="563.57" width="3.43" height="8.9" fill="#ff0000"/>
<rect x="147.03" y="563.57" width="3.43" height="8.9" fill="#943417"/>
<rect x="150.42" y="563.57" width="3.43" height="8.9" fill="#ff0000"/>
<rect x="153.80" y="563.57" width="3.43" height="8.9" fill="#943417"/>
<rect x="157.18" y="563.57" width="3.43" height="8.9" fill="#bebebe"/>
<rect x="160.57" y="563.57" width="3.43" height="8.9" fill="#943417"/>
<rect x="163.95" y="563.57" width="3.43" height="8.9" fill="#bebebe"/>
<rect x="167.34" y="563.57" width="3.43" height="8.9" fill="#943417"/>
<rect x="170.72" y="563.57" width="13.59" height="8.9" fill="#bebebe"/>
<path d="M72.58 563.57v8.9M75.97 563.57v8.9M79.35 563.57v8.9M82.74 563.57v8.9M86.12 563.57v8.9M89.50 563.57v8.9M92.89 563.57v8.9M96.27 563.57v8.9M99.66 563.57v8.9M103.04 563.57v8.9M106.42 563.57v8.9M109.81 563.57v8.9M113.19 563.57v8.9M116.58 563.57v8.9M119.96 563.57v8.9M123.34 563.57v8.9M126.73 563.57v8.9M130.11 563.57v8.9M133.50 563.57v8.9M136.88 563.57v8.9M140.26 563.57v8.9M143.65 563.57v8.9M147.03 563.57v8.9M150.42 563.57v8.9M153.80 563.57v8.9M157.18 563.57v8.9M160.57 563.57v8.9M163.95 563.57v8.9M167.34 563.57v8.9M170.72 563.57v8.9M174.10 563.57v8.9M177.49 563.57v8.9M180.87 563.57v8.9" stroke="#fff" stroke-width="0.3" opacity="0.18" fill="none"/>
<rect x="185.96" y="563.57" width="3.43" height="8.9" fill="#ff0000"/>
<rect x="189.34" y="563.57" width="3.43" height="8.9" fill="#943417"/>
<rect x="192.72" y="563.57" width="3.43" height="8.9" fill="#d15ffa"/>
<rect x="196.11" y="563.57" width="3.43" height="8.9" fill="#bebebe"/>
<rect x="199.49" y="563.57" width="3.43" height="8.9" fill="#943417"/>
<rect x="202.88" y="563.57" width="3.43" height="8.9" fill="#ff0000"/>
<rect x="206.26" y="563.57" width="3.43" height="8.9" fill="#943417"/>
<rect x="209.64" y="563.57" width="3.43" height="8.9" fill="#bebebe"/>
<rect x="213.03" y="563.57" width="6.82" height="8.9" fill="#943417"/>
<rect x="219.80" y="563.57" width="10.20" height="8.9" fill="#bebebe"/>
<rect x="229.95" y="563.57" width="3.43" height="8.9" fill="#943417"/>
<rect x="233.33" y="563.57" width="3.43" height="8.9" fill="#bebebe"/>
<rect x="236.72" y="563.57" width="3.43" height="8.9" fill="#943417"/>
<rect x="240.10" y="563.57" width="6.82" height="8.9" fill="#bebebe"/>
<rect x="246.87" y="563.57" width="3.43" height="8.9" fill="#ff0000"/>
<rect x="250.25" y="563.57" width="3.43" height="8.9" fill="#bebebe"/>
<rect x="253.64" y="563.57" width="3.43" height="8.9" fill="#943417"/>
<rect x="257.02" y="563.57" width="6.82" height="8.9" fill="#bebebe"/>
<rect x="263.79" y="563.57" width="3.43" height="8.9" fill="#d15ffa"/>
<rect x="267.17" y="563.57" width="3.43" height="8.9" fill="#bebebe"/>
<rect x="270.56" y="563.57" width="3.43" height="8.9" fill="#ff0000"/>
<rect x="273.94" y="563.57" width="3.43" height="8.9" fill="#d15ffa"/>
<rect x="277.32" y="563.57" width="3.43" height="8.9" fill="#8a55c8"/>
<rect x="280.71" y="563.57" width="3.43" height="8.9" fill="#ff0000"/>
<rect x="284.09" y="563.57" width="10.20" height="8.9" fill="#bebebe"/>
<rect x="294.24" y="563.57" width="3.43" height="8.9" fill="#943417"/>
<rect x="297.63" y="563.57" width="3.43" height="8.9" fill="#36489c"/>
<rect x="301.01" y="563.57" width="3.43" height="8.9" fill="#943417"/>
<rect x="304.40" y="563.57" width="3.43" height="8.9" fill="#ff0000"/>
<rect x="307.78" y="563.57" width="3.43" height="8.9" fill="#943417"/>
<rect x="311.16" y="563.57" width="6.82" height="8.9" fill="#bebebe"/>
<rect x="317.93" y="563.57" width="3.43" height="8.9" fill="#943417"/>
<rect x="321.32" y="563.57" width="3.43" height="8.9" fill="#ff0000"/>
<rect x="324.70" y="563.57" width="13.59" height="8.9" fill="#943417"/>
<rect x="338.24" y="563.57" width="6.82" height="8.9" fill="#bebebe"/>
<rect x="345.00" y="563.57" width="3.43" height="8.9" fill="#36489c"/>
<rect x="348.39" y="563.57" width="3.43" height="8.9" fill="#bebebe"/>
<rect x="351.77" y="563.57" width="6.82" height="8.9" fill="#36489c"/>
<path d="M189.34 563.57v8.9M192.72 563.57v8.9M196.11 563.57v8.9M199.49 563.57v8.9M202.88 563.57v8.9M206.26 563.57v8.9M209.64 563.57v8.9M213.03 563.57v8.9M216.41 563.57v8.9M219.80 563.57v8.9M223.18 563.57v8.9M226.56 563.57v8.9M229.95 563.57v8.9M233.33 563.57v8.9M236.72 563.57v8.9M240.10 563.57v8.9M243.48 563.57v8.9M246.87 563.57v8.9M250.25 563.57v8.9M253.64 563.57v8.9M257.02 563.57v8.9M260.40 563.57v8.9M263.79 563.57v8.9M267.17 563.57v8.9M270.56 563.57v8.9M273.94 563.57v8.9M277.32 563.57v8.9M280.71 563.57v8.9M284.09 563.57v8.9M287.48 563.57v8.9M290.86 563.57v8.9M294.24 563.57v8.9M297.63 563.57v8.9M301.01 563.57v8.9M304.40 563.57v8.9M307.78 563.57v8.9M311.16 563.57v8.9M314.55 563.57v8.9M317.93 563.57v8.9M321.32 563.57v8.9M324.70 563.57v8.9M328.08 563.57v8.9M331.47 563.57v8.9M334.85 563.57v8.9M338.24 563.57v8.9M341.62 563.57v8.9M345.00 563.57v8.9M348.39 563.57v8.9M351.77 563.57v8.9M355.16 563.57v8.9" stroke="#fff" stroke-width="0.3" opacity="0.18" fill="none"/>
<rect x="360.24" y="563.57" width="3.43" height="8.9" fill="#bebebe"/>
<rect x="363.62" y="563.57" width="13.59" height="8.9" fill="#943417"/>
<rect x="377.16" y="563.57" width="3.43" height="8.9" fill="#d15ffa"/>
<rect x="380.54" y="563.57" width="3.43" height="8.9" fill="#ff0000"/>
<rect x="383.93" y="563.57" width="3.43" height="8.9" fill="#bebebe"/>
<rect x="387.31" y="563.57" width="6.82" height="8.9" fill="#943417"/>
<rect x="394.08" y="563.57" width="10.20" height="8.9" fill="#bebebe"/>
<rect x="404.23" y="563.57" width="3.43" height="8.9" fill="#d15ffa"/>
<rect x="407.62" y="563.57" width="13.59" height="8.9" fill="#bebebe"/>
<path d="M363.62 563.57v8.9M367.01 563.57v8.9M370.39 563.57v8.9M373.78 563.57v8.9M377.16 563.57v8.9M380.54 563.57v8.9M383.93 563.57v8.9M387.31 563.57v8.9M390.70 563.57v8.9M394.08 563.57v8.9M397.46 563.57v8.9M400.85 563.57v8.9M404.23 563.57v8.9M407.62 563.57v8.9M411.00 563.57v8.9M414.38 563.57v8.9M417.77 563.57v8.9" stroke="#fff" stroke-width="0.3" opacity="0.18" fill="none"/>
<text x="67.6" y="570.47" font-size="7.6" text-anchor="end" fill="#111">LymphGen</text>
<rect x="69.20" y="573.14" width="6.82" height="8.9" fill="#bebebe"/>
<rect x="75.97" y="573.14" width="6.82" height="8.9" fill="#ff0000"/>
<rect x="82.74" y="573.14" width="6.82" height="8.9" fill="#bebebe"/>
<rect x="89.50" y="573.14" width="3.43" height="8.9" fill="#d15ffa"/>
<rect x="92.89" y="573.14" width="3.43" height="8.9" fill="#943417"/>
<rect x="96.27" y="573.14" width="3.43" height="8.9" fill="#ff0000"/>
<rect x="99.66" y="573.14" width="3.43" height="8.9" fill="#bebebe"/>
<rect x="103.04" y="573.14" width="10.20" height="8.9" fill="#943417"/>
<rect x="113.19" y="573.14" width="10.20" height="8.9" fill="#ff0000"/>
<rect x="123.34" y="573.14" width="3.43" height="8.9" fill="#d15ffa"/>
<rect x="126.73" y="573.14" width="10.20" height="8.9" fill="#943417"/>
<rect x="136.88" y="573.14" width="3.43" height="8.9" fill="#bebebe"/>
<rect x="140.26" y="573.14" width="3.43" height="8.9" fill="#943417"/>
<rect x="143.65" y="573.14" width="3.43" height="8.9" fill="#d15ffa"/>
<rect x="147.03" y="573.14" width="3.43" height="8.9" fill="#943417"/>
<rect x="150.42" y="573.14" width="6.82" height="8.9" fill="#d15ffa"/>
<rect x="157.18" y="573.14" width="3.43" height="8.9" fill="#bebebe"/>
<rect x="160.57" y="573.14" width="10.20" height="8.9" fill="#943417"/>
<rect x="170.72" y="573.14" width="3.43" height="8.9" fill="#d15ffa"/>
<rect x="174.10" y="573.14" width="3.43" height="8.9" fill="#bebebe"/>
<rect x="177.49" y="573.14" width="6.82" height="8.9" fill="#943417"/>
<path d="M72.58 573.14v8.9M75.97 573.14v8.9M79.35 573.14v8.9M82.74 573.14v8.9M86.12 573.14v8.9M89.50 573.14v8.9M92.89 573.14v8.9M96.27 573.14v8.9M99.66 573.14v8.9M103.04 573.14v8.9M106.42 573.14v8.9M109.81 573.14v8.9M113.19 573.14v8.9M116.58 573.14v8.9M119.96 573.14v8.9M123.34 573.14v8.9M126.73 573.14v8.9M130.11 573.14v8.9M133.50 573.14v8.9M136.88 573.14v8.9M140.26 573.14v8.9M143.65 573.14v8.9M147.03 573.14v8.9M150.42 573.14v8.9M153.80 573.14v8.9M157.18 573.14v8.9M160.57 573.14v8.9M163.95 573.14v8.9M167.34 573.14v8.9M170.72 573.14v8.9M174.10 573.14v8.9M177.49 573.14v8.9M180.87 573.14v8.9" stroke="#fff" stroke-width="0.3" opacity="0.18" fill="none"/>
<rect x="185.96" y="573.14" width="6.82" height="8.9" fill="#943417"/>
<rect x="192.72" y="573.14" width="3.43" height="8.9" fill="#d15ffa"/>
<rect x="196.11" y="573.14" width="3.43" height="8.9" fill="#bebebe"/>
<rect x="199.49" y="573.14" width="3.43" height="8.9" fill="#d15ffa"/>
<rect x="202.88" y="573.14" width="6.82" height="8.9" fill="#943417"/>
<rect x="209.64" y="573.14" width="6.82" height="8.9" fill="#bebebe"/>
<rect x="216.41" y="573.14" width="6.82" height="8.9" fill="#d15ffa"/>
<rect x="223.18" y="573.14" width="3.43" height="8.9" fill="#943417"/>
<rect x="226.56" y="573.14" width="3.43" height="8.9" fill="#ff0000"/>
<rect x="229.95" y="573.14" width="3.43" height="8.9" fill="#d15ffa"/>
<rect x="233.33" y="573.14" width="3.43" height="8.9" fill="#bebebe"/>
<rect x="236.72" y="573.14" width="3.43" height="8.9" fill="#d15ffa"/>
<rect x="240.10" y="573.14" width="6.82" height="8.9" fill="#943417"/>
<rect x="246.87" y="573.14" width="3.43" height="8.9" fill="#bebebe"/>
<rect x="250.25" y="573.14" width="6.82" height="8.9" fill="#943417"/>
<rect x="257.02" y="573.14" width="3.43" height="8.9" fill="#d15ffa"/>
<rect x="260.40" y="573.14" width="3.43" height="8.9" fill="#bebebe"/>
<rect x="263.79" y="573.14" width="3.43" height="8.9" fill="#d15ffa"/>
<rect x="267.17" y="573.14" width="6.82" height="8.9" fill="#bebebe"/>
<rect x="273.94" y="573.14" width="3.43" height="8.9" fill="#d15ffa"/>
<rect x="277.32" y="573.14" width="3.43" height="8.9" fill="#36489c"/>
<rect x="280.71" y="573.14" width="3.43" height="8.9" fill="#943417"/>
<rect x="284.09" y="573.14" width="6.82" height="8.9" fill="#bebebe"/>
<rect x="290.86" y="573.14" width="6.82" height="8.9" fill="#943417"/>
<rect x="297.63" y="573.14" width="3.43" height="8.9" fill="#36489c"/>
<rect x="301.01" y="573.14" width="3.43" height="8.9" fill="#d15ffa"/>
<rect x="304.40" y="573.14" width="3.43" height="8.9" fill="#943417"/>
<rect x="307.78" y="573.14" width="3.43" height="8.9" fill="#d15ffa"/>
<rect x="311.16" y="573.14" width="3.43" height="8.9" fill="#bebebe"/>
<rect x="314.55" y="573.14" width="3.43" height="8.9" fill="#943417"/>
<rect x="317.93" y="573.14" width="3.43" height="8.9" fill="#bebebe"/>
<rect x="321.32" y="573.14" width="3.43" height="8.9" fill="#d15ffa"/>
<rect x="324.70" y="573.14" width="3.43" height="8.9" fill="#943417"/>
<rect x="328.08" y="573.14" width="3.43" height="8.9" fill="#bebebe"/>
<rect x="331.47" y="573.14" width="3.43" height="8.9" fill="#d15ffa"/>
<rect x="334.85" y="573.14" width="3.43" height="8.9" fill="#bebebe"/>
<rect x="338.24" y="573.14" width="3.43" height="8.9" fill="#943417"/>
<rect x="341.62" y="573.14" width="3.43" height="8.9" fill="#bebebe"/>
<rect x="345.00" y="573.14" width="3.43" height="8.9" fill="#d15ffa"/>
<rect x="348.39" y="573.14" width="3.43" height="8.9" fill="#6ab02c"/>
<rect x="351.77" y="573.14" width="6.82" height="8.9" fill="#36489c"/>
<path d="M189.34 573.14v8.9M192.72 573.14v8.9M196.11 573.14v8.9M199.49 573.14v8.9M202.88 573.14v8.9M206.26 573.14v8.9M209.64 573.14v8.9M213.03 573.14v8.9M216.41 573.14v8.9M219.80 573.14v8.9M223.18 573.14v8.9M226.56 573.14v8.9M229.95 573.14v8.9M233.33 573.14v8.9M236.72 573.14v8.9M240.10 573.14v8.9M243.48 573.14v8.9M246.87 573.14v8.9M250.25 573.14v8.9M253.64 573.14v8.9M257.02 573.14v8.9M260.40 573.14v8.9M263.79 573.14v8.9M267.17 573.14v8.9M270.56 573.14v8.9M273.94 573.14v8.9M277.32 573.14v8.9M280.71 573.14v8.9M284.09 573.14v8.9M287.48 573.14v8.9M290.86 573.14v8.9M294.24 573.14v8.9M297.63 573.14v8.9M301.01 573.14v8.9M304.40 573.14v8.9M307.78 573.14v8.9M311.16 573.14v8.9M314.55 573.14v8.9M317.93 573.14v8.9M321.32 573.14v8.9M324.70 573.14v8.9M328.08 573.14v8.9M331.47 573.14v8.9M334.85 573.14v8.9M338.24 573.14v8.9M341.62 573.14v8.9M345.00 573.14v8.9M348.39 573.14v8.9M351.77 573.14v8.9M355.16 573.14v8.9" stroke="#fff" stroke-width="0.3" opacity="0.18" fill="none"/>
<rect x="360.24" y="573.14" width="3.43" height="8.9" fill="#943417"/>
<rect x="363.62" y="573.14" width="3.43" height="8.9" fill="#d15ffa"/>
<rect x="367.01" y="573.14" width="3.43" height="8.9" fill="#943417"/>
<rect x="370.39" y="573.14" width="3.43" height="8.9" fill="#d15ffa"/>
<rect x="373.78" y="573.14" width="6.82" height="8.9" fill="#bebebe"/>
<rect x="380.54" y="573.14" width="3.43" height="8.9" fill="#ff0000"/>
<rect x="383.93" y="573.14" width="6.82" height="8.9" fill="#bebebe"/>
<rect x="390.70" y="573.14" width="3.43" height="8.9" fill="#d15ffa"/>
<rect x="394.08" y="573.14" width="3.43" height="8.9" fill="#bebebe"/>
<rect x="397.46" y="573.14" width="3.43" height="8.9" fill="#943417"/>
<rect x="400.85" y="573.14" width="6.82" height="8.9" fill="#d15ffa"/>
<rect x="407.62" y="573.14" width="10.20" height="8.9" fill="#bebebe"/>
<rect x="417.77" y="573.14" width="3.43" height="8.9" fill="#943417"/>
<path d="M363.62 573.14v8.9M367.01 573.14v8.9M370.39 573.14v8.9M373.78 573.14v8.9M377.16 573.14v8.9M380.54 573.14v8.9M383.93 573.14v8.9M387.31 573.14v8.9M390.70 573.14v8.9M394.08 573.14v8.9M397.46 573.14v8.9M400.85 573.14v8.9M404.23 573.14v8.9M407.62 573.14v8.9M411.00 573.14v8.9M414.38 573.14v8.9M417.77 573.14v8.9" stroke="#fff" stroke-width="0.3" opacity="0.18" fill="none"/>
<text x="67.6" y="580.04" font-size="7.6" text-anchor="end" fill="#111">LymphPlex</text>
<rect x="69.20" y="582.71" width="6.82" height="8.9" fill="#bebebe"/>
<rect x="75.97" y="582.71" width="6.82" height="8.9" fill="#ff0000"/>
<rect x="82.74" y="582.71" width="6.82" height="8.9" fill="#bebebe"/>
<rect x="89.50" y="582.71" width="3.43" height="8.9" fill="#d15ffa"/>
<rect x="92.89" y="582.71" width="3.43" height="8.9" fill="#943417"/>
<rect x="96.27" y="582.71" width="3.43" height="8.9" fill="#ff0000"/>
<rect x="99.66" y="582.71" width="3.43" height="8.9" fill="#bebebe"/>
<rect x="103.04" y="582.71" width="6.82" height="8.9" fill="#000000"/>
<rect x="109.81" y="582.71" width="3.43" height="8.9" fill="#943417"/>
<rect x="113.19" y="582.71" width="10.20" height="8.9" fill="#ff0000"/>
<rect x="123.34" y="582.71" width="3.43" height="8.9" fill="#d15ffa"/>
<rect x="126.73" y="582.71" width="10.20" height="8.9" fill="#943417"/>
<rect x="136.88" y="582.71" width="3.43" height="8.9" fill="#bebebe"/>
<rect x="140.26" y="582.71" width="3.43" height="8.9" fill="#943417"/>
<rect x="143.65" y="582.71" width="3.43" height="8.9" fill="#d15ffa"/>
<rect x="147.03" y="582.71" width="3.43" height="8.9" fill="#943417"/>
<rect x="150.42" y="582.71" width="3.43" height="8.9" fill="#000000"/>
<rect x="153.80" y="582.71" width="3.43" height="8.9" fill="#d15ffa"/>
<rect x="157.18" y="582.71" width="3.43" height="8.9" fill="#bebebe"/>
<rect x="160.57" y="582.71" width="3.43" height="8.9" fill="#943417"/>
<rect x="163.95" y="582.71" width="3.43" height="8.9" fill="#000000"/>
<rect x="167.34" y="582.71" width="6.82" height="8.9" fill="#943417"/>
<rect x="174.10" y="582.71" width="3.43" height="8.9" fill="#bebebe"/>
<rect x="177.49" y="582.71" width="6.82" height="8.9" fill="#943417"/>
<path d="M72.58 582.71v8.9M75.97 582.71v8.9M79.35 582.71v8.9M82.74 582.71v8.9M86.12 582.71v8.9M89.50 582.71v8.9M92.89 582.71v8.9M96.27 582.71v8.9M99.66 582.71v8.9M103.04 582.71v8.9M106.42 582.71v8.9M109.81 582.71v8.9M113.19 582.71v8.9M116.58 582.71v8.9M119.96 582.71v8.9M123.34 582.71v8.9M126.73 582.71v8.9M130.11 582.71v8.9M133.50 582.71v8.9M136.88 582.71v8.9M140.26 582.71v8.9M143.65 582.71v8.9M147.03 582.71v8.9M150.42 582.71v8.9M153.80 582.71v8.9M157.18 582.71v8.9M160.57 582.71v8.9M163.95 582.71v8.9M167.34 582.71v8.9M170.72 582.71v8.9M174.10 582.71v8.9M177.49 582.71v8.9M180.87 582.71v8.9" stroke="#fff" stroke-width="0.3" opacity="0.18" fill="none"/>
<rect x="185.96" y="582.71" width="6.82" height="8.9" fill="#943417"/>
<rect x="192.72" y="582.71" width="3.43" height="8.9" fill="#000000"/>
<rect x="196.11" y="582.71" width="3.43" height="8.9" fill="#bebebe"/>
<rect x="199.49" y="582.71" width="3.43" height="8.9" fill="#d15ffa"/>
<rect x="202.88" y="582.71" width="6.82" height="8.9" fill="#943417"/>
<rect x="209.64" y="582.71" width="6.82" height="8.9" fill="#bebebe"/>
<rect x="216.41" y="582.71" width="6.82" height="8.9" fill="#d15ffa"/>
<rect x="223.18" y="582.71" width="3.43" height="8.9" fill="#943417"/>
<rect x="226.56" y="582.71" width="3.43" height="8.9" fill="#ff0000"/>
<rect x="229.95" y="582.71" width="3.43" height="8.9" fill="#d15ffa"/>
<rect x="233.33" y="582.71" width="3.43" height="8.9" fill="#bebebe"/>
<rect x="236.72" y="582.71" width="3.43" height="8.9" fill="#000000"/>
<rect x="240.10" y="582.71" width="6.82" height="8.9" fill="#943417"/>
<rect x="246.87" y="582.71" width="3.43" height="8.9" fill="#bebebe"/>
<rect x="250.25" y="582.71" width="6.82" height="8.9" fill="#943417"/>
<rect x="257.02" y="582.71" width="3.43" height="8.9" fill="#d15ffa"/>
<rect x="260.40" y="582.71" width="3.43" height="8.9" fill="#bebebe"/>
<rect x="263.79" y="582.71" width="3.43" height="8.9" fill="#000000"/>
<rect x="267.17" y="582.71" width="6.82" height="8.9" fill="#bebebe"/>
<rect x="273.94" y="582.71" width="3.43" height="8.9" fill="#d15ffa"/>
<rect x="277.32" y="582.71" width="3.43" height="8.9" fill="#36489c"/>
<rect x="280.71" y="582.71" width="3.43" height="8.9" fill="#943417"/>
<rect x="284.09" y="582.71" width="6.82" height="8.9" fill="#bebebe"/>
<rect x="290.86" y="582.71" width="3.43" height="8.9" fill="#943417"/>
<rect x="294.24" y="582.71" width="3.43" height="8.9" fill="#bebebe"/>
<rect x="297.63" y="582.71" width="3.43" height="8.9" fill="#36489c"/>
<rect x="301.01" y="582.71" width="3.43" height="8.9" fill="#d15ffa"/>
<rect x="304.40" y="582.71" width="3.43" height="8.9" fill="#943417"/>
<rect x="307.78" y="582.71" width="3.43" height="8.9" fill="#d15ffa"/>
<rect x="311.16" y="582.71" width="3.43" height="8.9" fill="#bebebe"/>
<rect x="314.55" y="582.71" width="3.43" height="8.9" fill="#943417"/>
<rect x="317.93" y="582.71" width="3.43" height="8.9" fill="#bebebe"/>
<rect x="321.32" y="582.71" width="3.43" height="8.9" fill="#d15ffa"/>
<rect x="324.70" y="582.71" width="3.43" height="8.9" fill="#943417"/>
<rect x="328.08" y="582.71" width="3.43" height="8.9" fill="#bebebe"/>
<rect x="331.47" y="582.71" width="3.43" height="8.9" fill="#000000"/>
<rect x="334.85" y="582.71" width="3.43" height="8.9" fill="#bebebe"/>
<rect x="338.24" y="582.71" width="3.43" height="8.9" fill="#943417"/>
<rect x="341.62" y="582.71" width="3.43" height="8.9" fill="#bebebe"/>
<rect x="345.00" y="582.71" width="3.43" height="8.9" fill="#d15ffa"/>
<rect x="348.39" y="582.71" width="3.43" height="8.9" fill="#6ab02c"/>
<rect x="351.77" y="582.71" width="6.82" height="8.9" fill="#36489c"/>
<path d="M189.34 582.71v8.9M192.72 582.71v8.9M196.11 582.71v8.9M199.49 582.71v8.9M202.88 582.71v8.9M206.26 582.71v8.9M209.64 582.71v8.9M213.03 582.71v8.9M216.41 582.71v8.9M219.80 582.71v8.9M223.18 582.71v8.9M226.56 582.71v8.9M229.95 582.71v8.9M233.33 582.71v8.9M236.72 582.71v8.9M240.10 582.71v8.9M243.48 582.71v8.9M246.87 582.71v8.9M250.25 582.71v8.9M253.64 582.71v8.9M257.02 582.71v8.9M260.40 582.71v8.9M263.79 582.71v8.9M267.17 582.71v8.9M270.56 582.71v8.9M273.94 582.71v8.9M277.32 582.71v8.9M280.71 582.71v8.9M284.09 582.71v8.9M287.48 582.71v8.9M290.86 582.71v8.9M294.24 582.71v8.9M297.63 582.71v8.9M301.01 582.71v8.9M304.40 582.71v8.9M307.78 582.71v8.9M311.16 582.71v8.9M314.55 582.71v8.9M317.93 582.71v8.9M321.32 582.71v8.9M324.70 582.71v8.9M328.08 582.71v8.9M331.47 582.71v8.9M334.85 582.71v8.9M338.24 582.71v8.9M341.62 582.71v8.9M345.00 582.71v8.9M348.39 582.71v8.9M351.77 582.71v8.9M355.16 582.71v8.9" stroke="#fff" stroke-width="0.3" opacity="0.18" fill="none"/>
<rect x="360.24" y="582.71" width="3.43" height="8.9" fill="#943417"/>
<rect x="363.62" y="582.71" width="3.43" height="8.9" fill="#d15ffa"/>
<rect x="367.01" y="582.71" width="3.43" height="8.9" fill="#000000"/>
<rect x="370.39" y="582.71" width="3.43" height="8.9" fill="#d15ffa"/>
<rect x="373.78" y="582.71" width="6.82" height="8.9" fill="#bebebe"/>
<rect x="380.54" y="582.71" width="3.43" height="8.9" fill="#ff0000"/>
<rect x="383.93" y="582.71" width="6.82" height="8.9" fill="#bebebe"/>
<rect x="390.70" y="582.71" width="3.43" height="8.9" fill="#d15ffa"/>
<rect x="394.08" y="582.71" width="3.43" height="8.9" fill="#bebebe"/>
<rect x="397.46" y="582.71" width="3.43" height="8.9" fill="#000000"/>
<rect x="400.85" y="582.71" width="3.43" height="8.9" fill="#d15ffa"/>
<rect x="404.23" y="582.71" width="3.43" height="8.9" fill="#000000"/>
<rect x="407.62" y="582.71" width="10.20" height="8.9" fill="#bebebe"/>
<rect x="417.77" y="582.71" width="3.43" height="8.9" fill="#943417"/>
<path d="M363.62 582.71v8.9M367.01 582.71v8.9M370.39 582.71v8.9M373.78 582.71v8.9M377.16 582.71v8.9M380.54 582.71v8.9M383.93 582.71v8.9M387.31 582.71v8.9M390.70 582.71v8.9M394.08 582.71v8.9M397.46 582.71v8.9M400.85 582.71v8.9M404.23 582.71v8.9M407.62 582.71v8.9M411.00 582.71v8.9M414.38 582.71v8.9M417.77 582.71v8.9" stroke="#fff" stroke-width="0.3" opacity="0.18" fill="none"/>
<text x="67.6" y="589.61" font-size="7.6" text-anchor="end" fill="#111">LymphPlex (TP53)</text>
<rect x="69.20" y="592.28" width="3.43" height="8.9" fill="#6ab02c"/>
<rect x="72.58" y="592.28" width="3.43" height="8.9" fill="#bebebe"/>
<rect x="75.97" y="592.28" width="6.82" height="8.9" fill="#ff0000"/>
<rect x="82.74" y="592.28" width="3.43" height="8.9" fill="#943417"/>
<rect x="86.12" y="592.28" width="3.43" height="8.9" fill="#ff0000"/>
<rect x="89.50" y="592.28" width="3.43" height="8.9" fill="#d15ffa"/>
<rect x="92.89" y="592.28" width="6.82" height="8.9" fill="#ff0000"/>
<rect x="99.66" y="592.28" width="10.20" height="8.9" fill="#bebebe"/>
<rect x="109.81" y="592.28" width="3.43" height="8.9" fill="#943417"/>
<rect x="113.19" y="592.28" width="3.43" height="8.9" fill="#ff0000"/>
<rect x="116.58" y="592.28" width="3.43" height="8.9" fill="#bebebe"/>
<rect x="119.96" y="592.28" width="3.43" height="8.9" fill="#ff0000"/>
<rect x="123.34" y="592.28" width="3.43" height="8.9" fill="#943417"/>
<rect x="126.73" y="592.28" width="3.43" height="8.9" fill="#d15ffa"/>
<rect x="130.11" y="592.28" width="3.43" height="8.9" fill="#bebebe"/>
<rect x="133.50" y="592.28" width="3.43" height="8.9" fill="#ff0000"/>
<rect x="136.88" y="592.28" width="3.43" height="8.9" fill="#bebebe"/>
<rect x="140.26" y="592.28" width="3.43" height="8.9" fill="#943417"/>
<rect x="143.65" y="592.28" width="3.43" height="8.9" fill="#bebebe"/>
<rect x="147.03" y="592.28" width="6.82" height="8.9" fill="#ff0000"/>
<rect x="153.80" y="592.28" width="3.43" height="8.9" fill="#943417"/>
<rect x="157.18" y="592.28" width="3.43" height="8.9" fill="#bebebe"/>
<rect x="160.57" y="592.28" width="3.43" height="8.9" fill="#943417"/>
<rect x="163.95" y="592.28" width="3.43" height="8.9" fill="#bebebe"/>
<rect x="167.34" y="592.28" width="3.43" height="8.9" fill="#943417"/>
<rect x="170.72" y="592.28" width="3.43" height="8.9" fill="#36489c"/>
<rect x="174.10" y="592.28" width="3.43" height="8.9" fill="#bebebe"/>
<rect x="177.49" y="592.28" width="3.43" height="8.9" fill="#36489c"/>
<rect x="180.87" y="592.28" width="3.43" height="8.9" fill="#bebebe"/>
<path d="M72.58 592.28v8.9M75.97 592.28v8.9M79.35 592.28v8.9M82.74 592.28v8.9M86.12 592.28v8.9M89.50 592.28v8.9M92.89 592.28v8.9M96.27 592.28v8.9M99.66 592.28v8.9M103.04 592.28v8.9M106.42 592.28v8.9M109.81 592.28v8.9M113.19 592.28v8.9M116.58 592.28v8.9M119.96 592.28v8.9M123.34 592.28v8.9M126.73 592.28v8.9M130.11 592.28v8.9M133.50 592.28v8.9M136.88 592.28v8.9M140.26 592.28v8.9M143.65 592.28v8.9M147.03 592.28v8.9M150.42 592.28v8.9M153.80 592.28v8.9M157.18 592.28v8.9M160.57 592.28v8.9M163.95 592.28v8.9M167.34 592.28v8.9M170.72 592.28v8.9M174.10 592.28v8.9M177.49 592.28v8.9M180.87 592.28v8.9" stroke="#fff" stroke-width="0.3" opacity="0.18" fill="none"/>
<rect x="185.96" y="592.28" width="3.43" height="8.9" fill="#6ab02c"/>
<rect x="189.34" y="592.28" width="3.43" height="8.9" fill="#943417"/>
<rect x="192.72" y="592.28" width="3.43" height="8.9" fill="#6ab02c"/>
<rect x="196.11" y="592.28" width="6.82" height="8.9" fill="#943417"/>
<rect x="202.88" y="592.28" width="3.43" height="8.9" fill="#ff0000"/>
<rect x="206.26" y="592.28" width="3.43" height="8.9" fill="#d15ffa"/>
<rect x="209.64" y="592.28" width="3.43" height="8.9" fill="#943417"/>
<rect x="213.03" y="592.28" width="3.43" height="8.9" fill="#ff0000"/>
<rect x="216.41" y="592.28" width="6.82" height="8.9" fill="#943417"/>
<rect x="223.18" y="592.28" width="3.43" height="8.9" fill="#ff0000"/>
<rect x="226.56" y="592.28" width="3.43" height="8.9" fill="#bebebe"/>
<rect x="229.95" y="592.28" width="3.43" height="8.9" fill="#ff0000"/>
<rect x="233.33" y="592.28" width="3.43" height="8.9" fill="#bebebe"/>
<rect x="236.72" y="592.28" width="3.43" height="8.9" fill="#943417"/>
<rect x="240.10" y="592.28" width="3.43" height="8.9" fill="#d15ffa"/>
<rect x="243.48" y="592.28" width="3.43" height="8.9" fill="#bebebe"/>
<rect x="246.87" y="592.28" width="3.43" height="8.9" fill="#943417"/>
<rect x="250.25" y="592.28" width="6.82" height="8.9" fill="#ff0000"/>
<rect x="257.02" y="592.28" width="3.43" height="8.9" fill="#36489c"/>
<rect x="260.40" y="592.28" width="3.43" height="8.9" fill="#bebebe"/>
<rect x="263.79" y="592.28" width="6.82" height="8.9" fill="#943417"/>
<rect x="270.56" y="592.28" width="3.43" height="8.9" fill="#bebebe"/>
<rect x="273.94" y="592.28" width="3.43" height="8.9" fill="#d15ffa"/>
<rect x="277.32" y="592.28" width="3.43" height="8.9" fill="#36489c"/>
<rect x="280.71" y="592.28" width="6.82" height="8.9" fill="#943417"/>
<rect x="287.48" y="592.28" width="3.43" height="8.9" fill="#bebebe"/>
<rect x="290.86" y="592.28" width="3.43" height="8.9" fill="#943417"/>
<rect x="294.24" y="592.28" width="3.43" height="8.9" fill="#bebebe"/>
<rect x="297.63" y="592.28" width="3.43" height="8.9" fill="#36489c"/>
<rect x="301.01" y="592.28" width="3.43" height="8.9" fill="#bebebe"/>
<rect x="304.40" y="592.28" width="3.43" height="8.9" fill="#ff0000"/>
<rect x="307.78" y="592.28" width="3.43" height="8.9" fill="#943417"/>
<rect x="311.16" y="592.28" width="3.43" height="8.9" fill="#36489c"/>
<rect x="314.55" y="592.28" width="3.43" height="8.9" fill="#ff0000"/>
<rect x="317.93" y="592.28" width="3.43" height="8.9" fill="#943417"/>
<rect x="321.32" y="592.28" width="3.43" height="8.9" fill="#ff0000"/>
<rect x="324.70" y="592.28" width="13.59" height="8.9" fill="#943417"/>
<rect x="338.24" y="592.28" width="3.43" height="8.9" fill="#ff0000"/>
<rect x="341.62" y="592.28" width="3.43" height="8.9" fill="#bebebe"/>
<rect x="345.00" y="592.28" width="3.43" height="8.9" fill="#36489c"/>
<rect x="348.39" y="592.28" width="3.43" height="8.9" fill="#6ab02c"/>
<rect x="351.77" y="592.28" width="6.82" height="8.9" fill="#36489c"/>
<path d="M189.34 592.28v8.9M192.72 592.28v8.9M196.11 592.28v8.9M199.49 592.28v8.9M202.88 592.28v8.9M206.26 592.28v8.9M209.64 592.28v8.9M213.03 592.28v8.9M216.41 592.28v8.9M219.80 592.28v8.9M223.18 592.28v8.9M226.56 592.28v8.9M229.95 592.28v8.9M233.33 592.28v8.9M236.72 592.28v8.9M240.10 592.28v8.9M243.48 592.28v8.9M246.87 592.28v8.9M250.25 592.28v8.9M253.64 592.28v8.9M257.02 592.28v8.9M260.40 592.28v8.9M263.79 592.28v8.9M267.17 592.28v8.9M270.56 592.28v8.9M273.94 592.28v8.9M277.32 592.28v8.9M280.71 592.28v8.9M284.09 592.28v8.9M287.48 592.28v8.9M290.86 592.28v8.9M294.24 592.28v8.9M297.63 592.28v8.9M301.01 592.28v8.9M304.40 592.28v8.9M307.78 592.28v8.9M311.16 592.28v8.9M314.55 592.28v8.9M317.93 592.28v8.9M321.32 592.28v8.9M324.70 592.28v8.9M328.08 592.28v8.9M331.47 592.28v8.9M334.85 592.28v8.9M338.24 592.28v8.9M341.62 592.28v8.9M345.00 592.28v8.9M348.39 592.28v8.9M351.77 592.28v8.9M355.16 592.28v8.9" stroke="#fff" stroke-width="0.3" opacity="0.18" fill="none"/>
<rect x="360.24" y="592.28" width="3.43" height="8.9" fill="#bebebe"/>
<rect x="363.62" y="592.28" width="10.20" height="8.9" fill="#943417"/>
<rect x="373.78" y="592.28" width="3.43" height="8.9" fill="#ff0000"/>
<rect x="377.16" y="592.28" width="3.43" height="8.9" fill="#d15ffa"/>
<rect x="380.54" y="592.28" width="6.82" height="8.9" fill="#36489c"/>
<rect x="387.31" y="592.28" width="6.82" height="8.9" fill="#943417"/>
<rect x="394.08" y="592.28" width="6.82" height="8.9" fill="#ff0000"/>
<rect x="400.85" y="592.28" width="6.82" height="8.9" fill="#36489c"/>
<rect x="407.62" y="592.28" width="3.43" height="8.9" fill="#bebebe"/>
<rect x="411.00" y="592.28" width="3.43" height="8.9" fill="#36489c"/>
<rect x="414.38" y="592.28" width="3.43" height="8.9" fill="#bebebe"/>
<rect x="417.77" y="592.28" width="3.43" height="8.9" fill="#36489c"/>
<path d="M363.62 592.28v8.9M367.01 592.28v8.9M370.39 592.28v8.9M373.78 592.28v8.9M377.16 592.28v8.9M380.54 592.28v8.9M383.93 592.28v8.9M387.31 592.28v8.9M390.70 592.28v8.9M394.08 592.28v8.9M397.46 592.28v8.9M400.85 592.28v8.9M404.23 592.28v8.9M407.62 592.28v8.9M411.00 592.28v8.9M414.38 592.28v8.9M417.77 592.28v8.9" stroke="#fff" stroke-width="0.3" opacity="0.18" fill="none"/>
<text x="67.6" y="599.18" font-size="7.6" text-anchor="end" fill="#111">2−step LymphGen</text>
<rect x="69.20" y="601.85" width="20.35" height="8.9" fill="#bebebe"/>
<rect x="89.50" y="601.85" width="3.43" height="8.9" fill="#d15ffa"/>
<rect x="92.89" y="601.85" width="20.35" height="8.9" fill="#bebebe"/>
<rect x="113.19" y="601.85" width="3.43" height="8.9" fill="#943417"/>
<rect x="116.58" y="601.85" width="33.89" height="8.9" fill="#bebebe"/>
<rect x="150.42" y="601.85" width="3.43" height="8.9" fill="#36489c"/>
<rect x="153.80" y="601.85" width="6.82" height="8.9" fill="#bebebe"/>
<rect x="160.57" y="601.85" width="3.43" height="8.9" fill="#943417"/>
<rect x="163.95" y="601.85" width="20.35" height="8.9" fill="#bebebe"/>
<path d="M72.58 601.85v8.9M75.97 601.85v8.9M79.35 601.85v8.9M82.74 601.85v8.9M86.12 601.85v8.9M89.50 601.85v8.9M92.89 601.85v8.9M96.27 601.85v8.9M99.66 601.85v8.9M103.04 601.85v8.9M106.42 601.85v8.9M109.81 601.85v8.9M113.19 601.85v8.9M116.58 601.85v8.9M119.96 601.85v8.9M123.34 601.85v8.9M126.73 601.85v8.9M130.11 601.85v8.9M133.50 601.85v8.9M136.88 601.85v8.9M140.26 601.85v8.9M143.65 601.85v8.9M147.03 601.85v8.9M150.42 601.85v8.9M153.80 601.85v8.9M157.18 601.85v8.9M160.57 601.85v8.9M163.95 601.85v8.9M167.34 601.85v8.9M170.72 601.85v8.9M174.10 601.85v8.9M177.49 601.85v8.9M180.87 601.85v8.9" stroke="#fff" stroke-width="0.3" opacity="0.18" fill="none"/>
<rect x="185.96" y="601.85" width="6.82" height="8.9" fill="#943417"/>
<rect x="192.72" y="601.85" width="3.43" height="8.9" fill="#bebebe"/>
<rect x="196.11" y="601.85" width="6.82" height="8.9" fill="#943417"/>
<rect x="202.88" y="601.85" width="3.43" height="8.9" fill="#bebebe"/>
<rect x="206.26" y="601.85" width="3.43" height="8.9" fill="#943417"/>
<rect x="209.64" y="601.85" width="6.82" height="8.9" fill="#bebebe"/>
<rect x="216.41" y="601.85" width="10.20" height="8.9" fill="#943417"/>
<rect x="226.56" y="601.85" width="3.43" height="8.9" fill="#d15ffa"/>
<rect x="229.95" y="601.85" width="3.43" height="8.9" fill="#943417"/>
<rect x="233.33" y="601.85" width="3.43" height="8.9" fill="#bebebe"/>
<rect x="236.72" y="601.85" width="6.82" height="8.9" fill="#943417"/>
<rect x="243.48" y="601.85" width="10.20" height="8.9" fill="#bebebe"/>
<rect x="253.64" y="601.85" width="3.43" height="8.9" fill="#943417"/>
<rect x="257.02" y="601.85" width="6.82" height="8.9" fill="#bebebe"/>
<rect x="263.79" y="601.85" width="3.43" height="8.9" fill="#d15ffa"/>
<rect x="267.17" y="601.85" width="6.82" height="8.9" fill="#bebebe"/>
<rect x="273.94" y="601.85" width="3.43" height="8.9" fill="#d15ffa"/>
<rect x="277.32" y="601.85" width="3.43" height="8.9" fill="#36489c"/>
<rect x="280.71" y="601.85" width="10.20" height="8.9" fill="#bebebe"/>
<rect x="290.86" y="601.85" width="3.43" height="8.9" fill="#6ab02c"/>
<rect x="294.24" y="601.85" width="3.43" height="8.9" fill="#943417"/>
<rect x="297.63" y="601.85" width="3.43" height="8.9" fill="#36489c"/>
<rect x="301.01" y="601.85" width="30.51" height="8.9" fill="#bebebe"/>
<rect x="331.47" y="601.85" width="3.43" height="8.9" fill="#943417"/>
<rect x="334.85" y="601.85" width="10.20" height="8.9" fill="#bebebe"/>
<rect x="345.00" y="601.85" width="3.43" height="8.9" fill="#36489c"/>
<rect x="348.39" y="601.85" width="3.43" height="8.9" fill="#6ab02c"/>
<rect x="351.77" y="601.85" width="6.82" height="8.9" fill="#36489c"/>
<path d="M189.34 601.85v8.9M192.72 601.85v8.9M196.11 601.85v8.9M199.49 601.85v8.9M202.88 601.85v8.9M206.26 601.85v8.9M209.64 601.85v8.9M213.03 601.85v8.9M216.41 601.85v8.9M219.80 601.85v8.9M223.18 601.85v8.9M226.56 601.85v8.9M229.95 601.85v8.9M233.33 601.85v8.9M236.72 601.85v8.9M240.10 601.85v8.9M243.48 601.85v8.9M246.87 601.85v8.9M250.25 601.85v8.9M253.64 601.85v8.9M257.02 601.85v8.9M260.40 601.85v8.9M263.79 601.85v8.9M267.17 601.85v8.9M270.56 601.85v8.9M273.94 601.85v8.9M277.32 601.85v8.9M280.71 601.85v8.9M284.09 601.85v8.9M287.48 601.85v8.9M290.86 601.85v8.9M294.24 601.85v8.9M297.63 601.85v8.9M301.01 601.85v8.9M304.40 601.85v8.9M307.78 601.85v8.9M311.16 601.85v8.9M314.55 601.85v8.9M317.93 601.85v8.9M321.32 601.85v8.9M324.70 601.85v8.9M328.08 601.85v8.9M331.47 601.85v8.9M334.85 601.85v8.9M338.24 601.85v8.9M341.62 601.85v8.9M345.00 601.85v8.9M348.39 601.85v8.9M351.77 601.85v8.9M355.16 601.85v8.9" stroke="#fff" stroke-width="0.3" opacity="0.18" fill="none"/>
<rect x="360.24" y="601.85" width="3.43" height="8.9" fill="#bebebe"/>
<rect x="363.62" y="601.85" width="10.20" height="8.9" fill="#943417"/>
<rect x="373.78" y="601.85" width="6.82" height="8.9" fill="#bebebe"/>
<rect x="380.54" y="601.85" width="6.82" height="8.9" fill="#36489c"/>
<rect x="387.31" y="601.85" width="13.59" height="8.9" fill="#bebebe"/>
<rect x="400.85" y="601.85" width="3.43" height="8.9" fill="#36489c"/>
<rect x="404.23" y="601.85" width="16.97" height="8.9" fill="#bebebe"/>
<path d="M363.62 601.85v8.9M367.01 601.85v8.9M370.39 601.85v8.9M373.78 601.85v8.9M377.16 601.85v8.9M380.54 601.85v8.9M383.93 601.85v8.9M387.31 601.85v8.9M390.70 601.85v8.9M394.08 601.85v8.9M397.46 601.85v8.9M400.85 601.85v8.9M404.23 601.85v8.9M407.62 601.85v8.9M411.00 601.85v8.9M414.38 601.85v8.9M417.77 601.85v8.9" stroke="#fff" stroke-width="0.3" opacity="0.18" fill="none"/>
<text x="67.6" y="608.75" font-size="7.6" text-anchor="end" fill="#111">Guidance−20</text>
<rect x="69.20" y="611.42" width="115.11" height="8.9" fill="#ff7b00"/>
<path d="M72.58 611.42v8.9M75.97 611.42v8.9M79.35 611.42v8.9M82.74 611.42v8.9M86.12 611.42v8.9M89.50 611.42v8.9M92.89 611.42v8.9M96.27 611.42v8.9M99.66 611.42v8.9M103.04 611.42v8.9M106.42 611.42v8.9M109.81 611.42v8.9M113.19 611.42v8.9M116.58 611.42v8.9M119.96 611.42v8.9M123.34 611.42v8.9M126.73 611.42v8.9M130.11 611.42v8.9M133.50 611.42v8.9M136.88 611.42v8.9M140.26 611.42v8.9M143.65 611.42v8.9M147.03 611.42v8.9M150.42 611.42v8.9M153.80 611.42v8.9M157.18 611.42v8.9M160.57 611.42v8.9M163.95 611.42v8.9M167.34 611.42v8.9M170.72 611.42v8.9M174.10 611.42v8.9M177.49 611.42v8.9M180.87 611.42v8.9" stroke="#fff" stroke-width="0.3" opacity="0.18" fill="none"/>
<rect x="185.96" y="611.42" width="6.82" height="8.9" fill="#ff7b00"/>
<rect x="192.72" y="611.42" width="3.43" height="8.9" fill="#0b9ad8"/>
<rect x="196.11" y="611.42" width="3.43" height="8.9" fill="#ff7b00"/>
<rect x="199.49" y="611.42" width="3.43" height="8.9" fill="#0b9ad8"/>
<rect x="202.88" y="611.42" width="40.66" height="8.9" fill="#ff7b00"/>
<rect x="243.48" y="611.42" width="3.43" height="8.9" fill="#0b9ad8"/>
<rect x="246.87" y="611.42" width="10.20" height="8.9" fill="#ff7b00"/>
<rect x="257.02" y="611.42" width="10.20" height="8.9" fill="#0b9ad8"/>
<rect x="267.17" y="611.42" width="6.82" height="8.9" fill="#ff7b00"/>
<rect x="273.94" y="611.42" width="6.82" height="8.9" fill="#0b9ad8"/>
<rect x="280.71" y="611.42" width="13.59" height="8.9" fill="#ff7b00"/>
<rect x="294.24" y="611.42" width="6.82" height="8.9" fill="#0b9ad8"/>
<rect x="301.01" y="611.42" width="3.43" height="8.9" fill="#bebebe"/>
<rect x="304.40" y="611.42" width="16.97" height="8.9" fill="#ff7b00"/>
<rect x="321.32" y="611.42" width="3.43" height="8.9" fill="#0b9ad8"/>
<rect x="324.70" y="611.42" width="6.82" height="8.9" fill="#ff7b00"/>
<rect x="331.47" y="611.42" width="3.43" height="8.9" fill="#0b9ad8"/>
<rect x="334.85" y="611.42" width="10.20" height="8.9" fill="#ff7b00"/>
<rect x="345.00" y="611.42" width="3.43" height="8.9" fill="#0b9ad8"/>
<rect x="348.39" y="611.42" width="3.43" height="8.9" fill="#ff7b00"/>
<rect x="351.77" y="611.42" width="6.82" height="8.9" fill="#0b9ad8"/>
<path d="M189.34 611.42v8.9M192.72 611.42v8.9M196.11 611.42v8.9M199.49 611.42v8.9M202.88 611.42v8.9M206.26 611.42v8.9M209.64 611.42v8.9M213.03 611.42v8.9M216.41 611.42v8.9M219.80 611.42v8.9M223.18 611.42v8.9M226.56 611.42v8.9M229.95 611.42v8.9M233.33 611.42v8.9M236.72 611.42v8.9M240.10 611.42v8.9M243.48 611.42v8.9M246.87 611.42v8.9M250.25 611.42v8.9M253.64 611.42v8.9M257.02 611.42v8.9M260.40 611.42v8.9M263.79 611.42v8.9M267.17 611.42v8.9M270.56 611.42v8.9M273.94 611.42v8.9M277.32 611.42v8.9M280.71 611.42v8.9M284.09 611.42v8.9M287.48 611.42v8.9M290.86 611.42v8.9M294.24 611.42v8.9M297.63 611.42v8.9M301.01 611.42v8.9M304.40 611.42v8.9M307.78 611.42v8.9M311.16 611.42v8.9M314.55 611.42v8.9M317.93 611.42v8.9M321.32 611.42v8.9M324.70 611.42v8.9M328.08 611.42v8.9M331.47 611.42v8.9M334.85 611.42v8.9M338.24 611.42v8.9M341.62 611.42v8.9M345.00 611.42v8.9M348.39 611.42v8.9M351.77 611.42v8.9M355.16 611.42v8.9" stroke="#fff" stroke-width="0.3" opacity="0.18" fill="none"/>
<rect x="360.24" y="611.42" width="13.59" height="8.9" fill="#ff7b00"/>
<rect x="373.78" y="611.42" width="3.43" height="8.9" fill="#0b9ad8"/>
<rect x="377.16" y="611.42" width="3.43" height="8.9" fill="#ff7b00"/>
<rect x="380.54" y="611.42" width="6.82" height="8.9" fill="#0b9ad8"/>
<rect x="387.31" y="611.42" width="23.74" height="8.9" fill="#ff7b00"/>
<rect x="411.00" y="611.42" width="6.82" height="8.9" fill="#bebebe"/>
<rect x="417.77" y="611.42" width="3.43" height="8.9" fill="#0b9ad8"/>
<path d="M363.62 611.42v8.9M367.01 611.42v8.9M370.39 611.42v8.9M373.78 611.42v8.9M377.16 611.42v8.9M380.54 611.42v8.9M383.93 611.42v8.9M387.31 611.42v8.9M390.70 611.42v8.9M394.08 611.42v8.9M397.46 611.42v8.9M400.85 611.42v8.9M404.23 611.42v8.9M407.62 611.42v8.9M411.00 611.42v8.9M414.38 611.42v8.9M417.77 611.42v8.9" stroke="#fff" stroke-width="0.3" opacity="0.18" fill="none"/>
<text x="67.6" y="618.32" font-size="7.6" text-anchor="end" fill="#111">COO by IHC</text>
<rect x="69.20" y="620.99" width="101.57" height="8.9" fill="#ff7b00"/>
<rect x="170.72" y="620.99" width="3.43" height="8.9" fill="#4e9140"/>
<rect x="174.10" y="620.99" width="10.20" height="8.9" fill="#ff7b00"/>
<path d="M72.58 620.99v8.9M75.97 620.99v8.9M79.35 620.99v8.9M82.74 620.99v8.9M86.12 620.99v8.9M89.50 620.99v8.9M92.89 620.99v8.9M96.27 620.99v8.9M99.66 620.99v8.9M103.04 620.99v8.9M106.42 620.99v8.9M109.81 620.99v8.9M113.19 620.99v8.9M116.58 620.99v8.9M119.96 620.99v8.9M123.34 620.99v8.9M126.73 620.99v8.9M130.11 620.99v8.9M133.50 620.99v8.9M136.88 620.99v8.9M140.26 620.99v8.9M143.65 620.99v8.9M147.03 620.99v8.9M150.42 620.99v8.9M153.80 620.99v8.9M157.18 620.99v8.9M160.57 620.99v8.9M163.95 620.99v8.9M167.34 620.99v8.9M170.72 620.99v8.9M174.10 620.99v8.9M177.49 620.99v8.9M180.87 620.99v8.9" stroke="#fff" stroke-width="0.3" opacity="0.18" fill="none"/>
<rect x="185.96" y="620.99" width="40.66" height="8.9" fill="#ff7b00"/>
<rect x="226.56" y="620.99" width="3.43" height="8.9" fill="#bebebe"/>
<rect x="229.95" y="620.99" width="27.12" height="8.9" fill="#ff7b00"/>
<rect x="257.02" y="620.99" width="3.43" height="8.9" fill="#0b9ad8"/>
<rect x="260.40" y="620.99" width="13.59" height="8.9" fill="#ff7b00"/>
<rect x="273.94" y="620.99" width="3.43" height="8.9" fill="#bebebe"/>
<rect x="277.32" y="620.99" width="20.35" height="8.9" fill="#ff7b00"/>
<rect x="297.63" y="620.99" width="3.43" height="8.9" fill="#0b9ad8"/>
<rect x="301.01" y="620.99" width="27.12" height="8.9" fill="#ff7b00"/>
<rect x="328.08" y="620.99" width="6.82" height="8.9" fill="#bebebe"/>
<rect x="334.85" y="620.99" width="10.20" height="8.9" fill="#ff7b00"/>
<rect x="345.00" y="620.99" width="3.43" height="8.9" fill="#0b9ad8"/>
<rect x="348.39" y="620.99" width="3.43" height="8.9" fill="#ff7b00"/>
<rect x="351.77" y="620.99" width="3.43" height="8.9" fill="#bebebe"/>
<rect x="355.16" y="620.99" width="3.43" height="8.9" fill="#ff7b00"/>
<path d="M189.34 620.99v8.9M192.72 620.99v8.9M196.11 620.99v8.9M199.49 620.99v8.9M202.88 620.99v8.9M206.26 620.99v8.9M209.64 620.99v8.9M213.03 620.99v8.9M216.41 620.99v8.9M219.80 620.99v8.9M223.18 620.99v8.9M226.56 620.99v8.9M229.95 620.99v8.9M233.33 620.99v8.9M236.72 620.99v8.9M240.10 620.99v8.9M243.48 620.99v8.9M246.87 620.99v8.9M250.25 620.99v8.9M253.64 620.99v8.9M257.02 620.99v8.9M260.40 620.99v8.9M263.79 620.99v8.9M267.17 620.99v8.9M270.56 620.99v8.9M273.94 620.99v8.9M277.32 620.99v8.9M280.71 620.99v8.9M284.09 620.99v8.9M287.48 620.99v8.9M290.86 620.99v8.9M294.24 620.99v8.9M297.63 620.99v8.9M301.01 620.99v8.9M304.40 620.99v8.9M307.78 620.99v8.9M311.16 620.99v8.9M314.55 620.99v8.9M317.93 620.99v8.9M321.32 620.99v8.9M324.70 620.99v8.9M328.08 620.99v8.9M331.47 620.99v8.9M334.85 620.99v8.9M338.24 620.99v8.9M341.62 620.99v8.9M345.00 620.99v8.9M348.39 620.99v8.9M351.77 620.99v8.9M355.16 620.99v8.9" stroke="#fff" stroke-width="0.3" opacity="0.18" fill="none"/>
<rect x="360.24" y="620.99" width="13.59" height="8.9" fill="#ff7b00"/>
<rect x="373.78" y="620.99" width="3.43" height="8.9" fill="#bebebe"/>
<rect x="377.16" y="620.99" width="23.74" height="8.9" fill="#ff7b00"/>
<rect x="400.85" y="620.99" width="3.43" height="8.9" fill="#4e9140"/>
<rect x="404.23" y="620.99" width="16.97" height="8.9" fill="#ff7b00"/>
<path d="M363.62 620.99v8.9M367.01 620.99v8.9M370.39 620.99v8.9M373.78 620.99v8.9M377.16 620.99v8.9M380.54 620.99v8.9M383.93 620.99v8.9M387.31 620.99v8.9M390.70 620.99v8.9M394.08 620.99v8.9M397.46 620.99v8.9M400.85 620.99v8.9M404.23 620.99v8.9M407.62 620.99v8.9M411.00 620.99v8.9M414.38 620.99v8.9M417.77 620.99v8.9" stroke="#fff" stroke-width="0.3" opacity="0.18" fill="none"/>
<text x="67.6" y="627.89" font-size="7.6" text-anchor="end" fill="#111">COO by NanoString</text>
<text transform="translate(71.99 632.1) rotate(-90)" font-size="3.2" text-anchor="end" fill="#000">N111</text>
<text transform="translate(75.38 632.1) rotate(-90)" font-size="3.2" text-anchor="end" fill="#000">N148</text>
<text transform="translate(78.76 632.1) rotate(-90)" font-size="3.2" text-anchor="end" fill="#000">185</text>
<text transform="translate(82.14 632.1) rotate(-90)" font-size="3.2" text-anchor="end" fill="#000">N222</text>
<text transform="translate(85.53 632.1) rotate(-90)" font-size="3.2" text-anchor="end" fill="#000">N259</text>
<text transform="translate(88.91 632.1) rotate(-90)" font-size="3.2" text-anchor="end" fill="#000">N296</text>
<text transform="translate(92.30 632.1) rotate(-90)" font-size="3.2" text-anchor="end" fill="#000">333</text>
<text transform="translate(95.68 632.1) rotate(-90)" font-size="3.2" text-anchor="end" fill="#000">370</text>
<text transform="translate(99.06 632.1) rotate(-90)" font-size="3.2" text-anchor="end" fill="#000">407</text>
<text transform="translate(102.45 632.1) rotate(-90)" font-size="3.2" text-anchor="end" fill="#000">N444</text>
<text transform="translate(105.83 632.1) rotate(-90)" font-size="3.2" text-anchor="end" fill="#000">N481</text>
<text transform="translate(109.22 632.1) rotate(-90)" font-size="3.2" text-anchor="end" fill="#000">N518</text>
<text transform="translate(112.60 632.1) rotate(-90)" font-size="3.2" text-anchor="end" fill="#000">555</text>
<text transform="translate(115.98 632.1) rotate(-90)" font-size="3.2" text-anchor="end" fill="#000">N592</text>
<text transform="translate(119.37 632.1) rotate(-90)" font-size="3.2" text-anchor="end" fill="#000">N629</text>
<text transform="translate(122.75 632.1) rotate(-90)" font-size="3.2" text-anchor="end" fill="#000">N666</text>
<text transform="translate(126.14 632.1) rotate(-90)" font-size="3.2" text-anchor="end" fill="#000">N703</text>
<text transform="translate(129.52 632.1) rotate(-90)" font-size="3.2" text-anchor="end" fill="#000">N740</text>
<text transform="translate(132.90 632.1) rotate(-90)" font-size="3.2" text-anchor="end" fill="#000">N777</text>
<text transform="translate(136.29 632.1) rotate(-90)" font-size="3.2" text-anchor="end" fill="#000">814</text>
<text transform="translate(139.67 632.1) rotate(-90)" font-size="3.2" text-anchor="end" fill="#000">N851</text>
<text transform="translate(143.06 632.1) rotate(-90)" font-size="3.2" text-anchor="end" fill="#000">N888</text>
<text transform="translate(146.44 632.1) rotate(-90)" font-size="3.2" text-anchor="end" fill="#000">925</text>
<text transform="translate(149.82 632.1) rotate(-90)" font-size="3.2" text-anchor="end" fill="#000">N962</text>
<text transform="translate(153.21 632.1) rotate(-90)" font-size="3.2" text-anchor="end" fill="#000">N999</text>
<text transform="translate(156.59 632.1) rotate(-90)" font-size="3.2" text-anchor="end" fill="#000">N136</text>
<text transform="translate(159.98 632.1) rotate(-90)" font-size="3.2" text-anchor="end" fill="#000">N173</text>
<text transform="translate(163.36 632.1) rotate(-90)" font-size="3.2" text-anchor="end" fill="#000">N210</text>
<text transform="translate(166.74 632.1) rotate(-90)" font-size="3.2" text-anchor="end" fill="#000">N247</text>
<text transform="translate(170.13 632.1) rotate(-90)" font-size="3.2" text-anchor="end" fill="#000">N284</text>
<text transform="translate(173.51 632.1) rotate(-90)" font-size="3.2" text-anchor="end" fill="#000">321</text>
<text transform="translate(176.90 632.1) rotate(-90)" font-size="3.2" text-anchor="end" fill="#000">N358</text>
<text transform="translate(180.28 632.1) rotate(-90)" font-size="3.2" text-anchor="end" fill="#000">N395</text>
<text transform="translate(183.66 632.1) rotate(-90)" font-size="3.2" text-anchor="end" fill="#000">N432</text>
<text transform="translate(188.75 632.1) rotate(-90)" font-size="3.2" text-anchor="end" fill="#000">B111</text>
<text transform="translate(192.13 632.1) rotate(-90)" font-size="3.2" text-anchor="end" fill="#000">B148</text>
<text transform="translate(195.52 632.1) rotate(-90)" font-size="3.2" text-anchor="end" fill="#000">B185</text>
<text transform="translate(198.90 632.1) rotate(-90)" font-size="3.2" text-anchor="end" fill="#000">B222</text>
<text transform="translate(202.28 632.1) rotate(-90)" font-size="3.2" text-anchor="end" fill="#000">B259</text>
<text transform="translate(205.67 632.1) rotate(-90)" font-size="3.2" text-anchor="end" fill="#000">B296</text>
<text transform="translate(209.05 632.1) rotate(-90)" font-size="3.2" text-anchor="end" fill="#000">333</text>
<text transform="translate(212.44 632.1) rotate(-90)" font-size="3.2" text-anchor="end" fill="#000">B370</text>
<text transform="translate(215.82 632.1) rotate(-90)" font-size="3.2" text-anchor="end" fill="#000">B407</text>
<text transform="translate(219.20 632.1) rotate(-90)" font-size="3.2" text-anchor="end" fill="#000">444</text>
<text transform="translate(222.59 632.1) rotate(-90)" font-size="3.2" text-anchor="end" fill="#000">B481</text>
<text transform="translate(225.97 632.1) rotate(-90)" font-size="3.2" text-anchor="end" fill="#000">B518</text>
<text transform="translate(229.36 632.1) rotate(-90)" font-size="3.2" text-anchor="end" fill="#000">B555</text>
<text transform="translate(232.74 632.1) rotate(-90)" font-size="3.2" text-anchor="end" fill="#000">B592</text>
<text transform="translate(236.12 632.1) rotate(-90)" font-size="3.2" text-anchor="end" fill="#000">B629</text>
<text transform="translate(239.51 632.1) rotate(-90)" font-size="3.2" text-anchor="end" fill="#000">B666</text>
<text transform="translate(242.89 632.1) rotate(-90)" font-size="3.2" text-anchor="end" fill="#000">B703</text>
<text transform="translate(246.28 632.1) rotate(-90)" font-size="3.2" text-anchor="end" fill="#000">B740</text>
<text transform="translate(249.66 632.1) rotate(-90)" font-size="3.2" text-anchor="end" fill="#000">B777</text>
<text transform="translate(253.04 632.1) rotate(-90)" font-size="3.2" text-anchor="end" fill="#000">B814</text>
<text transform="translate(256.43 632.1) rotate(-90)" font-size="3.2" text-anchor="end" fill="#000">B851</text>
<text transform="translate(259.81 632.1) rotate(-90)" font-size="3.2" text-anchor="end" fill="#000">B888</text>
<text transform="translate(263.20 632.1) rotate(-90)" font-size="3.2" text-anchor="end" fill="#000">B925</text>
<text transform="translate(266.58 632.1) rotate(-90)" font-size="3.2" text-anchor="end" fill="#000">B962</text>
<text transform="translate(269.96 632.1) rotate(-90)" font-size="3.2" text-anchor="end" fill="#000">B999</text>
<text transform="translate(273.35 632.1) rotate(-90)" font-size="3.2" text-anchor="end" fill="#000">136</text>
<text transform="translate(276.73 632.1) rotate(-90)" font-size="3.2" text-anchor="end" fill="#000">173</text>
<text transform="translate(280.12 632.1) rotate(-90)" font-size="3.2" text-anchor="end" fill="#000">210</text>
<text transform="translate(283.50 632.1) rotate(-90)" font-size="3.2" text-anchor="end" fill="#000">B247</text>
<text transform="translate(286.88 632.1) rotate(-90)" font-size="3.2" text-anchor="end" fill="#000">B284</text>
<text transform="translate(290.27 632.1) rotate(-90)" font-size="3.2" text-anchor="end" fill="#000">B321</text>
<text transform="translate(293.65 632.1) rotate(-90)" font-size="3.2" text-anchor="end" fill="#000">B358</text>
<text transform="translate(297.04 632.1) rotate(-90)" font-size="3.2" text-anchor="end" fill="#000">B395</text>
<text transform="translate(300.42 632.1) rotate(-90)" font-size="3.2" text-anchor="end" fill="#000">B432</text>
<text transform="translate(303.80 632.1) rotate(-90)" font-size="3.2" text-anchor="end" fill="#000">B469</text>
<text transform="translate(307.19 632.1) rotate(-90)" font-size="3.2" text-anchor="end" fill="#000">B506</text>
<text transform="translate(310.57 632.1) rotate(-90)" font-size="3.2" text-anchor="end" fill="#000">543</text>
<text transform="translate(313.96 632.1) rotate(-90)" font-size="3.2" text-anchor="end" fill="#000">B580</text>
<text transform="translate(317.34 632.1) rotate(-90)" font-size="3.2" text-anchor="end" fill="#000">B617</text>
<text transform="translate(320.72 632.1) rotate(-90)" font-size="3.2" text-anchor="end" fill="#000">B654</text>
<text transform="translate(324.11 632.1) rotate(-90)" font-size="3.2" text-anchor="end" fill="#000">B691</text>
<text transform="translate(327.49 632.1) rotate(-90)" font-size="3.2" text-anchor="end" fill="#000">B728</text>
<text transform="translate(330.88 632.1) rotate(-90)" font-size="3.2" text-anchor="end" fill="#000">B765</text>
<text transform="translate(334.26 632.1) rotate(-90)" font-size="3.2" text-anchor="end" fill="#000">B802</text>
<text transform="translate(337.64 632.1) rotate(-90)" font-size="3.2" text-anchor="end" fill="#000">B839</text>
<text transform="translate(341.03 632.1) rotate(-90)" font-size="3.2" text-anchor="end" fill="#000">B876</text>
<text transform="translate(344.41 632.1) rotate(-90)" font-size="3.2" text-anchor="end" fill="#000">B913</text>
<text transform="translate(347.80 632.1) rotate(-90)" font-size="3.2" text-anchor="end" fill="#000">B950</text>
<text transform="translate(351.18 632.1) rotate(-90)" font-size="3.2" text-anchor="end" fill="#000">B987</text>
<text transform="translate(354.56 632.1) rotate(-90)" font-size="3.2" text-anchor="end" fill="#000">124</text>
<text transform="translate(357.95 632.1) rotate(-90)" font-size="3.2" text-anchor="end" fill="#000">161</text>
<text transform="translate(363.03 632.1) rotate(-90)" font-size="3.2" text-anchor="end" fill="#000">P111</text>
<text transform="translate(366.42 632.1) rotate(-90)" font-size="3.2" text-anchor="end" fill="#000">P148</text>
<text transform="translate(369.80 632.1) rotate(-90)" font-size="3.2" text-anchor="end" fill="#000">P185</text>
<text transform="translate(373.18 632.1) rotate(-90)" font-size="3.2" text-anchor="end" fill="#000">P222</text>
<text transform="translate(376.57 632.1) rotate(-90)" font-size="3.2" text-anchor="end" fill="#000">P259</text>
<text transform="translate(379.95 632.1) rotate(-90)" font-size="3.2" text-anchor="end" fill="#000">296</text>
<text transform="translate(383.34 632.1) rotate(-90)" font-size="3.2" text-anchor="end" fill="#000">P333</text>
<text transform="translate(386.72 632.1) rotate(-90)" font-size="3.2" text-anchor="end" fill="#000">P370</text>
<text transform="translate(390.10 632.1) rotate(-90)" font-size="3.2" text-anchor="end" fill="#000">P407</text>
<text transform="translate(393.49 632.1) rotate(-90)" font-size="3.2" text-anchor="end" fill="#000">P444</text>
<text transform="translate(396.87 632.1) rotate(-90)" font-size="3.2" text-anchor="end" fill="#000">481</text>
<text transform="translate(400.26 632.1) rotate(-90)" font-size="3.2" text-anchor="end" fill="#000">518</text>
<text transform="translate(403.64 632.1) rotate(-90)" font-size="3.2" text-anchor="end" fill="#000">P555</text>
<text transform="translate(407.02 632.1) rotate(-90)" font-size="3.2" text-anchor="end" fill="#000">592</text>
<text transform="translate(410.41 632.1) rotate(-90)" font-size="3.2" text-anchor="end" fill="#000">P629</text>
<text transform="translate(413.79 632.1) rotate(-90)" font-size="3.2" text-anchor="end" fill="#000">P666</text>
<text transform="translate(417.18 632.1) rotate(-90)" font-size="3.2" text-anchor="end" fill="#000">703</text>
<text transform="translate(420.56 632.1) rotate(-90)" font-size="3.2" text-anchor="end" fill="#000">P740</text>
<text x="479.3" y="196.80" font-size="6.35" font-weight="bold" fill="#111">Alterations</text>
<rect x="479.3" y="201.00" width="6.6" height="6.6" fill="#f1f1f1"/><rect x="479.30" y="201.35" width="6.6" height="5.9" fill="#60d068"/>
<text x="488.00" y="206.40" font-size="6.33" fill="#111">Nonsynonymous</text>
<rect x="479.3" y="208.10" width="6.6" height="6.6" fill="#f1f1f1"/><rect x="479.85" y="208.45" width="5.5" height="5.9" fill="#c84a03"/>
<text x="488.00" y="213.50" font-size="6.33" fill="#111">Stopgain</text>
<rect x="479.3" y="215.30" width="6.6" height="6.6" fill="#f1f1f1"/><rect x="479.30" y="216.45" width="6.6" height="4.3" fill="#dba652"/>
<text x="488.00" y="220.70" font-size="6.33" fill="#111">Splice−site</text>
<rect x="479.3" y="222.40" width="6.6" height="6.6" fill="#f1f1f1"/><rect x="479.30" y="225.10" width="6.6" height="1.2" fill="#7d6b3d"/>
<text x="488.00" y="227.80" font-size="6.33" fill="#111">Hotspot</text>
<rect x="479.3" y="229.70" width="6.6" height="6.6" fill="#f1f1f1"/><rect x="480.10" y="230.15" width="5.0" height="5.7" fill="#7aa9bb"/>
<text x="488.00" y="235.10" font-size="6.33" fill="#111">Frameshift</text>
<rect x="479.3" y="237.10" width="6.6" height="6.6" fill="#f1f1f1"/><rect x="481.00" y="237.45" width="3.2" height="5.9" fill="#a03c96"/>
<text x="488.00" y="242.50" font-size="6.33" fill="#111">Synonymous</text>
<rect x="479.3" y="244.20" width="6.6" height="6.6" fill="#f1f1f1"/><rect x="481.00" y="244.55" width="3.2" height="5.9" fill="#006400"/>
<text x="488.00" y="249.60" font-size="6.33" fill="#111">Rearrangement</text>
<rect x="479.3" y="251.50" width="6.6" height="6.6" fill="#f1f1f1"/><rect x="482.00" y="251.85" width="1.2" height="5.9" fill="#08202f"/>
<text x="488.00" y="256.90" font-size="6.33" fill="#111">Gain</text>
<rect x="479.3" y="258.60" width="6.6" height="6.6" fill="#f1f1f1"/><rect x="482.00" y="258.95" width="1.2" height="5.9" fill="#ffaaaa"/>
<text x="488.00" y="264.00" font-size="6.33" fill="#111">Loss</text>
<text x="479.3" y="277.10" font-size="6.35" font-weight="bold" fill="#111">NGS Panel</text>
<rect x="479.3" y="280.90" width="6.6" height="6.6" fill="#000"/>
<text x="488.00" y="286.30" font-size="6.33" fill="#111">BLYMFv2</text>
<rect x="479.3" y="288.30" width="6.6" height="6.6" fill="#ffc0cb"/>
<text x="488.00" y="293.70" font-size="6.33" fill="#111">LYMFv1</text>
<text x="479.3" y="307.00" font-size="6.35" font-weight="bold" fill="#111">(2−step) LymphGen</text>
<rect x="479.3" y="310.80" width="6.6" height="6.6" fill="#36489c"/>
<text x="488.00" y="316.20" font-size="6.33" fill="#111">MCD</text>
<rect x="479.3" y="318.00" width="6.6" height="6.6" fill="#d15ffa"/>
<text x="488.00" y="323.40" font-size="6.33" fill="#111">BN2</text>
<rect x="479.3" y="325.20" width="6.6" height="6.6" fill="#6ab02c"/>
<text x="488.00" y="330.60" font-size="6.33" fill="#111">N1</text>
<rect x="479.3" y="332.30" width="6.6" height="6.6" fill="#943417"/>
<text x="488.00" y="337.70" font-size="6.33" fill="#111">EZB</text>
<rect x="479.3" y="339.50" width="6.6" height="6.6" fill="#ff0000"/>
<text x="488.00" y="344.90" font-size="6.33" fill="#111">ST2</text>
<rect x="479.3" y="346.70" width="6.6" height="6.6" fill="#c8301a"/>
<text x="488.00" y="352.10" font-size="6.33" fill="#111">EZB/ST2</text>
<rect x="479.3" y="353.90" width="6.6" height="6.6" fill="#8a55c8"/>
<text x="488.00" y="359.30" font-size="6.33" fill="#111">BN2/MCD</text>
<rect x="479.3" y="361.10" width="6.6" height="6.6" fill="#bebebe"/>
<text x="488.00" y="366.50" font-size="6.33" fill="#111">Other</text>
<text x="479.3" y="379.80" font-size="6.35" font-weight="bold" fill="#111">Cell−of−origin by Hans</text>
<rect x="479.3" y="383.60" width="6.6" height="6.6" fill="#ff7b00"/>
<text x="488.00" y="389.00" font-size="6.33" fill="#111">GCB</text>
<rect x="479.3" y="390.90" width="6.6" height="6.6" fill="#0b9ad8"/>
<text x="488.00" y="396.30" font-size="6.33" fill="#111">Non−GCB</text>
<rect x="479.3" y="398.10" width="6.6" height="6.6" fill="#bebebe"/>
<text x="488.00" y="403.50" font-size="6.33" fill="#111">Not assessed</text>
<text x="479.3" y="416.90" font-size="6.35" font-weight="bold" fill="#111">Cell−of−origin by Lymph2Cx</text>
<rect x="479.3" y="420.70" width="6.6" height="6.6" fill="#ff7b00"/>
<text x="488.00" y="426.10" font-size="6.33" fill="#111">GCB</text>
<rect x="479.3" y="428.00" width="6.6" height="6.6" fill="#0b9ad8"/>
<text x="488.00" y="433.40" font-size="6.33" fill="#111">ABC</text>
<rect x="479.3" y="435.20" width="6.6" height="6.6" fill="#4e9140"/>
<text x="488.00" y="440.60" font-size="6.33" fill="#111">Intermediate/Unclassifiable</text>
<rect x="479.3" y="442.40" width="6.6" height="6.6" fill="#bebebe"/>
<text x="488.00" y="447.80" font-size="6.33" fill="#111">Not assessed</text>
<path d="M604.7 58.6V553.3H679" stroke="#444" stroke-width="1.1" fill="none"/>
<rect x="607.40" y="60.80" width="9.16" height="16.6" fill="#c96a4b"/>
<rect x="616.56" y="60.80" width="34.35" height="16.6" fill="#78a358"/>
<rect x="650.91" y="60.80" width="9.16" height="16.6" fill="#a66db9"/>
<path d="M602.6 69.10H604.7" stroke="#333" stroke-width="0.7"/>
<text x="601.6" y="71.10" font-size="5.8" font-style="italic" text-anchor="end" fill="#444">TNFRSF14</text>
<rect x="607.40" y="79.01" width="13.74" height="16.6" fill="#c96a4b"/>
<rect x="621.14" y="79.01" width="29.77" height="16.6" fill="#78a358"/>
<rect x="650.91" y="79.01" width="9.16" height="16.6" fill="#a66db9"/>
<path d="M602.6 87.31H604.7" stroke="#333" stroke-width="0.7"/>
<text x="601.6" y="89.31" font-size="5.8" font-style="italic" text-anchor="end" fill="#444">BCL6</text>
<rect x="607.40" y="97.22" width="13.74" height="16.6" fill="#c96a4b"/>
<rect x="621.14" y="97.22" width="34.35" height="16.6" fill="#78a358"/>
<rect x="655.49" y="97.22" width="2.29" height="16.6" fill="#a66db9"/>
<path d="M602.6 105.52H604.7" stroke="#333" stroke-width="0.7"/>
<text x="601.6" y="107.52" font-size="5.8" font-style="italic" text-anchor="end" fill="#444">B2M</text>
<rect x="607.40" y="115.43" width="13.74" height="16.6" fill="#c96a4b"/>
<rect x="621.14" y="115.43" width="22.90" height="16.6" fill="#78a358"/>
<rect x="644.04" y="115.43" width="9.16" height="16.6" fill="#a66db9"/>
<path d="M602.6 123.73H604.7" stroke="#333" stroke-width="0.7"/>
<text x="601.6" y="125.73" font-size="5.8" font-style="italic" text-anchor="end" fill="#444">KLHL6</text>
<rect x="607.40" y="133.64" width="25.19" height="16.6" fill="#c96a4b"/>
<rect x="632.59" y="133.64" width="18.32" height="16.6" fill="#78a358"/>
<rect x="650.91" y="133.64" width="2.29" height="16.6" fill="#a66db9"/>
<path d="M602.6 141.94H604.7" stroke="#333" stroke-width="0.7"/>
<text x="601.6" y="143.94" font-size="5.8" font-style="italic" text-anchor="end" fill="#444">HIST1H1E</text>
<rect x="607.40" y="151.85" width="22.90" height="16.6" fill="#c96a4b"/>
<rect x="630.30" y="151.85" width="13.74" height="16.6" fill="#78a358"/>
<rect x="644.04" y="151.85" width="9.16" height="16.6" fill="#a66db9"/>
<path d="M602.6 160.15H604.7" stroke="#333" stroke-width="0.7"/>
<text x="601.6" y="162.15" font-size="5.8" font-style="italic" text-anchor="end" fill="#444">SGK1</text>
<rect x="607.40" y="170.06" width="16.03" height="16.6" fill="#c96a4b"/>
<rect x="623.43" y="170.06" width="22.90" height="16.6" fill="#78a358"/>
<rect x="646.33" y="170.06" width="4.58" height="16.6" fill="#a66db9"/>
<path d="M602.6 178.36H604.7" stroke="#333" stroke-width="0.7"/>
<text x="601.6" y="180.36" font-size="5.8" font-style="italic" text-anchor="end" fill="#444">SOCS1</text>
<rect x="607.40" y="188.27" width="11.45" height="16.6" fill="#c96a4b"/>
<rect x="618.85" y="188.27" width="18.32" height="16.6" fill="#78a358"/>
<rect x="637.17" y="188.27" width="9.16" height="16.6" fill="#a66db9"/>
<path d="M602.6 196.57H604.7" stroke="#333" stroke-width="0.7"/>
<text x="601.6" y="198.57" font-size="5.8" font-style="italic" text-anchor="end" fill="#444">CARD11</text>
<rect x="607.40" y="206.48" width="2.29" height="16.6" fill="#c96a4b"/>
<rect x="609.69" y="206.48" width="27.48" height="16.6" fill="#78a358"/>
<rect x="637.17" y="206.48" width="9.16" height="16.6" fill="#a66db9"/>
<path d="M602.6 214.78H604.7" stroke="#333" stroke-width="0.7"/>
<text x="601.6" y="216.78" font-size="5.8" font-style="italic" text-anchor="end" fill="#444">EZH2</text>
<rect x="607.40" y="224.69" width="6.87" height="16.6" fill="#c96a4b"/>
<rect x="614.27" y="224.69" width="20.61" height="16.6" fill="#78a358"/>
<rect x="634.88" y="224.69" width="9.16" height="16.6" fill="#a66db9"/>
<path d="M602.6 232.99H604.7" stroke="#333" stroke-width="0.7"/>
<text x="601.6" y="234.99" font-size="5.8" font-style="italic" text-anchor="end" fill="#444">KMT2D</text>
<rect x="607.40" y="242.90" width="4.58" height="16.6" fill="#c96a4b"/>
<rect x="611.98" y="242.90" width="32.06" height="16.6" fill="#78a358"/>
<path d="M602.6 251.20H604.7" stroke="#333" stroke-width="0.7"/>
<text x="601.6" y="253.20" font-size="5.8" font-style="italic" text-anchor="end" fill="#444">IRF8</text>
<rect x="607.40" y="261.11" width="16.03" height="16.6" fill="#c96a4b"/>
<rect x="623.43" y="261.11" width="18.32" height="16.6" fill="#78a358"/>
<path d="M602.6 269.41H604.7" stroke="#333" stroke-width="0.7"/>
<text x="601.6" y="271.41" font-size="5.8" font-style="italic" text-anchor="end" fill="#444">STAT3</text>
<rect x="607.40" y="279.32" width="6.87" height="16.6" fill="#c96a4b"/>
<rect x="614.27" y="279.32" width="22.90" height="16.6" fill="#78a358"/>
<rect x="637.17" y="279.32" width="4.58" height="16.6" fill="#a66db9"/>
<path d="M602.6 287.62H604.7" stroke="#333" stroke-width="0.7"/>
<text x="601.6" y="289.62" font-size="5.8" font-style="italic" text-anchor="end" fill="#444">ACTB</text>
<rect x="607.40" y="297.53" width="11.45" height="16.6" fill="#c96a4b"/>
<rect x="618.85" y="297.53" width="11.45" height="16.6" fill="#78a358"/>
<rect x="630.30" y="297.53" width="9.16" height="16.6" fill="#a66db9"/>
<path d="M602.6 305.83H604.7" stroke="#333" stroke-width="0.7"/>
<text x="601.6" y="307.83" font-size="5.8" font-style="italic" text-anchor="end" fill="#444">CREBBP</text>
<rect x="607.40" y="315.74" width="13.74" height="16.6" fill="#c96a4b"/>
<rect x="621.14" y="315.74" width="11.45" height="16.6" fill="#78a358"/>
<rect x="632.59" y="315.74" width="6.87" height="16.6" fill="#a66db9"/>
<path d="M602.6 324.04H604.7" stroke="#333" stroke-width="0.7"/>
<text x="601.6" y="326.04" font-size="5.8" font-style="italic" text-anchor="end" fill="#444">TP53</text>
<rect x="607.40" y="333.95" width="13.74" height="16.6" fill="#c96a4b"/>
<rect x="621.14" y="333.95" width="13.74" height="16.6" fill="#78a358"/>
<rect x="634.88" y="333.95" width="4.58" height="16.6" fill="#a66db9"/>
<path d="M602.6 342.25H604.7" stroke="#333" stroke-width="0.7"/>
<text x="601.6" y="344.25" font-size="5.8" font-style="italic" text-anchor="end" fill="#444">GNA13</text>
<rect x="607.40" y="352.16" width="2.29" height="16.6" fill="#c96a4b"/>
<rect x="609.69" y="352.16" width="20.61" height="16.6" fill="#78a358"/>
<rect x="630.30" y="352.16" width="4.58" height="16.6" fill="#a66db9"/>
<path d="M602.6 360.46H604.7" stroke="#333" stroke-width="0.7"/>
<text x="601.6" y="362.46" font-size="5.8" font-style="italic" text-anchor="end" fill="#444">BTG1</text>
<rect x="607.40" y="370.37" width="11.45" height="16.6" fill="#c96a4b"/>
<rect x="618.85" y="370.37" width="13.74" height="16.6" fill="#78a358"/>
<rect x="632.59" y="370.37" width="2.29" height="16.6" fill="#a66db9"/>
<path d="M602.6 378.67H604.7" stroke="#333" stroke-width="0.7"/>
<text x="601.6" y="380.67" font-size="5.8" font-style="italic" text-anchor="end" fill="#444">IGLL5</text>
<rect x="607.40" y="388.58" width="2.29" height="16.6" fill="#c96a4b"/>
<rect x="609.69" y="388.58" width="20.61" height="16.6" fill="#78a358"/>
<rect x="630.30" y="388.58" width="4.58" height="16.6" fill="#a66db9"/>
<path d="M602.6 396.88H604.7" stroke="#333" stroke-width="0.7"/>
<text x="601.6" y="398.88" font-size="5.8" font-style="italic" text-anchor="end" fill="#444">S1PR2</text>
<rect x="607.40" y="406.79" width="16.03" height="16.6" fill="#c96a4b"/>
<rect x="623.43" y="406.79" width="4.58" height="16.6" fill="#78a358"/>
<rect x="628.01" y="406.79" width="4.58" height="16.6" fill="#a66db9"/>
<path d="M602.6 415.09H604.7" stroke="#333" stroke-width="0.7"/>
<text x="601.6" y="417.09" font-size="5.8" font-style="italic" text-anchor="end" fill="#444">MYC</text>
<rect x="607.40" y="425.00" width="4.58" height="16.6" fill="#c96a4b"/>
<rect x="611.98" y="425.00" width="18.32" height="16.6" fill="#78a358"/>
<rect x="630.30" y="425.00" width="2.29" height="16.6" fill="#a66db9"/>
<path d="M602.6 433.30H604.7" stroke="#333" stroke-width="0.7"/>
<text x="601.6" y="435.30" font-size="5.8" font-style="italic" text-anchor="end" fill="#444">CDKN2A</text>
<rect x="607.40" y="443.21" width="9.16" height="16.6" fill="#c96a4b"/>
<rect x="616.56" y="443.21" width="11.45" height="16.6" fill="#78a358"/>
<rect x="628.01" y="443.21" width="4.58" height="16.6" fill="#a66db9"/>
<path d="M602.6 451.51H604.7" stroke="#333" stroke-width="0.7"/>
<text x="601.6" y="453.51" font-size="5.8" font-style="italic" text-anchor="end" fill="#444">ARID1B</text>
<rect x="607.40" y="461.42" width="9.16" height="16.6" fill="#c96a4b"/>
<rect x="616.56" y="461.42" width="13.74" height="16.6" fill="#78a358"/>
<rect x="630.30" y="461.42" width="2.29" height="16.6" fill="#a66db9"/>
<path d="M602.6 469.72H604.7" stroke="#333" stroke-width="0.7"/>
<text x="601.6" y="471.72" font-size="5.8" font-style="italic" text-anchor="end" fill="#444">BCL2</text>
<rect x="607.40" y="479.63" width="9.16" height="16.6" fill="#c96a4b"/>
<rect x="616.56" y="479.63" width="11.45" height="16.6" fill="#78a358"/>
<rect x="628.01" y="479.63" width="4.58" height="16.6" fill="#a66db9"/>
<path d="M602.6 487.93H604.7" stroke="#333" stroke-width="0.7"/>
<text x="601.6" y="489.93" font-size="5.8" font-style="italic" text-anchor="end" fill="#444">MEF2B</text>
<rect x="607.40" y="497.84" width="6.87" height="16.6" fill="#c96a4b"/>
<rect x="614.27" y="497.84" width="9.16" height="16.6" fill="#78a358"/>
<rect x="623.43" y="497.84" width="4.58" height="16.6" fill="#a66db9"/>
<path d="M602.6 506.14H604.7" stroke="#333" stroke-width="0.7"/>
<text x="601.6" y="508.14" font-size="5.8" font-style="italic" text-anchor="end" fill="#444">MYD88</text>
<rect x="607.40" y="516.05" width="2.29" height="16.6" fill="#c96a4b"/>
<rect x="609.69" y="516.05" width="16.03" height="16.6" fill="#78a358"/>
<rect x="625.72" y="516.05" width="2.29" height="16.6" fill="#a66db9"/>
<path d="M602.6 524.35H604.7" stroke="#333" stroke-width="0.7"/>
<text x="601.6" y="526.35" font-size="5.8" font-style="italic" text-anchor="end" fill="#444">CD79B</text>
<rect x="607.40" y="534.26" width="4.58" height="16.6" fill="#78a358"/>
<path d="M602.6 542.56H604.7" stroke="#333" stroke-width="0.7"/>
<text x="601.6" y="544.56" font-size="5.8" font-style="italic" text-anchor="end" fill="#444">NOTCH1</text>
<path d="M607.30 553.3v1.8" stroke="#333" stroke-width="0.7"/>
<text x="607.30" y="560.7" font-size="5.3" text-anchor="middle" fill="#444">0.0</text>
<path d="M630.23 553.3v1.8" stroke="#333" stroke-width="0.7"/>
<text x="630.23" y="560.7" font-size="5.3" text-anchor="middle" fill="#444">0.1</text>
<path d="M653.16 553.3v1.8" stroke="#333" stroke-width="0.7"/>
<text x="653.16" y="560.7" font-size="5.3" text-anchor="middle" fill="#444">0.2</text>
<path d="M676.09 553.3v1.8" stroke="#333" stroke-width="0.7"/>
<text x="676.09" y="560.7" font-size="5.3" text-anchor="middle" fill="#444">0.3</text>
<path d="M53.7 948.5L53.7 677.8L335.8 677.8Z" fill="#f5f0f8"/>
<path d="M53.7 948.5L335.8 948.5L335.8 677.8Z" fill="#eff5ec"/>
<path d="M124.23 677.8V948.5" stroke="#d9d9d9" stroke-width="0.5" fill="none"/>
<path d="M53.7 745.47H335.8" stroke="#e2e2e2" stroke-width="0.4" fill="none"/>
<path d="M194.75 677.8V948.5" stroke="#d9d9d9" stroke-width="0.5" fill="none"/>
<path d="M53.7 813.15H335.8" stroke="#e2e2e2" stroke-width="0.4" fill="none"/>
<path d="M265.28 677.8V948.5" stroke="#d9d9d9" stroke-width="0.5" fill="none"/>
<path d="M53.7 880.83H335.8" stroke="#e2e2e2" stroke-width="0.4" fill="none"/>
<path d="M53.7 948.5L335.8 677.8" stroke="#111" stroke-width="0.95" stroke-dasharray="4.4 3.0" fill="none"/>
<rect x="53.7" y="677.8" width="282.10" height="270.70" fill="none" stroke="#8a8a8a" stroke-width="0.9"/>
<clipPath id="c53"><rect x="54.0" y="677.8" width="282.10" height="270.90"/></clipPath>
<g clip-path="url(#c53)">
<circle cx="108.99" cy="813.15" r="1.6" fill="#000"/>
<circle cx="120.28" cy="813.15" r="1.6" fill="#000"/>
<circle cx="142.28" cy="813.15" r="1.6" fill="#000"/>
<circle cx="153.00" cy="813.15" r="1.6" fill="#000"/>
<circle cx="164.28" cy="813.15" r="1.6" fill="#000"/>
<circle cx="186.29" cy="813.15" r="1.6" fill="#000"/>
<circle cx="197.57" cy="813.15" r="1.6" fill="#000"/>
<circle cx="219.57" cy="813.15" r="1.6" fill="#000"/>
<circle cx="108.99" cy="846.99" r="1.6" fill="#000"/>
<circle cx="75.70" cy="880.83" r="1.6" fill="#000"/>
<circle cx="97.71" cy="880.83" r="1.6" fill="#000"/>
<circle cx="108.99" cy="880.83" r="1.6" fill="#000"/>
<circle cx="120.28" cy="880.83" r="1.6" fill="#000"/>
<circle cx="153.00" cy="880.83" r="1.6" fill="#000"/>
<circle cx="164.28" cy="880.83" r="1.6" fill="#000"/>
<circle cx="120.28" cy="914.66" r="1.6" fill="#000"/>
<circle cx="131.00" cy="914.66" r="1.6" fill="#000"/>
<circle cx="142.28" cy="914.66" r="1.6" fill="#000"/>
<circle cx="219.57" cy="914.66" r="1.6" fill="#000"/>
<circle cx="75.70" cy="948.50" r="1.6" fill="#000"/>
<circle cx="142.28" cy="948.50" r="1.6" fill="#000"/>
<circle cx="208.86" cy="948.50" r="1.6" fill="#ff0000"/>
</g>
<text x="208.86" y="945.70" font-size="6.9" text-anchor="middle" fill="#222">IRF8</text>
<text x="53.70" y="955.40" font-size="5.5" text-anchor="middle" fill="#666">0%</text>
<text x="50.50" y="950.40" font-size="5.5" text-anchor="end" fill="#666">0%</text>
<path d="M53.70 948.5v1.4M53.7 948.50h-1.4" stroke="#777" stroke-width="0.5" fill="none"/>
<text x="194.75" y="955.40" font-size="5.5" text-anchor="middle" fill="#666">25%</text>
<text x="50.50" y="815.05" font-size="5.5" text-anchor="end" fill="#666">25%</text>
<path d="M194.75 948.5v1.4M53.7 813.15h-1.4" stroke="#777" stroke-width="0.5" fill="none"/>
<text x="335.80" y="955.40" font-size="5.5" text-anchor="middle" fill="#666">50%</text>
<text x="50.50" y="679.70" font-size="5.5" text-anchor="end" fill="#666">50%</text>
<path d="M335.80 948.5v1.4M53.7 677.80h-1.4" stroke="#777" stroke-width="0.5" fill="none"/>
<text x="194.75" y="963.70" font-size="6.9" font-weight="bold" text-anchor="middle" fill="#78a358">PB−DLBCL</text>
<text transform="translate(36.10 813.15) rotate(-90)" font-size="6.9" font-weight="bold" text-anchor="middle" fill="#a66db9">Polyostotic−DLBCL</text>
<path d="M397.7 948.0L397.7 677.6L679.3 677.6Z" fill="#f3f1f7"/>
<path d="M397.7 948.0L679.3 948.0L679.3 677.6Z" fill="#faf1ec"/>
<path d="M468.10 677.6V948.0" stroke="#d9d9d9" stroke-width="0.5" fill="none"/>
<path d="M397.7 745.20H679.3" stroke="#e2e2e2" stroke-width="0.4" fill="none"/>
<path d="M538.50 677.6V948.0" stroke="#d9d9d9" stroke-width="0.5" fill="none"/>
<path d="M397.7 812.80H679.3" stroke="#e2e2e2" stroke-width="0.4" fill="none"/>
<path d="M608.90 677.6V948.0" stroke="#d9d9d9" stroke-width="0.5" fill="none"/>
<path d="M397.7 880.40H679.3" stroke="#e2e2e2" stroke-width="0.4" fill="none"/>
<path d="M397.7 948.0L679.3 677.6" stroke="#111" stroke-width="0.95" stroke-dasharray="4.4 3.0" fill="none"/>
<rect x="397.7" y="677.6" width="281.60" height="270.40" fill="none" stroke="#8a8a8a" stroke-width="0.9"/>
<clipPath id="c397"><rect x="398.0" y="677.6" width="281.60" height="270.60"/></clipPath>
<g clip-path="url(#c397)">
<circle cx="432.06" cy="799.82" r="1.6" fill="#000"/>
<circle cx="465.85" cy="794.95" r="1.6" fill="#000"/>
<circle cx="414.88" cy="818.75" r="1.6" fill="#ff0000"/>
<circle cx="500.20" cy="811.18" r="1.6" fill="#000"/>
<circle cx="500.20" cy="818.75" r="1.6" fill="#000"/>
<circle cx="500.20" cy="835.51" r="1.6" fill="#000"/>
<circle cx="448.95" cy="843.08" r="1.6" fill="#000"/>
<circle cx="448.95" cy="851.20" r="1.6" fill="#000"/>
<circle cx="483.02" cy="851.20" r="1.6" fill="#000"/>
<circle cx="517.10" cy="851.20" r="1.6" fill="#000"/>
<circle cx="414.88" cy="859.31" r="1.6" fill="#000"/>
<circle cx="517.10" cy="863.09" r="1.6" fill="#000"/>
<circle cx="568.35" cy="867.42" r="1.6" fill="#000"/>
<circle cx="432.06" cy="875.53" r="1.6" fill="#000"/>
<circle cx="483.02" cy="875.53" r="1.6" fill="#000"/>
<circle cx="585.25" cy="875.53" r="1.6" fill="#ff0000"/>
<circle cx="414.88" cy="883.64" r="1.6" fill="#000"/>
<circle cx="500.20" cy="883.64" r="1.6" fill="#000"/>
<circle cx="465.85" cy="891.76" r="1.6" fill="#000"/>
<circle cx="483.02" cy="891.76" r="1.6" fill="#000"/>
<circle cx="448.95" cy="899.87" r="1.6" fill="#000"/>
<circle cx="517.10" cy="916.09" r="1.6" fill="#ff0000"/>
<circle cx="397.70" cy="926.91" r="1.6" fill="#000"/>
</g>
<text x="411.48" y="816.15" font-size="6.9" text-anchor="start" fill="#222">EZH2</text>
<text x="579.75" y="883.83" font-size="6.9" text-anchor="middle" fill="#222">HIST1H1E</text>
<text x="523.10" y="913.29" font-size="6.9" text-anchor="middle" fill="#222">MYC</text>
<text x="397.70" y="954.90" font-size="5.5" text-anchor="middle" fill="#666">0%</text>
<text x="394.50" y="949.90" font-size="5.5" text-anchor="end" fill="#666">0%</text>
<path d="M397.70 948.0v1.4M397.7 948.00h-1.4" stroke="#777" stroke-width="0.5" fill="none"/>
<text x="538.50" y="954.90" font-size="5.5" text-anchor="middle" fill="#666">25%</text>
<text x="394.50" y="814.70" font-size="5.5" text-anchor="end" fill="#666">25%</text>
<path d="M538.50 948.0v1.4M397.7 812.80h-1.4" stroke="#777" stroke-width="0.5" fill="none"/>
<text x="679.30" y="954.90" font-size="5.5" text-anchor="middle" fill="#666">50%</text>
<text x="394.50" y="679.50" font-size="5.5" text-anchor="end" fill="#666">50%</text>
<path d="M679.30 948.0v1.4M397.7 677.60h-1.4" stroke="#777" stroke-width="0.5" fill="none"/>
<text x="538.50" y="963.20" font-size="6.9" font-weight="bold" text-anchor="middle" fill="#c96a4b">Nodal−DLBCL−GCB</text>
<text transform="translate(380.10 812.80) rotate(-90)" font-size="6.9" font-weight="bold" text-anchor="middle" fill="#8d7b9b">Bone−DLBCL</text>
</svg>
</body></html>
